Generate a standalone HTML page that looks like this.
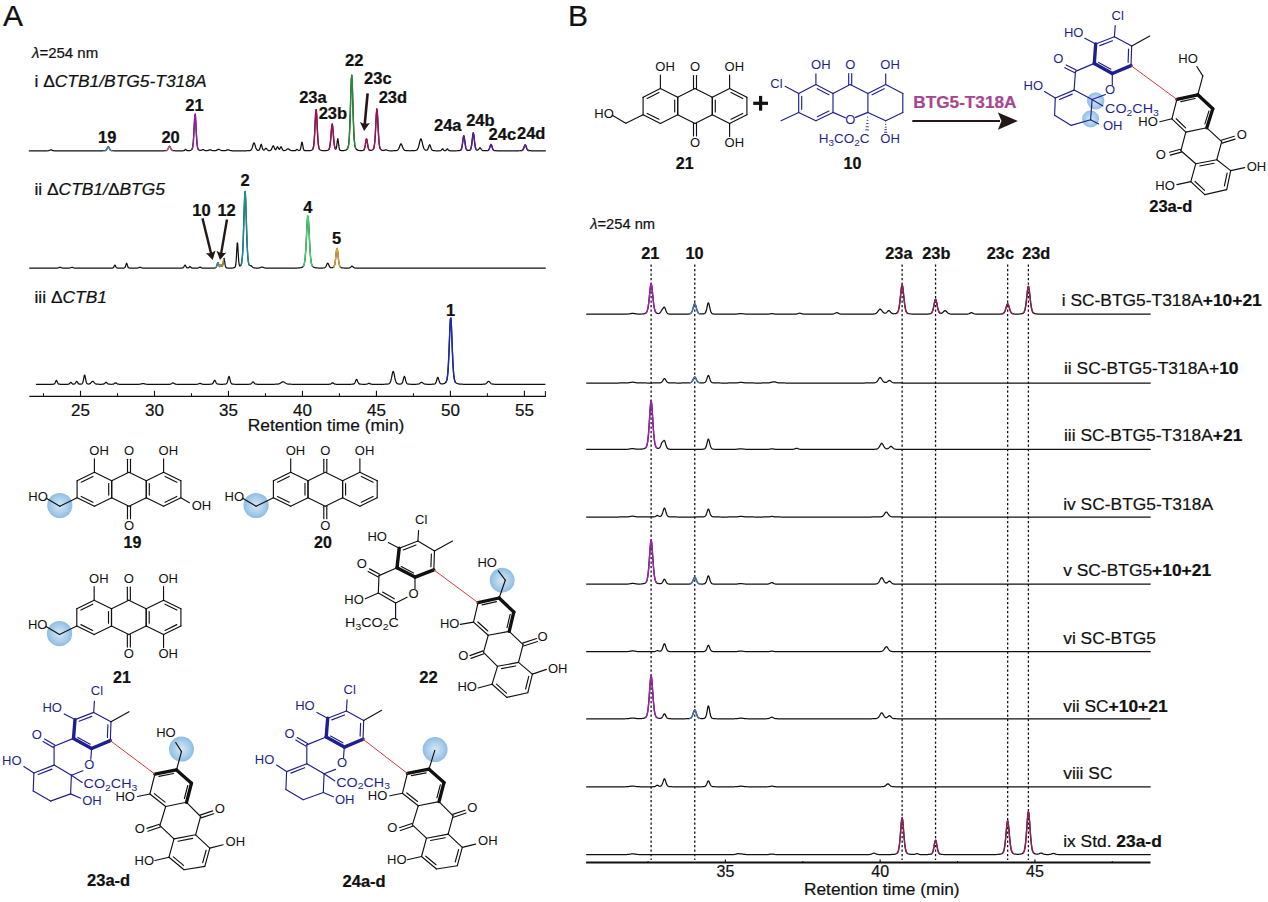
<!DOCTYPE html>
<html><head><meta charset="utf-8"><style>
html,body{margin:0;padding:0;background:#fff;}
svg{display:block;}
text{font-family:"Liberation Sans", sans-serif;stroke-width:0.22px;paint-order:stroke;}
</style></head><body>
<svg width="1268" height="902" viewBox="0 0 1268 902">
<rect width="1268" height="902" fill="#fff"/>
<defs>
<radialGradient id="bg" cx="0.5" cy="0.5" r="0.5">
<stop offset="0" stop-color="#d6e8f6"/><stop offset="0.65" stop-color="#a9cdea"/><stop offset="1" stop-color="#8dbde3"/>
</radialGradient>
</defs>
<text x="3" y="26" font-size="30" font-weight="normal" font-style="normal" text-anchor="start" fill="#111" stroke="#111">A</text>
<text x="32" y="58" font-size="15" font-weight="normal" font-style="normal" text-anchor="start" fill="#111" stroke="#111"><tspan font-style="italic">λ</tspan>=254 nm</text>
<text x="34.5" y="86.6" font-size="17.4" font-weight="normal" font-style="normal" text-anchor="start" fill="#111" stroke="#111">i Δ<tspan font-style="italic">CTB1/BTG5-T318A</tspan></text>
<text x="34.4" y="194.8" font-size="17.4" font-weight="normal" font-style="normal" text-anchor="start" fill="#111" stroke="#111">ii Δ<tspan font-style="italic">CTB1/</tspan>Δ<tspan font-style="italic">BTG5</tspan></text>
<text x="34.5" y="302.6" font-size="17.4" font-weight="normal" font-style="normal" text-anchor="start" fill="#111" stroke="#111">iii Δ<tspan font-style="italic">CTB1</tspan></text>
<path d="M28.8,150.8 L29.3,150.8 L29.8,150.8 L30.3,150.8 L30.8,150.8 L31.3,150.8 L31.8,150.8 L32.3,150.8 L32.8,150.8 L33.3,150.8 L33.8,150.8 L34.3,150.8 L34.8,150.8 L35.3,150.8 L35.8,150.8 L36.3,150.8 L36.8,150.8 L37.3,150.8 L37.8,150.8 L38.3,150.8 L38.8,150.8 L39.3,150.8 L39.8,150.8 L40.3,150.8 L40.8,150.8 L41.3,150.8 L41.8,150.8 L42.3,150.8 L42.8,150.8 L43.3,150.8 L43.8,150.8 L44.3,150.8 L44.8,150.79 L45.3,150.79 L45.8,150.79 L46.3,150.79 L46.8,150.78 L47.3,150.77 L47.8,150.75 L48.3,150.71 L48.8,150.62 L49.3,150.46 L49.8,150.22 L50.3,149.96 L50.8,149.81 L51.3,149.88 L51.8,150.11 L52.3,150.37 L52.8,150.56 L53.3,150.68 L53.8,150.74 L54.3,150.76 L54.8,150.78 L55.3,150.78 L55.8,150.79 L56.3,150.79 L56.8,150.79 L57.3,150.8 L57.8,150.8 L58.3,150.8 L58.8,150.8 L59.3,150.8 L59.8,150.8 L60.3,150.8 L60.8,150.8 L61.3,150.8 L61.8,150.8 L62.3,150.8 L62.8,150.8 L63.3,150.8 L63.8,150.8 L64.3,150.8 L64.8,150.8 L65.3,150.8 L65.8,150.8 L66.3,150.8 L66.8,150.8 L67.3,150.8 L67.8,150.8 L68.3,150.8 L68.8,150.8 L69.3,150.8 L69.8,150.8 L70.3,150.8 L70.8,150.8 L71.3,150.8 L71.8,150.8 L72.3,150.8 L72.8,150.8 L73.3,150.8 L73.8,150.8 L74.3,150.8 L74.8,150.8 L75.3,150.8 L75.8,150.8 L76.3,150.8 L76.8,150.8 L77.3,150.8 L77.8,150.8 L78.3,150.8 L78.8,150.8 L79.3,150.8 L79.8,150.8 L80.3,150.8 L80.8,150.8 L81.3,150.8 L81.8,150.8 L82.3,150.8 L82.8,150.8 L83.3,150.8 L83.8,150.8 L84.3,150.8 L84.8,150.8 L85.3,150.8 L85.8,150.8 L86.3,150.8 L86.8,150.8 L87.3,150.8 L87.8,150.8 L88.3,150.8 L88.8,150.8 L89.3,150.8 L89.8,150.8 L90.3,150.8 L90.8,150.8 L91.3,150.8 L91.8,150.8 L92.3,150.8 L92.8,150.8 L93.3,150.8 L93.8,150.8 L94.3,150.8 L94.8,150.8 L95.3,150.8 L95.8,150.8 L96.3,150.8 L96.8,150.8 L97.3,150.8 L97.8,150.8 L98.3,150.8 L98.8,150.8 L99.3,150.8 L99.8,150.79 L100.3,150.79 L100.8,150.79 L101.3,150.78 L101.8,150.78 L102.3,150.77 L102.8,150.76 L103.3,150.75 L103.8,150.73 L104.3,150.69 L104.8,150.64 L105.3,150.52 L105.8,150.28 L106.3,149.82 L106.8,149.09 L107.3,148.13 L107.8,147.21 L108.3,146.8 L108.8,147.21 L109.3,148.13 L109.8,149.09 L110.3,149.82 L110.8,150.28 L111.3,150.52 L111.8,150.64 L112.3,150.69 L112.8,150.73 L113.3,150.75 L113.8,150.76 L114.3,150.77 L114.8,150.78 L115.3,150.78 L115.8,150.79 L116.3,150.79 L116.8,150.79 L117.3,150.8 L117.8,150.8 L118.3,150.8 L118.8,150.8 L119.3,150.8 L119.8,150.8 L120.3,150.8 L120.8,150.8 L121.3,150.8 L121.8,150.8 L122.3,150.8 L122.8,150.8 L123.3,150.8 L123.8,150.8 L124.3,150.8 L124.8,150.8 L125.3,150.8 L125.8,150.8 L126.3,150.8 L126.8,150.8 L127.3,150.8 L127.8,150.8 L128.3,150.8 L128.8,150.8 L129.3,150.8 L129.8,150.8 L130.3,150.8 L130.8,150.8 L131.3,150.8 L131.8,150.8 L132.3,150.8 L132.8,150.8 L133.3,150.8 L133.8,150.8 L134.3,150.8 L134.8,150.8 L135.3,150.8 L135.8,150.8 L136.3,150.8 L136.8,150.8 L137.3,150.8 L137.8,150.8 L138.3,150.8 L138.8,150.8 L139.3,150.8 L139.8,150.8 L140.3,150.8 L140.8,150.8 L141.3,150.8 L141.8,150.8 L142.3,150.8 L142.8,150.8 L143.3,150.8 L143.8,150.8 L144.3,150.8 L144.8,150.8 L145.3,150.8 L145.8,150.8 L146.3,150.8 L146.8,150.8 L147.3,150.8 L147.8,150.8 L148.3,150.8 L148.8,150.8 L149.3,150.8 L149.8,150.8 L150.3,150.8 L150.8,150.8 L151.3,150.8 L151.8,150.8 L152.3,150.8 L152.8,150.8 L153.3,150.8 L153.8,150.8 L154.3,150.8 L154.8,150.8 L155.3,150.8 L155.8,150.8 L156.3,150.8 L156.8,150.8 L157.3,150.8 L157.8,150.8 L158.3,150.8 L158.8,150.8 L159.3,150.8 L159.8,150.8 L160.3,150.8 L160.8,150.79 L161.3,150.79 L161.8,150.79 L162.3,150.78 L162.8,150.78 L163.3,150.77 L163.8,150.76 L164.3,150.75 L164.8,150.73 L165.3,150.7 L165.8,150.65 L166.3,150.55 L166.8,150.35 L167.3,149.94 L167.8,149.24 L168.3,148.25 L168.8,147.14 L169.3,146.38 L169.8,146.47 L170.3,147.35 L170.8,148.46 L171.3,149.41 L171.8,150.04 L172.3,150.4 L172.8,150.58 L173.3,150.66 L173.8,150.71 L174.3,150.73 L174.8,150.75 L175.3,150.76 L175.8,150.77 L176.3,150.78 L176.8,150.78 L177.3,150.79 L177.8,150.79 L178.3,150.79 L178.8,150.8 L179.3,150.8 L179.8,150.8 L180.3,150.8 L180.8,150.79 L181.3,150.79 L181.8,150.79 L182.3,150.78 L182.8,150.77 L183.3,150.74 L183.8,150.66 L184.3,150.43 L184.8,149.96 L185.3,149.42 L185.8,149.35 L186.3,149.83 L186.8,150.33 L187.3,150.58 L187.8,150.67 L188.3,150.67 L188.8,150.65 L189.3,150.6 L189.8,150.53 L190.3,150.42 L190.8,150.27 L191.3,150.03 L191.8,149.61 L192.3,148.71 L192.8,146.65 L193.3,142.25 L193.8,134.53 L194.3,124.16 L194.8,115.18 L195.3,114.15 L195.8,122.05 L196.3,132.59 L196.8,140.98 L197.3,145.99 L197.8,148.42 L198.3,149.47 L198.8,149.94 L199.3,150.2 L199.8,150.35 L200.3,150.42 L200.8,150.41 L201.3,150.29 L201.8,150.06 L202.3,149.77 L202.8,149.57 L203.3,149.61 L203.8,149.87 L204.3,150.19 L204.8,150.44 L205.3,150.59 L205.8,150.66 L206.3,150.67 L206.8,150.65 L207.3,150.58 L207.8,150.46 L208.3,150.3 L208.8,150.1 L209.3,149.92 L209.8,149.8 L210.3,149.81 L210.8,149.95 L211.3,150.14 L211.8,150.33 L212.3,150.49 L212.8,150.59 L213.3,150.66 L213.8,150.69 L214.3,150.7 L214.8,150.68 L215.3,150.63 L215.8,150.54 L216.3,150.38 L216.8,150.16 L217.3,149.88 L217.8,149.59 L218.3,149.36 L218.8,149.3 L219.3,149.43 L219.8,149.7 L220.3,150 L220.8,150.26 L221.3,150.46 L221.8,150.58 L222.3,150.66 L222.8,150.7 L223.3,150.72 L223.8,150.72 L224.3,150.7 L224.8,150.66 L225.3,150.58 L225.8,150.46 L226.3,150.3 L226.8,150.1 L227.3,149.92 L227.8,149.81 L228.3,149.82 L228.8,149.96 L229.3,150.15 L229.8,150.34 L230.3,150.5 L230.8,150.62 L231.3,150.69 L231.8,150.73 L232.3,150.76 L232.8,150.77 L233.3,150.78 L233.8,150.78 L234.3,150.79 L234.8,150.79 L235.3,150.79 L235.8,150.79 L236.3,150.8 L236.8,150.8 L237.3,150.8 L237.8,150.8 L238.3,150.8 L238.8,150.8 L239.3,150.8 L239.8,150.8 L240.3,150.8 L240.8,150.8 L241.3,150.8 L241.8,150.8 L242.3,150.8 L242.8,150.79 L243.3,150.79 L243.8,150.79 L244.3,150.79 L244.8,150.78 L245.3,150.78 L245.8,150.77 L246.3,150.76 L246.8,150.75 L247.3,150.74 L247.8,150.72 L248.3,150.7 L248.8,150.66 L249.3,150.62 L249.8,150.54 L250.3,150.4 L250.8,150.12 L251.3,149.61 L251.8,148.74 L252.3,147.42 L252.8,145.73 L253.3,144.01 L253.8,142.91 L254.3,143.04 L254.8,144.32 L255.3,146.07 L255.8,147.69 L256.3,148.91 L256.8,149.69 L257.3,150.12 L257.8,150.31 L258.3,150.36 L258.8,150.26 L259.3,149.85 L259.8,148.83 L260.3,147.02 L260.8,144.97 L261.3,144.27 L261.8,145.74 L262.3,147.83 L262.8,149.32 L263.3,150 L263.8,150.12 L264.3,149.87 L264.8,149.37 L265.3,148.74 L265.8,148.29 L266.3,148.36 L266.8,148.91 L267.3,149.56 L267.8,150.08 L268.3,150.39 L268.8,150.54 L269.3,150.58 L269.8,150.55 L270.3,150.44 L270.8,150.16 L271.3,149.59 L271.8,148.62 L272.3,147.33 L272.8,146.14 L273.3,145.78 L273.8,146.53 L274.3,147.8 L274.8,148.92 L275.3,149.57 L275.8,149.61 L276.3,148.97 L276.8,147.8 L277.3,146.75 L277.8,146.88 L278.3,148.01 L278.8,149.02 L279.3,149.3 L279.8,148.76 L280.3,147.7 L280.8,146.8 L281.3,146.95 L281.8,148.03 L282.3,149.2 L282.8,149.99 L283.3,150.38 L283.8,150.53 L284.3,150.55 L284.8,150.49 L285.3,150.35 L285.8,150.12 L286.3,149.8 L286.8,149.41 L287.3,149.04 L287.8,148.82 L288.3,148.85 L288.8,149.12 L289.3,149.5 L289.8,149.89 L290.3,150.21 L290.8,150.44 L291.3,150.58 L291.8,150.66 L292.3,150.71 L292.8,150.73 L293.3,150.74 L293.8,150.74 L294.3,150.74 L294.8,150.71 L295.3,150.61 L295.8,150.34 L296.3,149.83 L296.8,149.33 L297.3,149.39 L297.8,149.9 L298.3,150.33 L298.8,150.51 L299.3,150.49 L299.8,150.27 L300.3,149.56 L300.8,147.83 L301.3,144.87 L301.8,142.12 L302.3,142.51 L302.8,145.53 L303.3,148.29 L303.8,149.79 L304.3,150.37 L304.8,150.57 L305.3,150.65 L305.8,150.7 L306.3,150.73 L306.8,150.74 L307.3,150.74 L307.8,150.73 L308.3,150.72 L308.8,150.69 L309.3,150.65 L309.8,150.6 L310.3,150.53 L310.8,150.42 L311.3,150.28 L311.8,150.07 L312.3,149.74 L312.8,149.13 L313.3,147.82 L313.8,144.99 L314.3,139.51 L314.8,130.7 L315.3,119.7 L315.8,110.64 L316.3,109.63 L316.8,117.54 L317.3,128.6 L317.8,138.01 L318.3,144.14 L318.8,147.41 L319.3,148.94 L319.8,149.64 L320.3,150.01 L320.8,150.24 L321.3,150.39 L321.8,150.5 L322.3,150.57 L322.8,150.62 L323.3,150.66 L323.8,150.67 L324.3,150.68 L324.8,150.68 L325.3,150.66 L325.8,150.63 L326.3,150.58 L326.8,150.51 L327.3,150.41 L327.8,150.26 L328.3,150.03 L328.8,149.59 L329.3,148.67 L329.8,146.8 L330.3,143.37 L330.8,138.04 L331.3,131.42 L331.8,125.6 L332.3,123.9 L332.8,127.61 L333.3,134.09 L333.8,140.31 L334.3,144.83 L334.8,147.5 L335.3,148.76 L335.8,149.03 L336.3,148.13 L336.8,145.39 L337.3,141.08 L337.8,138.54 L338.3,141.23 L338.8,145.71 L339.3,148.68 L339.8,149.93 L340.3,150.36 L340.8,150.52 L341.3,150.59 L341.8,150.63 L342.3,150.64 L342.8,150.63 L343.3,150.6 L343.8,150.55 L344.3,150.48 L344.8,150.38 L345.3,150.25 L345.8,150.07 L346.3,149.83 L346.8,149.5 L347.3,149 L347.8,148.17 L348.3,146.58 L348.8,143.4 L349.3,137.33 L349.8,126.99 L350.3,111.99 L350.8,94.29 L351.3,79.36 L351.8,75.1 L352.3,84.49 L352.8,101.43 L353.3,118.49 L353.8,131.7 L354.3,140.2 L354.8,144.93 L355.3,147.34 L355.8,148.56 L356.3,149.23 L356.8,149.65 L357.3,149.94 L357.8,150.15 L358.3,150.3 L358.8,150.42 L359.3,150.5 L359.8,150.56 L360.3,150.6 L360.8,150.62 L361.3,150.62 L361.8,150.61 L362.3,150.57 L362.8,150.5 L363.3,150.35 L363.8,150.02 L364.3,149.25 L364.8,147.65 L365.3,144.96 L365.8,141.59 L366.3,139.05 L366.8,139.38 L367.3,142.24 L367.8,145.55 L368.3,148 L368.8,149.39 L369.3,150.02 L369.8,150.26 L370.3,150.34 L370.8,150.34 L371.3,150.29 L371.8,150.19 L372.3,150.02 L372.8,149.73 L373.3,149.22 L373.8,148.17 L374.3,145.97 L374.8,141.71 L375.3,134.6 L375.8,124.87 L376.3,114.77 L376.8,108.98 L377.3,111.62 L377.8,120.67 L378.3,130.96 L378.8,139.24 L379.3,144.57 L379.8,147.48 L380.3,148.91 L380.8,149.59 L381.3,149.96 L381.8,150.18 L382.3,150.33 L382.8,150.43 L383.3,150.48 L383.8,150.46 L384.3,150.36 L384.8,150.17 L385.3,149.94 L385.8,149.77 L386.3,149.81 L386.8,150.03 L387.3,150.3 L387.8,150.51 L388.3,150.65 L388.8,150.72 L389.3,150.75 L389.8,150.76 L390.3,150.77 L390.8,150.77 L391.3,150.77 L391.8,150.77 L392.3,150.77 L392.8,150.76 L393.3,150.75 L393.8,150.74 L394.3,150.72 L394.8,150.7 L395.3,150.68 L395.8,150.64 L396.3,150.58 L396.8,150.47 L397.3,150.29 L397.8,149.95 L398.3,149.4 L398.8,148.54 L399.3,147.36 L399.8,145.99 L400.3,144.68 L400.8,143.88 L401.3,143.98 L401.8,144.92 L402.3,146.27 L402.8,147.62 L403.3,148.73 L403.8,149.53 L404.3,150.04 L404.8,150.33 L405.3,150.5 L405.8,150.59 L406.3,150.64 L406.8,150.68 L407.3,150.7 L407.8,150.72 L408.3,150.73 L408.8,150.74 L409.3,150.75 L409.8,150.75 L410.3,150.75 L410.8,150.74 L411.3,150.74 L411.8,150.73 L412.3,150.72 L412.8,150.7 L413.3,150.68 L413.8,150.65 L414.3,150.62 L414.8,150.57 L415.3,150.5 L415.8,150.4 L416.3,150.23 L416.8,149.94 L417.3,149.45 L417.8,148.66 L418.3,147.46 L418.8,145.81 L419.3,143.77 L419.8,141.6 L420.3,139.75 L420.8,138.82 L421.3,139.23 L421.8,140.78 L422.3,142.89 L422.8,145.01 L423.3,146.83 L423.8,148.2 L424.3,149.13 L424.8,149.71 L425.3,150.04 L425.8,150.2 L426.3,150.25 L426.8,150.17 L427.3,149.88 L427.8,149.22 L428.3,148.09 L428.8,146.57 L429.3,145.17 L429.8,144.76 L430.3,145.7 L430.8,147.27 L431.3,148.71 L431.8,149.68 L432.3,150.23 L432.8,150.49 L433.3,150.61 L433.8,150.67 L434.3,150.71 L434.8,150.73 L435.3,150.75 L435.8,150.76 L436.3,150.77 L436.8,150.78 L437.3,150.78 L437.8,150.78 L438.3,150.78 L438.8,150.78 L439.3,150.77 L439.8,150.75 L440.3,150.71 L440.8,150.57 L441.3,150.21 L441.8,149.54 L442.3,148.88 L442.8,148.97 L443.3,149.68 L443.8,150.29 L444.3,150.58 L444.8,150.67 L445.3,150.65 L445.8,150.5 L446.3,150.08 L446.8,149.38 L447.3,148.81 L447.8,149.09 L448.3,149.84 L448.8,150.39 L449.3,150.64 L449.8,150.73 L450.3,150.76 L450.8,150.78 L451.3,150.78 L451.8,150.79 L452.3,150.79 L452.8,150.79 L453.3,150.79 L453.8,150.79 L454.3,150.79 L454.8,150.79 L455.3,150.78 L455.8,150.78 L456.3,150.77 L456.8,150.75 L457.3,150.74 L457.8,150.71 L458.3,150.68 L458.8,150.64 L459.3,150.57 L459.8,150.48 L460.3,150.31 L460.8,149.97 L461.3,149.22 L461.8,147.69 L462.3,145.01 L462.8,141.29 L463.3,137.52 L463.8,135.79 L464.3,137.51 L464.8,141.27 L465.3,144.99 L465.8,147.65 L466.3,149.16 L466.8,149.89 L467.3,150.21 L467.8,150.33 L468.3,150.38 L468.8,150.36 L469.3,150.29 L469.8,150.12 L470.3,149.74 L470.8,148.86 L471.3,147.03 L471.8,143.83 L472.3,139.37 L472.8,134.85 L473.3,132.78 L473.8,134.85 L474.3,139.37 L474.8,143.83 L475.3,147.02 L475.8,148.85 L476.3,149.72 L476.8,150.08 L477.3,150.17 L477.8,150.05 L478.3,149.69 L478.8,149.07 L479.3,148.32 L479.8,147.78 L480.3,147.88 L480.8,148.54 L481.3,149.33 L481.8,149.97 L482.3,150.36 L482.8,150.57 L483.3,150.66 L483.8,150.7 L484.3,150.72 L484.8,150.73 L485.3,150.73 L485.8,150.72 L486.3,150.7 L486.8,150.67 L487.3,150.61 L487.8,150.51 L488.3,150.27 L488.8,149.77 L489.3,148.82 L489.8,147.36 L490.3,145.65 L490.8,144.43 L491.3,144.58 L491.8,145.99 L492.3,147.69 L492.8,149.05 L493.3,149.9 L493.8,150.34 L494.3,150.54 L494.8,150.64 L495.3,150.69 L495.8,150.72 L496.3,150.74 L496.8,150.76 L497.3,150.77 L497.8,150.78 L498.3,150.78 L498.8,150.79 L499.3,150.79 L499.8,150.79 L500.3,150.8 L500.8,150.8 L501.3,150.8 L501.8,150.8 L502.3,150.8 L502.8,150.8 L503.3,150.8 L503.8,150.8 L504.3,150.8 L504.8,150.8 L505.3,150.8 L505.8,150.8 L506.3,150.8 L506.8,150.8 L507.3,150.8 L507.8,150.8 L508.3,150.8 L508.8,150.8 L509.3,150.8 L509.8,150.8 L510.3,150.8 L510.8,150.8 L511.3,150.8 L511.8,150.8 L512.3,150.8 L512.8,150.8 L513.3,150.8 L513.8,150.8 L514.3,150.8 L514.8,150.8 L515.3,150.8 L515.8,150.79 L516.3,150.79 L516.8,150.79 L517.3,150.79 L517.8,150.78 L518.3,150.77 L518.8,150.77 L519.3,150.75 L519.8,150.74 L520.3,150.71 L520.8,150.68 L521.3,150.63 L521.8,150.53 L522.3,150.33 L522.8,149.91 L523.3,149.15 L523.8,147.97 L524.3,146.5 L524.8,145.2 L525.3,144.83 L525.8,145.65 L526.3,147.1 L526.8,148.49 L527.3,149.5 L527.8,150.11 L528.3,150.43 L528.8,150.58 L529.3,150.65 L529.8,150.7 L530.3,150.72 L530.8,150.74 L531.3,150.76 L531.8,150.77 L532.3,150.78 L532.8,150.78 L533.3,150.79 L533.8,150.79 L534.3,150.79 L534.8,150.8 L535.3,150.8 L535.8,150.8 L536.3,150.8 L536.8,150.8 L537.3,150.8 L537.8,150.8 L538.3,150.8 L538.8,150.8 L539.3,150.8 L539.8,150.8 L540.3,150.8 L540.8,150.8 L541.3,150.8 L541.8,150.8 L542.3,150.8 L542.8,150.8 L543.3,150.8 L543.8,150.8 L544.3,150.8 L544.8,150.8 L545.3,150.8 L545.8,150.8" fill="none" stroke="#111" stroke-width="1.25" stroke-linejoin="round"/>
<path d="M104.3,150.69 L104.8,150.64 L105.3,150.52 L105.8,150.28 L106.3,149.82 L106.8,149.09 L107.3,148.13 L107.8,147.21 L108.3,146.8 L108.8,147.21 L109.3,148.13 L109.8,149.09 L110.3,149.82 L110.8,150.28 L111.3,150.52 L111.8,150.64 L112.3,150.69" fill="none" stroke="#4a78c0" stroke-width="1.4" stroke-linejoin="round"/>
<path d="M165.8,150.65 L166.3,150.55 L166.8,150.35 L167.3,149.94 L167.8,149.24 L168.3,148.25 L168.8,147.14 L169.3,146.38 L169.8,146.47 L170.3,147.35 L170.8,148.46 L171.3,149.41 L171.8,150.04 L172.3,150.4 L172.8,150.58 L173.3,150.66" fill="none" stroke="#c0508a" stroke-width="1.4" stroke-linejoin="round"/>
<path d="M191.8,149.61 L192.3,148.71 L192.8,146.65 L193.3,142.25 L193.8,134.53 L194.3,124.16 L194.8,115.18 L195.3,114.15 L195.8,122.05 L196.3,132.59 L196.8,140.98 L197.3,145.99 L197.8,148.42 L198.3,149.47" fill="none" stroke="#9020a8" stroke-width="1.4" stroke-linejoin="round"/>
<path d="M312.3,149.74 L312.8,149.13 L313.3,147.82 L313.8,144.99 L314.3,139.51 L314.8,130.7 L315.3,119.7 L315.8,110.64 L316.3,109.63 L316.8,117.54 L317.3,128.6 L317.8,138.01 L318.3,144.14 L318.8,147.41 L319.3,148.94 L319.8,149.64" fill="none" stroke="#a0105a" stroke-width="1.4" stroke-linejoin="round"/>
<path d="M328.3,150.03 L328.8,149.59 L329.3,148.67 L329.8,146.8 L330.3,143.37 L330.8,138.04 L331.3,131.42 L331.8,125.6 L332.3,123.9 L332.8,127.61 L333.3,134.09 L333.8,140.31 L334.3,144.83 L334.8,147.5 L335.3,148.76 L335.8,149.03 L336.3,148.13" fill="none" stroke="#a0105a" stroke-width="1.4" stroke-linejoin="round"/>
<path d="M347.3,149 L347.8,148.17 L348.3,146.58 L348.8,143.4 L349.3,137.33 L349.8,126.99 L350.3,111.99 L350.8,94.29 L351.3,79.36 L351.8,75.1 L352.3,84.49 L352.8,101.43 L353.3,118.49 L353.8,131.7 L354.3,140.2 L354.8,144.93 L355.3,147.34 L355.8,148.56" fill="none" stroke="#2a8a3a" stroke-width="1.4" stroke-linejoin="round"/>
<path d="M363.3,150.35 L363.8,150.02 L364.3,149.25 L364.8,147.65 L365.3,144.96 L365.8,141.59 L366.3,139.05 L366.8,139.38 L367.3,142.24 L367.8,145.55 L368.3,148 L368.8,149.39 L369.3,150.02 L369.8,150.26" fill="none" stroke="#a0105a" stroke-width="1.4" stroke-linejoin="round"/>
<path d="M372.8,149.73 L373.3,149.22 L373.8,148.17 L374.3,145.97 L374.8,141.71 L375.3,134.6 L375.8,124.87 L376.3,114.77 L376.8,108.98 L377.3,111.62 L377.8,120.67 L378.3,130.96 L378.8,139.24 L379.3,144.57 L379.8,147.48 L380.3,148.91 L380.8,149.59" fill="none" stroke="#a0105a" stroke-width="1.4" stroke-linejoin="round"/>
<path d="M460.3,150.31 L460.8,149.97 L461.3,149.22 L461.8,147.69 L462.3,145.01 L462.8,141.29 L463.3,137.52 L463.8,135.79 L464.3,137.51 L464.8,141.27 L465.3,144.99 L465.8,147.65 L466.3,149.16 L466.8,149.89 L467.3,150.21" fill="none" stroke="#5a1a9a" stroke-width="1.4" stroke-linejoin="round"/>
<path d="M469.8,150.12 L470.3,149.74 L470.8,148.86 L471.3,147.03 L471.8,143.83 L472.3,139.37 L472.8,134.85 L473.3,132.78 L473.8,134.85 L474.3,139.37 L474.8,143.83 L475.3,147.02 L475.8,148.85 L476.3,149.72 L476.8,150.08" fill="none" stroke="#5a1a9a" stroke-width="1.4" stroke-linejoin="round"/>
<path d="M487.3,150.61 L487.8,150.51 L488.3,150.27 L488.8,149.77 L489.3,148.82 L489.8,147.36 L490.3,145.65 L490.8,144.43 L491.3,144.58 L491.8,145.99 L492.3,147.69 L492.8,149.05 L493.3,149.9 L493.8,150.34 L494.3,150.54 L494.8,150.64" fill="none" stroke="#5a1a9a" stroke-width="1.4" stroke-linejoin="round"/>
<path d="M521.3,150.63 L521.8,150.53 L522.3,150.33 L522.8,149.91 L523.3,149.15 L523.8,147.97 L524.3,146.5 L524.8,145.2 L525.3,144.83 L525.8,145.65 L526.3,147.1 L526.8,148.49 L527.3,149.5 L527.8,150.11 L528.3,150.43 L528.8,150.58 L529.3,150.65" fill="none" stroke="#5a1a9a" stroke-width="1.4" stroke-linejoin="round"/>
<path d="M29.2,268.1 L29.7,268.1 L30.2,268.1 L30.7,268.1 L31.2,268.1 L31.7,268.1 L32.2,268.1 L32.7,268.1 L33.2,268.1 L33.7,268.1 L34.2,268.1 L34.7,268.1 L35.2,268.1 L35.7,268.1 L36.2,268.1 L36.7,268.1 L37.2,268.1 L37.7,268.1 L38.2,268.1 L38.7,268.1 L39.2,268.1 L39.7,268.1 L40.2,268.1 L40.7,268.1 L41.2,268.1 L41.7,268.1 L42.2,268.1 L42.7,268.1 L43.2,268.1 L43.7,268.1 L44.2,268.1 L44.7,268.1 L45.2,268.1 L45.7,268.1 L46.2,268.1 L46.7,268.1 L47.2,268.1 L47.7,268.1 L48.2,268.1 L48.7,268.1 L49.2,268.1 L49.7,268.1 L50.2,268.1 L50.7,268.1 L51.2,268.1 L51.7,268.1 L52.2,268.1 L52.7,268.1 L53.2,268.1 L53.7,268.1 L54.2,268.09 L54.7,268.09 L55.2,268.09 L55.7,268.09 L56.2,268.08 L56.7,268.07 L57.2,268.04 L57.7,267.99 L58.2,267.88 L58.7,267.72 L59.2,267.51 L59.7,267.34 L60.2,267.32 L60.7,267.47 L61.2,267.68 L61.7,267.86 L62.2,267.97 L62.7,268.03 L63.2,268.06 L63.7,268.08 L64.2,268.08 L64.7,268.09 L65.2,268.09 L65.7,268.09 L66.2,268.09 L66.7,268.09 L67.2,268.09 L67.7,268.08 L68.2,268.08 L68.7,268.07 L69.2,268.04 L69.7,267.99 L70.2,267.88 L70.7,267.72 L71.2,267.51 L71.7,267.34 L72.2,267.32 L72.7,267.47 L73.2,267.68 L73.7,267.86 L74.2,267.97 L74.7,268.04 L75.2,268.06 L75.7,268.08 L76.2,268.09 L76.7,268.09 L77.2,268.09 L77.7,268.09 L78.2,268.1 L78.7,268.1 L79.2,268.1 L79.7,268.1 L80.2,268.1 L80.7,268.1 L81.2,268.1 L81.7,268.1 L82.2,268.1 L82.7,268.1 L83.2,268.1 L83.7,268.1 L84.2,268.1 L84.7,268.1 L85.2,268.1 L85.7,268.1 L86.2,268.1 L86.7,268.1 L87.2,268.1 L87.7,268.1 L88.2,268.1 L88.7,268.1 L89.2,268.1 L89.7,268.1 L90.2,268.1 L90.7,268.1 L91.2,268.1 L91.7,268.1 L92.2,268.1 L92.7,268.1 L93.2,268.1 L93.7,268.1 L94.2,268.1 L94.7,268.1 L95.2,268.1 L95.7,268.1 L96.2,268.1 L96.7,268.1 L97.2,268.1 L97.7,268.1 L98.2,268.1 L98.7,268.1 L99.2,268.1 L99.7,268.1 L100.2,268.1 L100.7,268.1 L101.2,268.1 L101.7,268.1 L102.2,268.1 L102.7,268.1 L103.2,268.1 L103.7,268.1 L104.2,268.1 L104.7,268.1 L105.2,268.1 L105.7,268.1 L106.2,268.1 L106.7,268.1 L107.2,268.1 L107.7,268.1 L108.2,268.1 L108.7,268.1 L109.2,268.1 L109.7,268.09 L110.2,268.09 L110.7,268.08 L111.2,268.07 L111.7,268.06 L112.2,268.03 L112.7,267.96 L113.2,267.76 L113.7,267.22 L114.2,266.21 L114.7,265.22 L115.2,265.36 L115.7,266.44 L116.2,267.36 L116.7,267.82 L117.2,267.98 L117.7,268.04 L118.2,268.06 L118.7,268.08 L119.2,268.08 L119.7,268.09 L120.2,268.09 L120.7,268.09 L121.2,268.09 L121.7,268.08 L122.2,268.08 L122.7,268.06 L123.2,268.04 L123.7,268.01 L124.2,267.93 L124.7,267.71 L125.2,267.08 L125.7,265.7 L126.2,263.84 L126.7,263.15 L127.2,264.57 L127.7,266.35 L128.2,267.41 L128.7,267.83 L129.2,267.97 L129.7,268.02 L130.2,268.05 L130.7,268.07 L131.2,268.08 L131.7,268.09 L132.2,268.09 L132.7,268.09 L133.2,268.09 L133.7,268.09 L134.2,268.09 L134.7,268.09 L135.2,268.09 L135.7,268.09 L136.2,268.08 L136.7,268.07 L137.2,268.04 L137.7,267.99 L138.2,267.88 L138.7,267.72 L139.2,267.51 L139.7,267.34 L140.2,267.32 L140.7,267.47 L141.2,267.68 L141.7,267.86 L142.2,267.97 L142.7,268.04 L143.2,268.06 L143.7,268.08 L144.2,268.09 L144.7,268.09 L145.2,268.09 L145.7,268.09 L146.2,268.1 L146.7,268.1 L147.2,268.1 L147.7,268.1 L148.2,268.1 L148.7,268.1 L149.2,268.1 L149.7,268.1 L150.2,268.1 L150.7,268.1 L151.2,268.1 L151.7,268.1 L152.2,268.1 L152.7,268.1 L153.2,268.1 L153.7,268.1 L154.2,268.1 L154.7,268.1 L155.2,268.1 L155.7,268.1 L156.2,268.1 L156.7,268.1 L157.2,268.1 L157.7,268.1 L158.2,268.1 L158.7,268.1 L159.2,268.1 L159.7,268.1 L160.2,268.1 L160.7,268.1 L161.2,268.1 L161.7,268.1 L162.2,268.1 L162.7,268.1 L163.2,268.1 L163.7,268.1 L164.2,268.1 L164.7,268.1 L165.2,268.1 L165.7,268.1 L166.2,268.1 L166.7,268.1 L167.2,268.1 L167.7,268.1 L168.2,268.1 L168.7,268.1 L169.2,268.1 L169.7,268.1 L170.2,268.1 L170.7,268.1 L171.2,268.1 L171.7,268.1 L172.2,268.1 L172.7,268.1 L173.2,268.1 L173.7,268.1 L174.2,268.1 L174.7,268.1 L175.2,268.1 L175.7,268.1 L176.2,268.1 L176.7,268.1 L177.2,268.1 L177.7,268.1 L178.2,268.1 L178.7,268.09 L179.2,268.09 L179.7,268.09 L180.2,268.08 L180.7,268.07 L181.2,268.06 L181.7,268.04 L182.2,268 L182.7,267.91 L183.2,267.65 L183.7,267.1 L184.2,266.2 L184.7,265.3 L185.2,265.19 L185.7,265.99 L186.2,266.93 L186.7,267.55 L187.2,267.84 L187.7,267.93 L188.2,267.9 L188.7,267.69 L189.2,267.24 L189.7,266.71 L190.2,266.65 L190.7,267.15 L191.2,267.65 L191.7,267.93 L192.2,268.03 L192.7,268.06 L193.2,268.08 L193.7,268.08 L194.2,268.09 L194.7,268.09 L195.2,268.09 L195.7,268.09 L196.2,268.09 L196.7,268.08 L197.2,268.07 L197.7,268.04 L198.2,267.95 L198.7,267.77 L199.2,267.47 L199.7,267.17 L200.2,267.13 L200.7,267.4 L201.2,267.71 L201.7,267.92 L202.2,268.02 L202.7,268.06 L203.2,268.08 L203.7,268.09 L204.2,268.09 L204.7,268.09 L205.2,268.1 L205.7,268.1 L206.2,268.1 L206.7,268.1 L207.2,268.1 L207.7,268.1 L208.2,268.1 L208.7,268.1 L209.2,268.1 L209.7,268.1 L210.2,268.1 L210.7,268.1 L211.2,268.09 L211.7,268.09 L212.2,268.08 L212.7,268.08 L213.2,268.07 L213.7,268.05 L214.2,268.02 L214.7,267.98 L215.2,267.89 L215.7,267.68 L216.2,267.12 L216.7,265.96 L217.2,264.22 L217.7,262.72 L218.2,262.89 L218.7,264.48 L219.2,265.96 L219.7,266.5 L220.2,266 L220.7,265.06 L221.2,264.9 L221.7,265.75 L222.2,266.24 L222.7,265.28 L223.2,262.41 L223.7,258.89 L224.2,258.45 L224.7,261.77 L225.2,265.14 L225.7,266.96 L226.2,267.63 L226.7,267.86 L227.2,267.96 L227.7,268.01 L228.2,268.04 L228.7,268.06 L229.2,268.08 L229.7,268.08 L230.2,268.08 L230.7,268.08 L231.2,268.07 L231.7,268.05 L232.2,268.03 L232.7,267.99 L233.2,267.92 L233.7,267.83 L234.2,267.68 L234.7,267.41 L235.2,266.81 L235.7,265.03 L236.2,260.28 L236.7,251.5 L237.2,242.85 L237.7,243.99 L238.2,253.19 L238.7,261.05 L239.2,264.79 L239.7,265.91 L240.2,265.99 L240.7,265.59 L241.2,264.66 L241.7,262.72 L242.2,258.93 L242.7,252.07 L243.2,241.1 L243.7,226.05 L244.2,209.07 L244.7,195.22 L245.2,191.36 L245.7,199.94 L246.2,215.83 L246.7,232.48 L247.2,246.02 L247.7,255.27 L248.2,260.74 L248.7,263.61 L249.2,264.96 L249.7,265.49 L250.2,265.6 L250.7,265.62 L251.2,265.83 L251.7,266.3 L252.2,266.84 L252.7,267.28 L253.2,267.59 L253.7,267.77 L254.2,267.87 L254.7,267.93 L255.2,267.97 L255.7,268 L256.2,268.02 L256.7,268.03 L257.2,268.03 L257.7,268.03 L258.2,268.01 L258.7,267.98 L259.2,267.91 L259.7,267.8 L260.2,267.64 L260.7,267.45 L261.2,267.26 L261.7,267.12 L262.2,267.11 L262.7,267.23 L263.2,267.41 L263.7,267.61 L264.2,267.78 L264.7,267.9 L265.2,267.98 L265.7,268.03 L266.2,268.05 L266.7,268.07 L267.2,268.08 L267.7,268.08 L268.2,268.09 L268.7,268.09 L269.2,268.09 L269.7,268.09 L270.2,268.09 L270.7,268.1 L271.2,268.1 L271.7,268.1 L272.2,268.1 L272.7,268.1 L273.2,268.1 L273.7,268.1 L274.2,268.1 L274.7,268.1 L275.2,268.1 L275.7,268.1 L276.2,268.1 L276.7,268.1 L277.2,268.1 L277.7,268.1 L278.2,268.1 L278.7,268.1 L279.2,268.1 L279.7,268.1 L280.2,268.1 L280.7,268.1 L281.2,268.1 L281.7,268.1 L282.2,268.1 L282.7,268.1 L283.2,268.1 L283.7,268.1 L284.2,268.1 L284.7,268.1 L285.2,268.1 L285.7,268.1 L286.2,268.1 L286.7,268.1 L287.2,268.1 L287.7,268.1 L288.2,268.1 L288.7,268.1 L289.2,268.1 L289.7,268.1 L290.2,268.1 L290.7,268.1 L291.2,268.1 L291.7,268.1 L292.2,268.09 L292.7,268.09 L293.2,268.09 L293.7,268.09 L294.2,268.08 L294.7,268.08 L295.2,268.07 L295.7,268.06 L296.2,268.05 L296.7,268.04 L297.2,268.02 L297.7,268 L298.2,267.97 L298.7,267.93 L299.2,267.88 L299.7,267.83 L300.2,267.75 L300.7,267.66 L301.2,267.54 L301.7,267.38 L302.2,267.17 L302.7,266.87 L303.2,266.41 L303.7,265.63 L304.2,264.24 L304.7,261.74 L305.2,257.52 L305.7,251.05 L306.2,242.23 L306.7,231.87 L307.2,222.02 L307.7,215.99 L308.2,216.72 L308.7,223.8 L309.2,233.99 L309.7,244.16 L310.2,252.54 L310.7,258.53 L311.2,262.35 L311.7,264.59 L312.2,265.83 L312.7,266.52 L313.2,266.94 L313.7,267.22 L314.2,267.41 L314.7,267.56 L315.2,267.68 L315.7,267.77 L316.2,267.84 L316.7,267.89 L317.2,267.94 L317.7,267.97 L318.2,268 L318.7,268.02 L319.2,268.03 L319.7,268.04 L320.2,268.05 L320.7,268.05 L321.2,268.05 L321.7,268.05 L322.2,268.04 L322.7,268.02 L323.2,268 L323.7,267.96 L324.2,267.89 L324.7,267.75 L325.2,267.44 L325.7,266.87 L326.2,265.95 L326.7,264.75 L327.2,263.6 L327.7,263.08 L328.2,263.58 L328.7,264.73 L329.2,265.91 L329.7,266.81 L330.2,267.36 L330.7,267.63 L331.2,267.73 L331.7,267.75 L332.2,267.71 L332.7,267.61 L333.2,267.43 L333.7,267.07 L334.2,266.29 L334.7,264.71 L335.2,261.9 L335.7,257.71 L336.2,252.76 L336.7,248.87 L337.2,248.45 L337.7,251.83 L338.2,256.75 L338.7,261.18 L339.2,264.28 L339.7,266.08 L340.2,266.99 L340.7,267.42 L341.2,267.65 L341.7,267.78 L342.2,267.86 L342.7,267.92 L343.2,267.97 L343.7,268 L344.2,268.03 L344.7,268.04 L345.2,268.05 L345.7,268.06 L346.2,268.07 L346.7,268.07 L347.2,268.06 L347.7,268.06 L348.2,268.04 L348.7,268.02 L349.2,267.96 L349.7,267.82 L350.2,267.56 L350.7,267.14 L351.2,266.62 L351.7,266.19 L352.2,266.14 L352.7,266.52 L353.2,267.04 L353.7,267.49 L354.2,267.78 L354.7,267.94 L355.2,268.01 L355.7,268.05 L356.2,268.06 L356.7,268.07 L357.2,268.08 L357.7,268.09 L358.2,268.09 L358.7,268.09 L359.2,268.09 L359.7,268.1 L360.2,268.1 L360.7,268.1 L361.2,268.1 L361.7,268.1 L362.2,268.1 L362.7,268.1 L363.2,268.1 L363.7,268.1 L364.2,268.1 L364.7,268.1 L365.2,268.1 L365.7,268.1 L366.2,268.1 L366.7,268.1 L367.2,268.1 L367.7,268.1 L368.2,268.1 L368.7,268.1 L369.2,268.1 L369.7,268.1 L370.2,268.1 L370.7,268.1 L371.2,268.1 L371.7,268.1 L372.2,268.1 L372.7,268.1 L373.2,268.1 L373.7,268.1 L374.2,268.1 L374.7,268.1 L375.2,268.1 L375.7,268.1 L376.2,268.1 L376.7,268.1 L377.2,268.1 L377.7,268.1 L378.2,268.1 L378.7,268.1 L379.2,268.1 L379.7,268.1 L380.2,268.1 L380.7,268.1 L381.2,268.1 L381.7,268.1 L382.2,268.1 L382.7,268.1 L383.2,268.1 L383.7,268.1 L384.2,268.1 L384.7,268.1 L385.2,268.1 L385.7,268.1 L386.2,268.1 L386.7,268.1 L387.2,268.1 L387.7,268.1 L388.2,268.1 L388.7,268.1 L389.2,268.1 L389.7,268.1 L390.2,268.1 L390.7,268.1 L391.2,268.1 L391.7,268.1 L392.2,268.1 L392.7,268.1 L393.2,268.1 L393.7,268.1 L394.2,268.1 L394.7,268.1 L395.2,268.1 L395.7,268.1 L396.2,268.1 L396.7,268.1 L397.2,268.1 L397.7,268.1 L398.2,268.1 L398.7,268.1 L399.2,268.1 L399.7,268.1 L400.2,268.1 L400.7,268.1 L401.2,268.1 L401.7,268.1 L402.2,268.1 L402.7,268.1 L403.2,268.1 L403.7,268.1 L404.2,268.1 L404.7,268.1 L405.2,268.1 L405.7,268.1 L406.2,268.1 L406.7,268.1 L407.2,268.1 L407.7,268.1 L408.2,268.1 L408.7,268.1 L409.2,268.1 L409.7,268.1 L410.2,268.1 L410.7,268.1 L411.2,268.1 L411.7,268.1 L412.2,268.1 L412.7,268.1 L413.2,268.1 L413.7,268.1 L414.2,268.1 L414.7,268.1 L415.2,268.1 L415.7,268.1 L416.2,268.1 L416.7,268.1 L417.2,268.1 L417.7,268.1 L418.2,268.1 L418.7,268.1 L419.2,268.1 L419.7,268.1 L420.2,268.1 L420.7,268.1 L421.2,268.1 L421.7,268.1 L422.2,268.1 L422.7,268.1 L423.2,268.1 L423.7,268.1 L424.2,268.1 L424.7,268.1 L425.2,268.1 L425.7,268.1 L426.2,268.1 L426.7,268.1 L427.2,268.1 L427.7,268.1 L428.2,268.1 L428.7,268.1 L429.2,268.1 L429.7,268.1 L430.2,268.1 L430.7,268.1 L431.2,268.1 L431.7,268.1 L432.2,268.1 L432.7,268.1 L433.2,268.1 L433.7,268.1 L434.2,268.1 L434.7,268.1 L435.2,268.1 L435.7,268.1 L436.2,268.1 L436.7,268.1 L437.2,268.1 L437.7,268.1 L438.2,268.1 L438.7,268.1 L439.2,268.1 L439.7,268.1 L440.2,268.1 L440.7,268.1 L441.2,268.1 L441.7,268.1 L442.2,268.1 L442.7,268.1 L443.2,268.1 L443.7,268.1 L444.2,268.1 L444.7,268.1 L445.2,268.1 L445.7,268.1 L446.2,268.1 L446.7,268.1 L447.2,268.1 L447.7,268.1 L448.2,268.1 L448.7,268.1 L449.2,268.1 L449.7,268.1 L450.2,268.1 L450.7,268.1 L451.2,268.1 L451.7,268.1 L452.2,268.1 L452.7,268.1 L453.2,268.1 L453.7,268.1 L454.2,268.1 L454.7,268.1 L455.2,268.1 L455.7,268.1 L456.2,268.1 L456.7,268.1 L457.2,268.1 L457.7,268.1 L458.2,268.1 L458.7,268.1 L459.2,268.1 L459.7,268.1 L460.2,268.1 L460.7,268.1 L461.2,268.1 L461.7,268.1 L462.2,268.1 L462.7,268.1 L463.2,268.1 L463.7,268.1 L464.2,268.1 L464.7,268.1 L465.2,268.1 L465.7,268.1 L466.2,268.1 L466.7,268.1 L467.2,268.1 L467.7,268.1 L468.2,268.1 L468.7,268.1 L469.2,268.1 L469.7,268.1 L470.2,268.1 L470.7,268.1 L471.2,268.1 L471.7,268.1 L472.2,268.1 L472.7,268.1 L473.2,268.1 L473.7,268.1 L474.2,268.1 L474.7,268.1 L475.2,268.1 L475.7,268.1 L476.2,268.1 L476.7,268.1 L477.2,268.1 L477.7,268.1 L478.2,268.1 L478.7,268.1 L479.2,268.1 L479.7,268.1 L480.2,268.1 L480.7,268.1 L481.2,268.1 L481.7,268.1 L482.2,268.1 L482.7,268.1 L483.2,268.1 L483.7,268.1 L484.2,268.1 L484.7,268.1 L485.2,268.1 L485.7,268.1 L486.2,268.1 L486.7,268.1 L487.2,268.1 L487.7,268.1 L488.2,268.1 L488.7,268.1 L489.2,268.1 L489.7,268.1 L490.2,268.1 L490.7,268.1 L491.2,268.1 L491.7,268.1 L492.2,268.1 L492.7,268.1 L493.2,268.1 L493.7,268.1 L494.2,268.1 L494.7,268.1 L495.2,268.1 L495.7,268.1 L496.2,268.1 L496.7,268.1 L497.2,268.1 L497.7,268.1 L498.2,268.1 L498.7,268.1 L499.2,268.1 L499.7,268.1 L500.2,268.1 L500.7,268.1 L501.2,268.1 L501.7,268.1 L502.2,268.1 L502.7,268.1 L503.2,268.1 L503.7,268.1 L504.2,268.1 L504.7,268.1 L505.2,268.1 L505.7,268.1 L506.2,268.1 L506.7,268.1 L507.2,268.1 L507.7,268.1 L508.2,268.1 L508.7,268.1 L509.2,268.1 L509.7,268.1 L510.2,268.1 L510.7,268.1 L511.2,268.1 L511.7,268.1 L512.2,268.1 L512.7,268.1 L513.2,268.1 L513.7,268.1 L514.2,268.1 L514.7,268.1 L515.2,268.1 L515.7,268.1 L516.2,268.1 L516.7,268.1 L517.2,268.1 L517.7,268.1 L518.2,268.1 L518.7,268.1 L519.2,268.1 L519.7,268.1 L520.2,268.1 L520.7,268.1 L521.2,268.1 L521.7,268.1 L522.2,268.1 L522.7,268.1 L523.2,268.1 L523.7,268.1 L524.2,268.1 L524.7,268.1 L525.2,268.1 L525.7,268.1 L526.2,268.1 L526.7,268.1 L527.2,268.1 L527.7,268.1 L528.2,268.1 L528.7,268.1 L529.2,268.1 L529.7,268.1 L530.2,268.1 L530.7,268.1 L531.2,268.1 L531.7,268.1 L532.2,268.1 L532.7,268.1 L533.2,268.1 L533.7,268.1 L534.2,268.1 L534.7,268.1 L535.2,268.1 L535.7,268.1 L536.2,268.1 L536.7,268.1 L537.2,268.1 L537.7,268.1 L538.2,268.1 L538.7,268.1 L539.2,268.1 L539.7,268.1 L540.2,268.1 L540.7,268.1 L541.2,268.1 L541.7,268.1 L542.2,268.1 L542.7,268.1 L543.2,268.1 L543.7,268.1 L544.2,268.1 L544.7,268.1 L545.2,268.1 L545.7,268.1" fill="none" stroke="#111" stroke-width="1.25" stroke-linejoin="round"/>
<path d="M215.2,267.89 L215.7,267.68 L216.2,267.12 L216.7,265.96 L217.2,264.22 L217.7,262.72 L218.2,262.89 L218.7,264.48 L219.2,265.96 L219.7,266.5 L220.2,266 L220.7,265.06" fill="none" stroke="#4a80b0" stroke-width="1.4" stroke-linejoin="round"/>
<path d="M218.7,264.48 L219.2,265.96 L219.7,266.5 L220.2,266 L220.7,265.06 L221.2,264.9 L221.7,265.75 L222.2,266.24 L222.7,265.28 L223.2,262.41 L223.7,258.89" fill="none" stroke="#a09030" stroke-width="1.4" stroke-linejoin="round"/>
<path d="M240.7,265.59 L241.2,264.66 L241.7,262.72 L242.2,258.93 L242.7,252.07 L243.2,241.1 L243.7,226.05 L244.2,209.07 L244.7,195.22 L245.2,191.36 L245.7,199.94 L246.2,215.83 L246.7,232.48 L247.2,246.02 L247.7,255.27 L248.2,260.74 L248.7,263.61 L249.2,264.96 L249.7,265.49" fill="none" stroke="#1a9090" stroke-width="1.4" stroke-linejoin="round"/>
<path d="M303.2,266.41 L303.7,265.63 L304.2,264.24 L304.7,261.74 L305.2,257.52 L305.7,251.05 L306.2,242.23 L306.7,231.87 L307.2,222.02 L307.7,215.99 L308.2,216.72 L308.7,223.8 L309.2,233.99 L309.7,244.16 L310.2,252.54 L310.7,258.53 L311.2,262.35 L311.7,264.59 L312.2,265.83 L312.7,266.52" fill="none" stroke="#40d070" stroke-width="1.4" stroke-linejoin="round"/>
<path d="M333.2,267.43 L333.7,267.07 L334.2,266.29 L334.7,264.71 L335.2,261.9 L335.7,257.71 L336.2,252.76 L336.7,248.87 L337.2,248.45 L337.7,251.83 L338.2,256.75 L338.7,261.18 L339.2,264.28 L339.7,266.08 L340.2,266.99 L340.7,267.42" fill="none" stroke="#e0a030" stroke-width="1.4" stroke-linejoin="round"/>
<path d="M35.9,384.3 L36.4,384.3 L36.9,384.3 L37.4,384.3 L37.9,384.3 L38.4,384.3 L38.9,384.3 L39.4,384.3 L39.9,384.3 L40.4,384.3 L40.9,384.3 L41.4,384.3 L41.9,384.3 L42.4,384.3 L42.9,384.3 L43.4,384.3 L43.9,384.3 L44.4,384.3 L44.9,384.3 L45.4,384.3 L45.9,384.3 L46.4,384.3 L46.9,384.3 L47.4,384.3 L47.9,384.3 L48.4,384.3 L48.9,384.3 L49.4,384.3 L49.9,384.29 L50.4,384.29 L50.9,384.29 L51.4,384.28 L51.9,384.27 L52.4,384.26 L52.9,384.23 L53.4,384.19 L53.9,384.11 L54.4,383.88 L54.9,383.32 L55.4,382.29 L55.9,380.99 L56.4,380.3 L56.9,380.99 L57.4,382.29 L57.9,383.32 L58.4,383.88 L58.9,384.11 L59.4,384.19 L59.9,384.23 L60.4,384.26 L60.9,384.27 L61.4,384.28 L61.9,384.29 L62.4,384.29 L62.9,384.29 L63.4,384.29 L63.9,384.3 L64.4,384.3 L64.9,384.29 L65.4,384.29 L65.9,384.29 L66.4,384.28 L66.9,384.28 L67.4,384.26 L67.9,384.24 L68.4,384.19 L68.9,384.05 L69.4,383.72 L69.9,383.16 L70.4,382.52 L70.9,382.3 L71.4,382.75 L71.9,383.39 L72.4,383.85 L72.9,384.07 L73.4,384.14 L73.9,384.12 L74.4,384.01 L74.9,383.72 L75.4,383.13 L75.9,382.26 L76.4,381.46 L76.9,381.37 L77.4,382.08 L77.9,382.97 L78.4,383.62 L78.9,383.96 L79.4,384.1 L79.9,384.14 L80.4,384.13 L80.9,384.09 L81.4,384.01 L81.9,383.82 L82.4,383.33 L82.9,382.21 L83.4,380.13 L83.9,377.29 L84.4,375.03 L84.9,375.33 L85.4,377.86 L85.9,380.61 L86.4,382.48 L86.9,383.43 L87.4,383.83 L87.9,383.97 L88.4,384.01 L88.9,383.99 L89.4,383.9 L89.9,383.7 L90.4,383.38 L90.9,382.91 L91.4,382.34 L91.9,381.77 L92.4,381.37 L92.9,381.33 L93.4,381.67 L93.9,382.24 L94.4,382.83 L94.9,383.33 L95.4,383.7 L95.9,383.94 L96.4,384.08 L96.9,384.16 L97.4,384.2 L97.9,384.23 L98.4,384.24 L98.9,384.25 L99.4,384.26 L99.9,384.26 L100.4,384.27 L100.9,384.26 L101.4,384.26 L101.9,384.25 L102.4,384.23 L102.9,384.2 L103.4,384.11 L103.9,383.93 L104.4,383.61 L104.9,383.14 L105.4,382.62 L105.9,382.31 L106.4,382.45 L106.9,382.92 L107.4,383.44 L107.9,383.82 L108.4,384.05 L108.9,384.17 L109.4,384.22 L109.9,384.24 L110.4,384.25 L110.9,384.26 L111.4,384.26 L111.9,384.25 L112.4,384.22 L112.9,384.17 L113.4,384.06 L113.9,383.84 L114.4,383.5 L114.9,383.11 L115.4,382.83 L115.9,382.86 L116.4,383.19 L116.9,383.58 L117.4,383.9 L117.9,384.09 L118.4,384.19 L118.9,384.24 L119.4,384.26 L119.9,384.27 L120.4,384.28 L120.9,384.29 L121.4,384.29 L121.9,384.29 L122.4,384.29 L122.9,384.3 L123.4,384.3 L123.9,384.3 L124.4,384.3 L124.9,384.3 L125.4,384.3 L125.9,384.3 L126.4,384.3 L126.9,384.3 L127.4,384.3 L127.9,384.3 L128.4,384.3 L128.9,384.3 L129.4,384.3 L129.9,384.3 L130.4,384.3 L130.9,384.3 L131.4,384.3 L131.9,384.3 L132.4,384.3 L132.9,384.3 L133.4,384.3 L133.9,384.3 L134.4,384.3 L134.9,384.3 L135.4,384.29 L135.9,384.29 L136.4,384.29 L136.9,384.29 L137.4,384.29 L137.9,384.28 L138.4,384.27 L138.9,384.26 L139.4,384.24 L139.9,384.19 L140.4,384.12 L140.9,384.02 L141.4,383.88 L141.9,383.72 L142.4,383.58 L142.9,383.5 L143.4,383.54 L143.9,383.66 L144.4,383.81 L144.9,383.96 L145.4,384.08 L145.9,384.17 L146.4,384.22 L146.9,384.25 L147.4,384.27 L147.9,384.28 L148.4,384.28 L148.9,384.29 L149.4,384.29 L149.9,384.29 L150.4,384.29 L150.9,384.3 L151.4,384.3 L151.9,384.3 L152.4,384.3 L152.9,384.3 L153.4,384.3 L153.9,384.3 L154.4,384.3 L154.9,384.3 L155.4,384.3 L155.9,384.3 L156.4,384.3 L156.9,384.3 L157.4,384.3 L157.9,384.3 L158.4,384.3 L158.9,384.3 L159.4,384.3 L159.9,384.3 L160.4,384.3 L160.9,384.3 L161.4,384.3 L161.9,384.3 L162.4,384.3 L162.9,384.3 L163.4,384.3 L163.9,384.3 L164.4,384.3 L164.9,384.3 L165.4,384.3 L165.9,384.3 L166.4,384.29 L166.9,384.29 L167.4,384.29 L167.9,384.28 L168.4,384.28 L168.9,384.27 L169.4,384.26 L169.9,384.23 L170.4,384.16 L170.9,384.03 L171.4,383.78 L171.9,383.43 L172.4,383.04 L172.9,382.81 L173.4,382.91 L173.9,383.27 L174.4,383.65 L174.9,383.95 L175.4,384.12 L175.9,384.21 L176.4,384.25 L176.9,384.27 L177.4,384.28 L177.9,384.28 L178.4,384.29 L178.9,384.29 L179.4,384.29 L179.9,384.3 L180.4,384.3 L180.9,384.3 L181.4,384.3 L181.9,384.3 L182.4,384.3 L182.9,384.3 L183.4,384.3 L183.9,384.3 L184.4,384.3 L184.9,384.3 L185.4,384.3 L185.9,384.3 L186.4,384.3 L186.9,384.3 L187.4,384.3 L187.9,384.3 L188.4,384.3 L188.9,384.3 L189.4,384.3 L189.9,384.3 L190.4,384.3 L190.9,384.3 L191.4,384.3 L191.9,384.3 L192.4,384.3 L192.9,384.3 L193.4,384.3 L193.9,384.29 L194.4,384.29 L194.9,384.29 L195.4,384.29 L195.9,384.28 L196.4,384.27 L196.9,384.25 L197.4,384.21 L197.9,384.12 L198.4,383.96 L198.9,383.72 L199.4,383.46 L199.9,383.31 L200.4,383.38 L200.9,383.61 L201.4,383.87 L201.9,384.06 L202.4,384.18 L202.9,384.24 L203.4,384.26 L203.9,384.28 L204.4,384.28 L204.9,384.29 L205.4,384.29 L205.9,384.29 L206.4,384.29 L206.9,384.29 L207.4,384.29 L207.9,384.28 L208.4,384.28 L208.9,384.27 L209.4,384.26 L209.9,384.25 L210.4,384.23 L210.9,384.2 L211.4,384.14 L211.9,384.02 L212.4,383.75 L212.9,383.22 L213.4,382.39 L213.9,381.34 L214.4,380.48 L214.9,380.38 L215.4,381.13 L215.9,382.19 L216.4,383.08 L216.9,383.67 L217.4,383.98 L217.9,384.12 L218.4,384.19 L218.9,384.22 L219.4,384.24 L219.9,384.26 L220.4,384.27 L220.9,384.27 L221.4,384.27 L221.9,384.27 L222.4,384.27 L222.9,384.26 L223.4,384.25 L223.9,384.23 L224.4,384.21 L224.9,384.17 L225.4,384.11 L225.9,383.99 L226.4,383.72 L226.9,383.11 L227.4,381.91 L227.9,379.98 L228.4,377.74 L228.9,376.35 L229.4,376.99 L229.9,379.08 L230.4,381.22 L230.9,382.72 L231.4,383.53 L231.9,383.91 L232.4,384.07 L232.9,384.15 L233.4,384.2 L233.9,384.23 L234.4,384.25 L234.9,384.26 L235.4,384.27 L235.9,384.28 L236.4,384.29 L236.9,384.29 L237.4,384.29 L237.9,384.3 L238.4,384.3 L238.9,384.3 L239.4,384.3 L239.9,384.3 L240.4,384.3 L240.9,384.3 L241.4,384.3 L241.9,384.3 L242.4,384.3 L242.9,384.3 L243.4,384.3 L243.9,384.3 L244.4,384.3 L244.9,384.3 L245.4,384.29 L245.9,384.29 L246.4,384.29 L246.9,384.29 L247.4,384.28 L247.9,384.27 L248.4,384.26 L248.9,384.25 L249.4,384.23 L249.9,384.18 L250.4,384.07 L250.9,383.85 L251.4,383.44 L251.9,382.85 L252.4,382.2 L252.9,381.81 L253.4,381.99 L253.9,382.58 L254.4,383.22 L254.9,383.71 L255.4,384 L255.9,384.14 L256.4,384.21 L256.9,384.24 L257.4,384.26 L257.9,384.27 L258.4,384.28 L258.9,384.28 L259.4,384.29 L259.9,384.29 L260.4,384.29 L260.9,384.3 L261.4,384.3 L261.9,384.3 L262.4,384.3 L262.9,384.3 L263.4,384.3 L263.9,384.3 L264.4,384.3 L264.9,384.3 L265.4,384.3 L265.9,384.3 L266.4,384.3 L266.9,384.3 L267.4,384.3 L267.9,384.29 L268.4,384.29 L268.9,384.29 L269.4,384.29 L269.9,384.29 L270.4,384.29 L270.9,384.29 L271.4,384.28 L271.9,384.28 L272.4,384.28 L272.9,384.27 L273.4,384.27 L273.9,384.26 L274.4,384.26 L274.9,384.25 L275.4,384.24 L275.9,384.22 L276.4,384.2 L276.9,384.17 L277.4,384.12 L277.9,384.05 L278.4,383.95 L278.9,383.81 L279.4,383.63 L279.9,383.39 L280.4,383.1 L280.9,382.78 L281.4,382.45 L281.9,382.14 L282.4,381.91 L282.9,381.8 L283.4,381.85 L283.9,382.04 L284.4,382.32 L284.9,382.65 L285.4,382.98 L285.9,383.28 L286.4,383.54 L286.9,383.75 L287.4,383.9 L287.9,384.02 L288.4,384.1 L288.9,384.15 L289.4,384.19 L289.9,384.21 L290.4,384.23 L290.9,384.24 L291.4,384.25 L291.9,384.26 L292.4,384.27 L292.9,384.27 L293.4,384.28 L293.9,384.28 L294.4,384.28 L294.9,384.29 L295.4,384.29 L295.9,384.29 L296.4,384.29 L296.9,384.29 L297.4,384.29 L297.9,384.29 L298.4,384.3 L298.9,384.3 L299.4,384.3 L299.9,384.3 L300.4,384.3 L300.9,384.3 L301.4,384.3 L301.9,384.3 L302.4,384.3 L302.9,384.3 L303.4,384.3 L303.9,384.3 L304.4,384.3 L304.9,384.3 L305.4,384.3 L305.9,384.3 L306.4,384.3 L306.9,384.3 L307.4,384.3 L307.9,384.3 L308.4,384.3 L308.9,384.3 L309.4,384.3 L309.9,384.3 L310.4,384.3 L310.9,384.3 L311.4,384.3 L311.9,384.3 L312.4,384.3 L312.9,384.3 L313.4,384.3 L313.9,384.3 L314.4,384.3 L314.9,384.3 L315.4,384.3 L315.9,384.3 L316.4,384.3 L316.9,384.3 L317.4,384.3 L317.9,384.3 L318.4,384.3 L318.9,384.3 L319.4,384.3 L319.9,384.3 L320.4,384.3 L320.9,384.3 L321.4,384.3 L321.9,384.3 L322.4,384.3 L322.9,384.3 L323.4,384.3 L323.9,384.3 L324.4,384.3 L324.9,384.3 L325.4,384.3 L325.9,384.29 L326.4,384.29 L326.9,384.29 L327.4,384.29 L327.9,384.28 L328.4,384.27 L328.9,384.26 L329.4,384.23 L329.9,384.18 L330.4,384.06 L330.9,383.84 L331.4,383.51 L331.9,383.11 L332.4,382.83 L332.9,382.87 L333.4,383.19 L333.9,383.58 L334.4,383.9 L334.9,384.09 L335.4,384.19 L335.9,384.24 L336.4,384.26 L336.9,384.27 L337.4,384.28 L337.9,384.29 L338.4,384.29 L338.9,384.29 L339.4,384.29 L339.9,384.3 L340.4,384.3 L340.9,384.3 L341.4,384.3 L341.9,384.3 L342.4,384.3 L342.9,384.3 L343.4,384.3 L343.9,384.3 L344.4,384.3 L344.9,384.3 L345.4,384.3 L345.9,384.3 L346.4,384.3 L346.9,384.3 L347.4,384.3 L347.9,384.3 L348.4,384.29 L348.9,384.29 L349.4,384.29 L349.9,384.28 L350.4,384.27 L350.9,384.27 L351.4,384.25 L351.9,384.23 L352.4,384.21 L352.9,384.16 L353.4,384.08 L353.9,383.9 L354.4,383.51 L354.9,382.78 L355.4,381.66 L355.9,380.34 L356.4,379.4 L356.9,379.52 L357.4,380.6 L357.9,381.91 L358.4,382.96 L358.9,383.61 L359.4,383.94 L359.9,384.1 L360.4,384.17 L360.9,384.21 L361.4,384.24 L361.9,384.25 L362.4,384.26 L362.9,384.27 L363.4,384.28 L363.9,384.28 L364.4,384.28 L364.9,384.27 L365.4,384.27 L365.9,384.25 L366.4,384.21 L366.9,384.12 L367.4,383.96 L367.9,383.72 L368.4,383.46 L368.9,383.3 L369.4,383.38 L369.9,383.61 L370.4,383.87 L370.9,384.06 L371.4,384.18 L371.9,384.24 L372.4,384.26 L372.9,384.28 L373.4,384.28 L373.9,384.29 L374.4,384.29 L374.9,384.29 L375.4,384.3 L375.9,384.3 L376.4,384.3 L376.9,384.3 L377.4,384.3 L377.9,384.3 L378.4,384.3 L378.9,384.3 L379.4,384.3 L379.9,384.29 L380.4,384.29 L380.9,384.29 L381.4,384.29 L381.9,384.29 L382.4,384.28 L382.9,384.28 L383.4,384.27 L383.9,384.26 L384.4,384.25 L384.9,384.24 L385.4,384.22 L385.9,384.2 L386.4,384.17 L386.9,384.13 L387.4,384.08 L387.9,384.01 L388.4,383.91 L388.9,383.74 L389.4,383.43 L389.9,382.88 L390.4,381.94 L390.9,380.46 L391.4,378.4 L391.9,375.89 L392.4,373.37 L392.9,371.62 L393.4,371.44 L393.9,372.93 L394.4,375.36 L394.9,377.92 L395.4,380.09 L395.9,381.68 L396.4,382.72 L396.9,383.33 L397.4,383.67 L397.9,383.85 L398.4,383.95 L398.9,384.01 L399.4,384.03 L399.9,384.04 L400.4,384.02 L400.9,383.95 L401.4,383.79 L401.9,383.4 L402.4,382.6 L402.9,381.18 L403.4,379.2 L403.9,377.2 L404.4,376.28 L404.9,377.21 L405.4,379.22 L405.9,381.21 L406.4,382.63 L406.9,383.45 L407.4,383.85 L407.9,384.03 L408.4,384.12 L408.9,384.18 L409.4,384.21 L409.9,384.23 L410.4,384.25 L410.9,384.26 L411.4,384.27 L411.9,384.28 L412.4,384.28 L412.9,384.28 L413.4,384.28 L413.9,384.28 L414.4,384.28 L414.9,384.28 L415.4,384.27 L415.9,384.26 L416.4,384.25 L416.9,384.23 L417.4,384.2 L417.9,384.14 L418.4,384.03 L418.9,383.86 L419.4,383.59 L419.9,383.24 L420.4,382.85 L420.9,382.49 L421.4,382.31 L421.9,382.39 L422.4,382.69 L422.9,383.09 L423.4,383.46 L423.9,383.76 L424.4,383.97 L424.9,384.1 L425.4,384.18 L425.9,384.22 L426.4,384.24 L426.9,384.26 L427.4,384.27 L427.9,384.27 L428.4,384.28 L428.9,384.28 L429.4,384.28 L429.9,384.28 L430.4,384.28 L430.9,384.27 L431.4,384.26 L431.9,384.25 L432.4,384.24 L432.9,384.22 L433.4,384.18 L433.9,384.13 L434.4,384.04 L434.9,383.85 L435.4,383.45 L435.9,382.63 L436.4,381.27 L436.9,379.47 L437.4,377.81 L437.9,377.3 L438.4,378.37 L438.9,380.18 L439.4,381.82 L439.9,382.93 L440.4,383.53 L440.9,383.79 L441.4,383.89 L441.9,383.9 L442.4,383.87 L442.9,383.81 L443.4,383.71 L443.9,383.58 L444.4,383.4 L444.9,383.16 L445.4,382.81 L445.9,382.28 L446.4,381.4 L446.9,379.83 L447.4,376.99 L447.9,372.13 L448.4,364.52 L448.9,353.87 L449.4,340.93 L449.9,327.98 L450.4,318.98 L450.9,318.05 L451.4,325.72 L451.9,338.24 L452.4,351.42 L452.9,362.62 L453.4,370.85 L453.9,376.21 L454.4,379.39 L454.9,381.16 L455.4,382.15 L455.9,382.74 L456.4,383.12 L456.9,383.38 L457.4,383.58 L457.9,383.74 L458.4,383.86 L458.9,383.95 L459.4,384.03 L459.9,384.09 L460.4,384.13 L460.9,384.17 L461.4,384.2 L461.9,384.22 L462.4,384.24 L462.9,384.25 L463.4,384.26 L463.9,384.27 L464.4,384.28 L464.9,384.28 L465.4,384.29 L465.9,384.29 L466.4,384.29 L466.9,384.3 L467.4,384.3 L467.9,384.3 L468.4,384.3 L468.9,384.3 L469.4,384.3 L469.9,384.3 L470.4,384.3 L470.9,384.3 L471.4,384.3 L471.9,384.3 L472.4,384.3 L472.9,384.3 L473.4,384.3 L473.9,384.3 L474.4,384.3 L474.9,384.3 L475.4,384.3 L475.9,384.3 L476.4,384.3 L476.9,384.3 L477.4,384.3 L477.9,384.3 L478.4,384.29 L478.9,384.29 L479.4,384.29 L479.9,384.29 L480.4,384.28 L480.9,384.28 L481.4,384.27 L481.9,384.27 L482.4,384.26 L482.9,384.25 L483.4,384.23 L483.9,384.2 L484.4,384.16 L484.9,384.08 L485.4,383.94 L485.9,383.7 L486.4,383.33 L486.9,382.83 L487.4,382.24 L487.9,381.68 L488.4,381.33 L488.9,381.38 L489.4,381.78 L489.9,382.36 L490.4,382.94 L490.9,383.41 L491.4,383.76 L491.9,383.97 L492.4,384.1 L492.9,384.17 L493.4,384.21 L493.9,384.23 L494.4,384.25 L494.9,384.26 L495.4,384.27 L495.9,384.28 L496.4,384.28 L496.9,384.29 L497.4,384.29 L497.9,384.29 L498.4,384.29 L498.9,384.29 L499.4,384.3 L499.9,384.3 L500.4,384.3 L500.9,384.3 L501.4,384.3 L501.9,384.3 L502.4,384.3 L502.9,384.3 L503.4,384.3 L503.9,384.3 L504.4,384.3 L504.9,384.3 L505.4,384.3 L505.9,384.3 L506.4,384.3 L506.9,384.3 L507.4,384.3 L507.9,384.3 L508.4,384.3 L508.9,384.3 L509.4,384.3 L509.9,384.3 L510.4,384.3 L510.9,384.3 L511.4,384.3 L511.9,384.3 L512.4,384.3 L512.9,384.3 L513.4,384.3 L513.9,384.3 L514.4,384.3 L514.9,384.3 L515.4,384.3 L515.9,384.3 L516.4,384.3 L516.9,384.3 L517.4,384.3 L517.9,384.3 L518.4,384.3 L518.9,384.3 L519.4,384.3 L519.9,384.3 L520.4,384.3 L520.9,384.3 L521.4,384.3 L521.9,384.3 L522.4,384.3 L522.9,384.3 L523.4,384.3 L523.9,384.3 L524.4,384.3 L524.9,384.3 L525.4,384.3 L525.9,384.3 L526.4,384.3 L526.9,384.3 L527.4,384.3 L527.9,384.3 L528.4,384.3 L528.9,384.3 L529.4,384.3 L529.9,384.3 L530.4,384.3 L530.9,384.3 L531.4,384.3 L531.9,384.3 L532.4,384.3 L532.9,384.3 L533.4,384.3 L533.9,384.3 L534.4,384.3 L534.9,384.3 L535.4,384.3 L535.9,384.3 L536.4,384.3 L536.9,384.3 L537.4,384.3 L537.9,384.3 L538.4,384.3 L538.9,384.3 L539.4,384.3 L539.9,384.3 L540.4,384.3 L540.9,384.3 L541.4,384.3 L541.9,384.3 L542.4,384.3 L542.9,384.3 L543.4,384.3 L543.9,384.3 L544.4,384.3 L544.9,384.3 L545.4,384.3" fill="none" stroke="#111" stroke-width="1.25" stroke-linejoin="round"/>
<path d="M445.9,382.28 L446.4,381.4 L446.9,379.83 L447.4,376.99 L447.9,372.13 L448.4,364.52 L448.9,353.87 L449.4,340.93 L449.9,327.98 L450.4,318.98 L450.9,318.05 L451.4,325.72 L451.9,338.24 L452.4,351.42 L452.9,362.62 L453.4,370.85 L453.9,376.21 L454.4,379.39 L454.9,381.16 L455.4,382.15" fill="none" stroke="#1a2ab8" stroke-width="1.4" stroke-linejoin="round"/>
<text x="107.2" y="142.9" font-size="16.5" font-weight="bold" font-style="normal" text-anchor="middle" fill="#111" stroke="#111">19</text>
<text x="170.6" y="142.9" font-size="16.5" font-weight="bold" font-style="normal" text-anchor="middle" fill="#111" stroke="#111">20</text>
<text x="194.4" y="110.5" font-size="16.5" font-weight="bold" font-style="normal" text-anchor="middle" fill="#111" stroke="#111">21</text>
<text x="299.2" y="102.6" font-size="16.5" font-weight="bold" font-style="normal" text-anchor="start" fill="#111" stroke="#111">23a</text>
<text x="318.7" y="119.3" font-size="16.5" font-weight="bold" font-style="normal" text-anchor="start" fill="#111" stroke="#111">23b</text>
<text x="354.2" y="66.4" font-size="16.5" font-weight="bold" font-style="normal" text-anchor="middle" fill="#111" stroke="#111">22</text>
<text x="364.1" y="84.1" font-size="16.5" font-weight="bold" font-style="normal" text-anchor="start" fill="#111" stroke="#111">23c</text>
<text x="378.7" y="102.6" font-size="16.5" font-weight="bold" font-style="normal" text-anchor="start" fill="#111" stroke="#111">23d</text>
<text x="434" y="130.5" font-size="16.5" font-weight="bold" font-style="normal" text-anchor="start" fill="#111" stroke="#111">24a</text>
<text x="466.2" y="125.5" font-size="16.5" font-weight="bold" font-style="normal" text-anchor="start" fill="#111" stroke="#111">24b</text>
<text x="488.6" y="140.4" font-size="16.5" font-weight="bold" font-style="normal" text-anchor="start" fill="#111" stroke="#111">24c</text>
<text x="517" y="139" font-size="16.5" font-weight="bold" font-style="normal" text-anchor="start" fill="#111" stroke="#111">24d</text>
<text x="201.5" y="215.8" font-size="16.5" font-weight="bold" font-style="normal" text-anchor="middle" fill="#111" stroke="#111">10</text>
<text x="226.6" y="215.8" font-size="16.5" font-weight="bold" font-style="normal" text-anchor="middle" fill="#111" stroke="#111">12</text>
<text x="245" y="185.6" font-size="16.5" font-weight="bold" font-style="normal" text-anchor="middle" fill="#111" stroke="#111">2</text>
<text x="307.9" y="212.7" font-size="16.5" font-weight="bold" font-style="normal" text-anchor="middle" fill="#111" stroke="#111">4</text>
<text x="336.6" y="243.6" font-size="16.5" font-weight="bold" font-style="normal" text-anchor="middle" fill="#111" stroke="#111">5</text>
<text x="450.5" y="315.6" font-size="16.5" font-weight="bold" font-style="normal" text-anchor="middle" fill="#111" stroke="#111">1</text>
<line x1="367.6" y1="93.4" x2="364.7" y2="124.53" stroke="#231815" stroke-width="2.6"/>
<path d="M364.1,131 L359.91,122.07 Q364.66,125.03 369.87,123 Z" fill="#231815"/>
<line x1="202.5" y1="218.4" x2="211.15" y2="253.69" stroke="#231815" stroke-width="2.4"/>
<path d="M212.7,260 L205.82,252.94 Q211.27,254.17 215.53,250.55 Z" fill="#231815"/>
<line x1="227" y1="219.5" x2="221.11" y2="253.59" stroke="#231815" stroke-width="2.4"/>
<path d="M220,260 L216.52,250.77 Q221.02,254.09 226.37,252.48 Z" fill="#231815"/>
<line x1="29.3" y1="396.4" x2="545.9" y2="396.4" stroke="#111" stroke-width="1.4"/>
<line x1="80.5" y1="396.4" x2="80.5" y2="390.8" stroke="#111" stroke-width="1.1"/>
<text x="80.5" y="416.4" font-size="17" font-weight="normal" font-style="normal" text-anchor="middle" fill="#111" stroke="#111">25</text>
<line x1="154.49" y1="396.4" x2="154.49" y2="390.8" stroke="#111" stroke-width="1.1"/>
<text x="154.49" y="416.4" font-size="17" font-weight="normal" font-style="normal" text-anchor="middle" fill="#111" stroke="#111">30</text>
<line x1="228.47" y1="396.4" x2="228.47" y2="390.8" stroke="#111" stroke-width="1.1"/>
<text x="228.47" y="416.4" font-size="17" font-weight="normal" font-style="normal" text-anchor="middle" fill="#111" stroke="#111">35</text>
<line x1="302.46" y1="396.4" x2="302.46" y2="390.8" stroke="#111" stroke-width="1.1"/>
<text x="302.46" y="416.4" font-size="17" font-weight="normal" font-style="normal" text-anchor="middle" fill="#111" stroke="#111">40</text>
<line x1="376.44" y1="396.4" x2="376.44" y2="390.8" stroke="#111" stroke-width="1.1"/>
<text x="376.44" y="416.4" font-size="17" font-weight="normal" font-style="normal" text-anchor="middle" fill="#111" stroke="#111">45</text>
<line x1="450.43" y1="396.4" x2="450.43" y2="390.8" stroke="#111" stroke-width="1.1"/>
<text x="450.43" y="416.4" font-size="17" font-weight="normal" font-style="normal" text-anchor="middle" fill="#111" stroke="#111">50</text>
<line x1="524.41" y1="396.4" x2="524.41" y2="390.8" stroke="#111" stroke-width="1.1"/>
<text x="524.41" y="416.4" font-size="17" font-weight="normal" font-style="normal" text-anchor="middle" fill="#111" stroke="#111">55</text>
<line x1="43.51" y1="396.4" x2="43.51" y2="393.2" stroke="#111" stroke-width="1.0"/>
<line x1="117.49" y1="396.4" x2="117.49" y2="393.2" stroke="#111" stroke-width="1.0"/>
<line x1="191.48" y1="396.4" x2="191.48" y2="393.2" stroke="#111" stroke-width="1.0"/>
<line x1="265.46" y1="396.4" x2="265.46" y2="393.2" stroke="#111" stroke-width="1.0"/>
<line x1="339.45" y1="396.4" x2="339.45" y2="393.2" stroke="#111" stroke-width="1.0"/>
<line x1="413.43" y1="396.4" x2="413.43" y2="393.2" stroke="#111" stroke-width="1.0"/>
<line x1="487.42" y1="396.4" x2="487.42" y2="393.2" stroke="#111" stroke-width="1.0"/>
<line x1="545.4" y1="396.4" x2="545.4" y2="391" stroke="#111" stroke-width="1.0"/>
<text x="247.8" y="430.5" font-size="17.4" font-weight="normal" font-style="normal" text-anchor="start" fill="#111" stroke="#111">Retention time (min)</text>
<text x="568" y="26" font-size="30" font-weight="normal" font-style="normal" text-anchor="start" fill="#111" stroke="#111">B</text>
<text x="590.3" y="228.8" font-size="14.7" font-weight="normal" font-style="normal" text-anchor="start" fill="#111" stroke="#111"><tspan font-style="italic">λ</tspan>=254 nm</text>
<line x1="651.12" y1="264.5" x2="651.12" y2="860" stroke="#111" stroke-width="1.3" stroke-dasharray="2.2,2.3"/>
<line x1="694.76" y1="264.5" x2="694.76" y2="860" stroke="#111" stroke-width="1.3" stroke-dasharray="2.2,2.3"/>
<line x1="902.12" y1="264.5" x2="902.12" y2="860" stroke="#111" stroke-width="1.3" stroke-dasharray="2.2,2.3"/>
<line x1="935.55" y1="264.5" x2="935.55" y2="860" stroke="#111" stroke-width="1.3" stroke-dasharray="2.2,2.3"/>
<line x1="1007.66" y1="264.5" x2="1007.66" y2="860" stroke="#111" stroke-width="1.3" stroke-dasharray="2.2,2.3"/>
<line x1="1028.4" y1="264.5" x2="1028.4" y2="860" stroke="#111" stroke-width="1.3" stroke-dasharray="2.2,2.3"/>
<text x="650.3" y="259.2" font-size="16.3" font-weight="bold" font-style="normal" text-anchor="middle" fill="#111" stroke="#111">21</text>
<text x="694.6" y="259.2" font-size="16.3" font-weight="bold" font-style="normal" text-anchor="middle" fill="#111" stroke="#111">10</text>
<text x="898.9" y="259.2" font-size="16.3" font-weight="bold" font-style="normal" text-anchor="middle" fill="#111" stroke="#111">23a</text>
<text x="936.3" y="259.2" font-size="16.3" font-weight="bold" font-style="normal" text-anchor="middle" fill="#111" stroke="#111">23b</text>
<text x="1000.4" y="259.2" font-size="16.3" font-weight="bold" font-style="normal" text-anchor="middle" fill="#111" stroke="#111">23c</text>
<text x="1036.2" y="259.2" font-size="16.3" font-weight="bold" font-style="normal" text-anchor="middle" fill="#111" stroke="#111">23d</text>
<path d="M586.2,314.2 L586.7,314.2 L587.2,314.2 L587.7,314.2 L588.2,314.2 L588.7,314.2 L589.2,314.2 L589.7,314.2 L590.2,314.2 L590.7,314.2 L591.2,314.2 L591.7,314.2 L592.2,314.2 L592.7,314.2 L593.2,314.2 L593.7,314.2 L594.2,314.2 L594.7,314.2 L595.2,314.2 L595.7,314.2 L596.2,314.2 L596.7,314.2 L597.2,314.2 L597.7,314.2 L598.2,314.2 L598.7,314.2 L599.2,314.2 L599.7,314.2 L600.2,314.2 L600.7,314.2 L601.2,314.2 L601.7,314.2 L602.2,314.2 L602.7,314.2 L603.2,314.2 L603.7,314.2 L604.2,314.2 L604.7,314.2 L605.2,314.2 L605.7,314.2 L606.2,314.2 L606.7,314.2 L607.2,314.2 L607.7,314.2 L608.2,314.2 L608.7,314.2 L609.2,314.2 L609.7,314.2 L610.2,314.2 L610.7,314.2 L611.2,314.2 L611.7,314.2 L612.2,314.2 L612.7,314.2 L613.2,314.2 L613.7,314.2 L614.2,314.2 L614.7,314.2 L615.2,314.2 L615.7,314.2 L616.2,314.2 L616.7,314.2 L617.2,314.2 L617.7,314.2 L618.2,314.2 L618.7,314.2 L619.2,314.19 L619.7,314.19 L620.2,314.19 L620.7,314.19 L621.2,314.19 L621.7,314.19 L622.2,314.19 L622.7,314.18 L623.2,314.18 L623.7,314.18 L624.2,314.17 L624.7,314.17 L625.2,314.16 L625.7,314.15 L626.2,314.13 L626.7,314.11 L627.2,314.08 L627.7,314.05 L628.2,314 L628.7,313.94 L629.2,313.86 L629.7,313.78 L630.2,313.69 L630.7,313.6 L631.2,313.52 L631.7,313.45 L632.2,313.41 L632.7,313.4 L633.2,313.43 L633.7,313.48 L634.2,313.56 L634.7,313.65 L635.2,313.73 L635.7,313.82 L636.2,313.89 L636.7,313.95 L637.2,314 L637.7,314.04 L638.2,314.06 L638.7,314.08 L639.2,314.08 L639.7,314.08 L640.2,314.07 L640.7,314.06 L641.2,314.03 L641.7,314 L642.2,313.97 L642.7,313.92 L643.2,313.86 L643.7,313.79 L644.2,313.7 L644.7,313.57 L645.2,313.4 L645.7,313.14 L646.2,312.73 L646.7,312.05 L647.2,310.94 L647.7,309.18 L648.2,306.55 L648.7,302.93 L649.2,298.38 L649.7,293.26 L650.2,288.34 L650.7,284.76 L651.2,283.73 L651.7,285.68 L652.2,289.83 L652.7,294.92 L653.2,299.91 L653.7,304.19 L654.2,307.48 L654.7,309.8 L655.2,311.32 L655.7,312.26 L656.2,312.83 L656.7,313.16 L657.2,313.36 L657.7,313.48 L658.2,313.53 L658.7,313.5 L659.2,313.37 L659.7,313.08 L660.2,312.58 L660.7,311.85 L661.2,310.97 L661.7,310.08 L662.2,309.36 L662.7,308.77 L663.2,308.13 L663.7,307.44 L664.2,307.06 L664.7,307.42 L665.2,308.52 L665.7,309.96 L666.2,311.32 L666.7,312.38 L667.2,313.11 L667.7,313.56 L668.2,313.8 L668.7,313.94 L669.2,314.01 L669.7,314.06 L670.2,314.1 L670.7,314.12 L671.2,314.14 L671.7,314.15 L672.2,314.16 L672.7,314.17 L673.2,314.18 L673.7,314.18 L674.2,314.19 L674.7,314.19 L675.2,314.19 L675.7,314.19 L676.2,314.2 L676.7,314.2 L677.2,314.2 L677.7,314.2 L678.2,314.2 L678.7,314.2 L679.2,314.2 L679.7,314.2 L680.2,314.19 L680.7,314.19 L681.2,314.19 L681.7,314.19 L682.2,314.19 L682.7,314.18 L683.2,314.18 L683.7,314.18 L684.2,314.17 L684.7,314.16 L685.2,314.15 L685.7,314.14 L686.2,314.13 L686.7,314.11 L687.2,314.09 L687.7,314.06 L688.2,314.03 L688.7,313.98 L689.2,313.92 L689.7,313.82 L690.2,313.65 L690.7,313.37 L691.2,312.9 L691.7,312.15 L692.2,311.05 L692.7,309.57 L693.2,307.78 L693.7,305.93 L694.2,304.4 L694.7,303.71 L695.2,304.14 L695.7,305.51 L696.2,307.33 L696.7,309.16 L697.2,310.72 L697.7,311.91 L698.2,312.73 L698.7,313.25 L699.2,313.57 L699.7,313.75 L700.2,313.85 L700.7,313.91 L701.2,313.94 L701.7,313.95 L702.2,313.95 L702.7,313.93 L703.2,313.9 L703.7,313.83 L704.2,313.7 L704.7,313.46 L705.2,312.99 L705.7,312.16 L706.2,310.8 L706.7,308.86 L707.2,306.5 L707.7,304.2 L708.2,302.81 L708.7,303.06 L709.2,304.82 L709.7,307.21 L710.2,309.49 L710.7,311.28 L711.2,312.47 L711.7,313.19 L712.2,313.59 L712.7,313.8 L713.2,313.92 L713.7,313.99 L714.2,314.04 L714.7,314.08 L715.2,314.1 L715.7,314.13 L716.2,314.14 L716.7,314.16 L717.2,314.17 L717.7,314.17 L718.2,314.18 L718.7,314.18 L719.2,314.19 L719.7,314.19 L720.2,314.19 L720.7,314.19 L721.2,314.2 L721.7,314.2 L722.2,314.2 L722.7,314.2 L723.2,314.2 L723.7,314.2 L724.2,314.2 L724.7,314.2 L725.2,314.2 L725.7,314.2 L726.2,314.2 L726.7,314.2 L727.2,314.2 L727.7,314.2 L728.2,314.19 L728.7,314.19 L729.2,314.19 L729.7,314.19 L730.2,314.19 L730.7,314.19 L731.2,314.19 L731.7,314.19 L732.2,314.18 L732.7,314.18 L733.2,314.17 L733.7,314.17 L734.2,314.16 L734.7,314.15 L735.2,314.13 L735.7,314.1 L736.2,314.07 L736.7,314.03 L737.2,313.98 L737.7,313.93 L738.2,313.86 L738.7,313.79 L739.2,313.73 L739.7,313.67 L740.2,313.62 L740.7,313.6 L741.2,313.61 L741.7,313.64 L742.2,313.68 L742.7,313.75 L743.2,313.81 L743.7,313.88 L744.2,313.94 L744.7,314 L745.2,314.05 L745.7,314.08 L746.2,314.11 L746.7,314.13 L747.2,314.15 L747.7,314.16 L748.2,314.17 L748.7,314.18 L749.2,314.18 L749.7,314.18 L750.2,314.19 L750.7,314.19 L751.2,314.19 L751.7,314.19 L752.2,314.19 L752.7,314.19 L753.2,314.19 L753.7,314.19 L754.2,314.2 L754.7,314.2 L755.2,314.2 L755.7,314.2 L756.2,314.2 L756.7,314.2 L757.2,314.2 L757.7,314.2 L758.2,314.2 L758.7,314.2 L759.2,314.2 L759.7,314.2 L760.2,314.2 L760.7,314.2 L761.2,314.2 L761.7,314.2 L762.2,314.2 L762.7,314.2 L763.2,314.19 L763.7,314.19 L764.2,314.19 L764.7,314.19 L765.2,314.19 L765.7,314.19 L766.2,314.18 L766.7,314.17 L767.2,314.16 L767.7,314.15 L768.2,314.12 L768.7,314.07 L769.2,314.01 L769.7,313.93 L770.2,313.83 L770.7,313.73 L771.2,313.64 L771.7,313.6 L772.2,313.62 L772.7,313.68 L773.2,313.78 L773.7,313.88 L774.2,313.97 L774.7,314.04 L775.2,314.1 L775.7,314.13 L776.2,314.16 L776.7,314.17 L777.2,314.18 L777.7,314.18 L778.2,314.19 L778.7,314.19 L779.2,314.19 L779.7,314.19 L780.2,314.19 L780.7,314.2 L781.2,314.2 L781.7,314.2 L782.2,314.2 L782.7,314.2 L783.2,314.2 L783.7,314.2 L784.2,314.2 L784.7,314.2 L785.2,314.2 L785.7,314.2 L786.2,314.2 L786.7,314.2 L787.2,314.2 L787.7,314.2 L788.2,314.2 L788.7,314.2 L789.2,314.2 L789.7,314.2 L790.2,314.19 L790.7,314.19 L791.2,314.19 L791.7,314.19 L792.2,314.19 L792.7,314.18 L793.2,314.18 L793.7,314.17 L794.2,314.17 L794.7,314.15 L795.2,314.13 L795.7,314.1 L796.2,314.04 L796.7,313.96 L797.2,313.85 L797.7,313.7 L798.2,313.53 L798.7,313.37 L799.2,313.25 L799.7,313.2 L800.2,313.25 L800.7,313.38 L801.2,313.55 L801.7,313.71 L802.2,313.86 L802.7,313.97 L803.2,314.05 L803.7,314.1 L804.2,314.14 L804.7,314.16 L805.2,314.17 L805.7,314.18 L806.2,314.18 L806.7,314.18 L807.2,314.19 L807.7,314.19 L808.2,314.19 L808.7,314.19 L809.2,314.19 L809.7,314.2 L810.2,314.2 L810.7,314.2 L811.2,314.2 L811.7,314.2 L812.2,314.2 L812.7,314.2 L813.2,314.2 L813.7,314.2 L814.2,314.2 L814.7,314.2 L815.2,314.2 L815.7,314.2 L816.2,314.2 L816.7,314.2 L817.2,314.2 L817.7,314.2 L818.2,314.2 L818.7,314.2 L819.2,314.2 L819.7,314.2 L820.2,314.2 L820.7,314.2 L821.2,314.2 L821.7,314.2 L822.2,314.2 L822.7,314.2 L823.2,314.2 L823.7,314.2 L824.2,314.2 L824.7,314.2 L825.2,314.2 L825.7,314.2 L826.2,314.19 L826.7,314.19 L827.2,314.19 L827.7,314.19 L828.2,314.19 L828.7,314.19 L829.2,314.18 L829.7,314.18 L830.2,314.17 L830.7,314.16 L831.2,314.15 L831.7,314.14 L832.2,314.11 L832.7,314.06 L833.2,313.99 L833.7,313.88 L834.2,313.72 L834.7,313.52 L835.2,313.27 L835.7,313.02 L836.2,312.81 L836.7,312.7 L837.2,312.74 L837.7,312.91 L838.2,313.15 L838.7,313.4 L839.2,313.63 L839.7,313.81 L840.2,313.94 L840.7,314.03 L841.2,314.09 L841.7,314.13 L842.2,314.15 L842.7,314.16 L843.2,314.17 L843.7,314.18 L844.2,314.18 L844.7,314.18 L845.2,314.19 L845.7,314.19 L846.2,314.19 L846.7,314.19 L847.2,314.19 L847.7,314.2 L848.2,314.2 L848.7,314.2 L849.2,314.2 L849.7,314.2 L850.2,314.2 L850.7,314.2 L851.2,314.2 L851.7,314.2 L852.2,314.2 L852.7,314.2 L853.2,314.2 L853.7,314.2 L854.2,314.2 L854.7,314.2 L855.2,314.2 L855.7,314.2 L856.2,314.2 L856.7,314.2 L857.2,314.2 L857.7,314.2 L858.2,314.2 L858.7,314.2 L859.2,314.2 L859.7,314.2 L860.2,314.2 L860.7,314.2 L861.2,314.2 L861.7,314.2 L862.2,314.2 L862.7,314.2 L863.2,314.19 L863.7,314.19 L864.2,314.19 L864.7,314.19 L865.2,314.19 L865.7,314.19 L866.2,314.19 L866.7,314.18 L867.2,314.18 L867.7,314.18 L868.2,314.17 L868.7,314.17 L869.2,314.16 L869.7,314.16 L870.2,314.15 L870.7,314.14 L871.2,314.13 L871.7,314.11 L872.2,314.09 L872.7,314.07 L873.2,314.04 L873.7,313.99 L874.2,313.93 L874.7,313.83 L875.2,313.68 L875.7,313.47 L876.2,313.17 L876.7,312.77 L877.2,312.26 L877.7,311.66 L878.2,310.99 L878.7,310.32 L879.2,309.72 L879.7,309.31 L880.2,309.17 L880.7,309.36 L881.2,309.8 L881.7,310.41 L882.2,311.08 L882.7,311.71 L883.2,312.27 L883.7,312.71 L884.2,313.03 L884.7,313.2 L885.2,313.23 L885.7,313.1 L886.2,312.82 L886.7,312.39 L887.2,311.86 L887.7,311.3 L888.2,310.83 L888.7,310.59 L889.2,310.69 L889.7,311.09 L890.2,311.64 L890.7,312.23 L891.2,312.74 L891.7,313.15 L892.2,313.44 L892.7,313.62 L893.2,313.72 L893.7,313.76 L894.2,313.75 L894.7,313.71 L895.2,313.64 L895.7,313.53 L896.2,313.38 L896.7,313.14 L897.2,312.75 L897.7,312.1 L898.2,311.04 L898.7,309.34 L899.2,306.82 L899.7,303.33 L900.2,298.93 L900.7,293.99 L901.2,289.22 L901.7,285.75 L902.2,284.73 L902.7,286.59 L903.2,290.59 L903.7,295.51 L904.2,300.35 L904.7,304.5 L905.2,307.69 L905.7,309.96 L906.2,311.44 L906.7,312.37 L907.2,312.93 L907.7,313.27 L908.2,313.49 L908.7,313.64 L909.2,313.75 L909.7,313.84 L910.2,313.9 L910.7,313.96 L911.2,314 L911.7,314.04 L912.2,314.07 L912.7,314.09 L913.2,314.11 L913.7,314.13 L914.2,314.14 L914.7,314.15 L915.2,314.16 L915.7,314.17 L916.2,314.18 L916.7,314.18 L917.2,314.18 L917.7,314.19 L918.2,314.19 L918.7,314.19 L919.2,314.19 L919.7,314.19 L920.2,314.19 L920.7,314.19 L921.2,314.19 L921.7,314.19 L922.2,314.19 L922.7,314.18 L923.2,314.18 L923.7,314.18 L924.2,314.17 L924.7,314.16 L925.2,314.15 L925.7,314.14 L926.2,314.13 L926.7,314.11 L927.2,314.09 L927.7,314.06 L928.2,314.03 L928.7,313.98 L929.2,313.93 L929.7,313.85 L930.2,313.74 L930.7,313.56 L931.2,313.27 L931.7,312.76 L932.2,311.94 L932.7,310.67 L933.2,308.87 L933.7,306.54 L934.2,303.9 L934.7,301.36 L935.2,299.58 L935.7,299.25 L936.2,300.5 L936.7,302.81 L937.2,305.46 L937.7,307.94 L938.2,309.95 L938.7,311.41 L939.2,312.36 L939.7,312.94 L940.2,313.23 L940.7,313.34 L941.2,313.32 L941.7,313.17 L942.2,312.9 L942.7,312.52 L943.2,312.06 L943.7,311.55 L944.2,311.07 L944.7,310.73 L945.2,310.64 L945.7,310.82 L946.2,311.23 L946.7,311.76 L947.2,312.3 L947.7,312.79 L948.2,313.2 L948.7,313.51 L949.2,313.73 L949.7,313.88 L950.2,313.98 L950.7,314.04 L951.2,314.08 L951.7,314.11 L952.2,314.13 L952.7,314.14 L953.2,314.15 L953.7,314.16 L954.2,314.17 L954.7,314.17 L955.2,314.18 L955.7,314.18 L956.2,314.18 L956.7,314.19 L957.2,314.19 L957.7,314.19 L958.2,314.19 L958.7,314.19 L959.2,314.19 L959.7,314.19 L960.2,314.19 L960.7,314.19 L961.2,314.19 L961.7,314.19 L962.2,314.19 L962.7,314.19 L963.2,314.19 L963.7,314.18 L964.2,314.18 L964.7,314.17 L965.2,314.17 L965.7,314.16 L966.2,314.14 L966.7,314.12 L967.2,314.08 L967.7,314.01 L968.2,313.92 L968.7,313.77 L969.2,313.58 L969.7,313.34 L970.2,313.09 L970.7,312.86 L971.2,312.72 L971.7,312.72 L972.2,312.86 L972.7,313.08 L973.2,313.34 L973.7,313.57 L974.2,313.77 L974.7,313.91 L975.2,314.01 L975.7,314.08 L976.2,314.12 L976.7,314.14 L977.2,314.16 L977.7,314.17 L978.2,314.17 L978.7,314.18 L979.2,314.18 L979.7,314.19 L980.2,314.19 L980.7,314.19 L981.2,314.19 L981.7,314.19 L982.2,314.19 L982.7,314.2 L983.2,314.2 L983.7,314.2 L984.2,314.2 L984.7,314.2 L985.2,314.2 L985.7,314.2 L986.2,314.2 L986.7,314.2 L987.2,314.2 L987.7,314.2 L988.2,314.2 L988.7,314.2 L989.2,314.2 L989.7,314.2 L990.2,314.2 L990.7,314.2 L991.2,314.2 L991.7,314.2 L992.2,314.2 L992.7,314.19 L993.2,314.19 L993.7,314.19 L994.2,314.19 L994.7,314.19 L995.2,314.18 L995.7,314.18 L996.2,314.17 L996.7,314.17 L997.2,314.16 L997.7,314.15 L998.2,314.14 L998.7,314.13 L999.2,314.11 L999.7,314.09 L1000.2,314.06 L1000.7,314.03 L1001.2,313.99 L1001.7,313.93 L1002.2,313.85 L1002.7,313.71 L1003.2,313.49 L1003.7,313.12 L1004.2,312.54 L1004.7,311.66 L1005.2,310.45 L1005.7,308.9 L1006.2,307.15 L1006.7,305.44 L1007.2,304.15 L1007.7,303.7 L1008.2,304.29 L1008.7,305.67 L1009.2,307.41 L1009.7,309.14 L1010.2,310.64 L1010.7,311.8 L1011.2,312.63 L1011.7,313.18 L1012.2,313.52 L1012.7,313.72 L1013.2,313.85 L1013.7,313.92 L1014.2,313.98 L1014.7,314.01 L1015.2,314.04 L1015.7,314.05 L1016.2,314.06 L1016.7,314.07 L1017.2,314.06 L1017.7,314.06 L1018.2,314.04 L1018.7,314.02 L1019.2,314 L1019.7,313.96 L1020.2,313.92 L1020.7,313.86 L1021.2,313.79 L1021.7,313.69 L1022.2,313.56 L1022.7,313.37 L1023.2,313.08 L1023.7,312.61 L1024.2,311.84 L1024.7,310.58 L1025.2,308.64 L1025.7,305.84 L1026.2,302.12 L1026.7,297.65 L1027.2,292.92 L1027.7,288.8 L1028.2,286.43 L1028.7,286.7 L1029.2,289.51 L1029.7,293.84 L1030.2,298.58 L1030.7,302.92 L1031.2,306.47 L1031.7,309.09 L1032.2,310.88 L1032.7,312.03 L1033.2,312.73 L1033.7,313.16 L1034.2,313.42 L1034.7,313.6 L1035.2,313.72 L1035.7,313.81 L1036.2,313.89 L1036.7,313.94 L1037.2,313.99 L1037.7,314.03 L1038.2,314.06 L1038.7,314.09 L1039.2,314.11 L1039.7,314.13 L1040.2,314.14 L1040.7,314.15 L1041.2,314.16 L1041.7,314.17 L1042.2,314.17 L1042.7,314.18 L1043.2,314.18 L1043.7,314.19 L1044.2,314.19 L1044.7,314.19 L1045.2,314.19 L1045.7,314.19 L1046.2,314.2 L1046.7,314.2 L1047.2,314.2 L1047.7,314.2 L1048.2,314.2 L1048.7,314.2 L1049.2,314.2 L1049.7,314.2 L1050.2,314.2 L1050.7,314.2 L1051.2,314.2 L1051.7,314.2 L1052.2,314.2 L1052.7,314.2 L1053.2,314.2 L1053.7,314.2 L1054.2,314.2 L1054.7,314.2 L1055.2,314.2 L1055.7,314.2 L1056.2,314.2 L1056.7,314.2 L1057.2,314.2 L1057.7,314.2 L1058.2,314.2 L1058.7,314.2 L1059.2,314.2 L1059.7,314.2 L1060.2,314.2 L1060.7,314.2 L1061.2,314.2 L1061.7,314.2 L1062.2,314.2 L1062.7,314.2 L1063.2,314.2 L1063.7,314.2 L1064.2,314.2 L1064.7,314.2 L1065.2,314.2 L1065.7,314.2 L1066.2,314.2 L1066.7,314.2 L1067.2,314.2 L1067.7,314.2 L1068.2,314.2 L1068.7,314.2 L1069.2,314.2 L1069.7,314.2 L1070.2,314.2 L1070.7,314.2 L1071.2,314.2 L1071.7,314.2 L1072.2,314.2 L1072.7,314.2 L1073.2,314.2 L1073.7,314.2 L1074.2,314.2 L1074.7,314.2 L1075.2,314.2 L1075.7,314.2 L1076.2,314.2 L1076.7,314.2 L1077.2,314.2 L1077.7,314.2 L1078.2,314.2 L1078.7,314.2 L1079.2,314.2 L1079.7,314.2 L1080.2,314.2 L1080.7,314.2 L1081.2,314.2 L1081.7,314.2 L1082.2,314.2 L1082.7,314.2 L1083.2,314.2 L1083.7,314.2 L1084.2,314.2 L1084.7,314.2 L1085.2,314.2 L1085.7,314.2 L1086.2,314.2 L1086.7,314.2 L1087.2,314.2 L1087.7,314.2 L1088.2,314.2 L1088.7,314.2 L1089.2,314.2 L1089.7,314.2 L1090.2,314.2 L1090.7,314.2 L1091.2,314.2 L1091.7,314.2 L1092.2,314.2 L1092.7,314.2 L1093.2,314.2 L1093.7,314.2 L1094.2,314.2 L1094.7,314.2 L1095.2,314.2 L1095.7,314.2 L1096.2,314.2 L1096.7,314.2 L1097.2,314.2 L1097.7,314.2 L1098.2,314.2 L1098.7,314.2 L1099.2,314.2 L1099.7,314.2 L1100.2,314.2 L1100.7,314.2 L1101.2,314.2 L1101.7,314.2 L1102.2,314.2 L1102.7,314.2 L1103.2,314.2 L1103.7,314.2 L1104.2,314.2 L1104.7,314.2 L1105.2,314.2 L1105.7,314.2 L1106.2,314.2 L1106.7,314.2 L1107.2,314.2 L1107.7,314.2 L1108.2,314.2 L1108.7,314.2 L1109.2,314.2 L1109.7,314.2 L1110.2,314.2 L1110.7,314.2 L1111.2,314.2 L1111.7,314.2 L1112.2,314.2 L1112.7,314.2 L1113.2,314.2 L1113.7,314.2 L1114.2,314.2 L1114.7,314.2 L1115.2,314.2 L1115.7,314.2 L1116.2,314.2 L1116.7,314.2 L1117.2,314.2 L1117.7,314.2 L1118.2,314.2 L1118.7,314.2 L1119.2,314.2 L1119.7,314.2 L1120.2,314.2 L1120.7,314.2 L1121.2,314.2 L1121.7,314.2 L1122.2,314.2 L1122.7,314.2 L1123.2,314.2 L1123.7,314.2 L1124.2,314.2 L1124.7,314.2 L1125.2,314.2 L1125.7,314.2 L1126.2,314.2 L1126.7,314.2 L1127.2,314.2 L1127.7,314.2 L1128.2,314.2 L1128.7,314.2 L1129.2,314.2 L1129.7,314.2 L1130.2,314.2 L1130.7,314.2 L1131.2,314.2 L1131.7,314.2 L1132.2,314.2 L1132.7,314.2 L1133.2,314.2 L1133.7,314.2 L1134.2,314.2 L1134.7,314.2 L1135.2,314.2 L1135.7,314.2 L1136.2,314.2 L1136.7,314.2 L1137.2,314.2 L1137.7,314.2 L1138.2,314.2 L1138.7,314.2 L1139.2,314.2 L1139.7,314.2 L1140.2,314.2 L1140.7,314.2 L1141.2,314.2 L1141.7,314.2 L1142.2,314.2 L1142.7,314.2 L1143.2,314.2 L1143.7,314.2 L1144.2,314.2 L1144.7,314.2 L1145.2,314.2 L1145.7,314.2 L1146.2,314.2 L1146.7,314.2 L1147.2,314.2 L1147.7,314.2 L1148.2,314.2 L1148.7,314.2 L1149.2,314.2 L1149.7,314.2 L1150.2,314.2 L1150.7,314.2" fill="none" stroke="#111" stroke-width="1.25" stroke-linejoin="round"/>
<path d="M645.2,313.4 L645.7,313.14 L646.2,312.73 L646.7,312.05 L647.2,310.94 L647.7,309.18 L648.2,306.55 L648.7,302.93 L649.2,298.38 L649.7,293.26 L650.2,288.34 L650.7,284.76 L651.2,283.73 L651.7,285.68 L652.2,289.83 L652.7,294.92 L653.2,299.91 L653.7,304.19 L654.2,307.48 L654.7,309.8 L655.2,311.32 L655.7,312.26 L656.2,312.83 L656.7,313.16 L657.2,313.36" fill="none" stroke="#a020b0" stroke-width="1.4" stroke-linejoin="round"/>
<path d="M689.2,313.92 L689.7,313.82 L690.2,313.65 L690.7,313.37 L691.2,312.9 L691.7,312.15 L692.2,311.05 L692.7,309.57 L693.2,307.78 L693.7,305.93 L694.2,304.4 L694.7,303.71 L695.2,304.14 L695.7,305.51 L696.2,307.33 L696.7,309.16 L697.2,310.72 L697.7,311.91 L698.2,312.73 L698.7,313.25 L699.2,313.57 L699.7,313.75 L700.2,313.85" fill="none" stroke="#4a74a8" stroke-width="1.4" stroke-linejoin="round"/>
<path d="M896.2,313.38 L896.7,313.14 L897.2,312.75 L897.7,312.1 L898.2,311.04 L898.7,309.34 L899.2,306.82 L899.7,303.33 L900.2,298.93 L900.7,293.99 L901.2,289.22 L901.7,285.75 L902.2,284.73 L902.7,286.59 L903.2,290.59 L903.7,295.51 L904.2,300.35 L904.7,304.5 L905.2,307.69 L905.7,309.96 L906.2,311.44 L906.7,312.37 L907.2,312.93 L907.7,313.27 L908.2,313.49" fill="none" stroke="#90205a" stroke-width="1.4" stroke-linejoin="round"/>
<path d="M930.2,313.74 L930.7,313.56 L931.2,313.27 L931.7,312.76 L932.2,311.94 L932.7,310.67 L933.2,308.87 L933.7,306.54 L934.2,303.9 L934.7,301.36 L935.2,299.58 L935.7,299.25 L936.2,300.5 L936.7,302.81 L937.2,305.46 L937.7,307.94 L938.2,309.95 L938.7,311.41 L939.2,312.36 L939.7,312.94 L940.2,313.23 L940.7,313.34 L941.2,313.32" fill="none" stroke="#90205a" stroke-width="1.4" stroke-linejoin="round"/>
<path d="M1001.7,313.93 L1002.2,313.85 L1002.7,313.71 L1003.2,313.49 L1003.7,313.12 L1004.2,312.54 L1004.7,311.66 L1005.2,310.45 L1005.7,308.9 L1006.2,307.15 L1006.7,305.44 L1007.2,304.15 L1007.7,303.7 L1008.2,304.29 L1008.7,305.67 L1009.2,307.41 L1009.7,309.14 L1010.2,310.64 L1010.7,311.8 L1011.2,312.63 L1011.7,313.18 L1012.2,313.52 L1012.7,313.72 L1013.2,313.85 L1013.7,313.92" fill="none" stroke="#90205a" stroke-width="1.4" stroke-linejoin="round"/>
<path d="M1022.7,313.37 L1023.2,313.08 L1023.7,312.61 L1024.2,311.84 L1024.7,310.58 L1025.2,308.64 L1025.7,305.84 L1026.2,302.12 L1026.7,297.65 L1027.2,292.92 L1027.7,288.8 L1028.2,286.43 L1028.7,286.7 L1029.2,289.51 L1029.7,293.84 L1030.2,298.58 L1030.7,302.92 L1031.2,306.47 L1031.7,309.09 L1032.2,310.88 L1032.7,312.03 L1033.2,312.73 L1033.7,313.16 L1034.2,313.42" fill="none" stroke="#90205a" stroke-width="1.4" stroke-linejoin="round"/>
<path d="M586.2,383 L586.7,383 L587.2,383 L587.7,383 L588.2,383 L588.7,383 L589.2,383 L589.7,383 L590.2,383 L590.7,383 L591.2,383 L591.7,383 L592.2,383 L592.7,383 L593.2,383 L593.7,383 L594.2,383 L594.7,383 L595.2,383 L595.7,383 L596.2,383 L596.7,383 L597.2,383 L597.7,383 L598.2,383 L598.7,383 L599.2,383 L599.7,383 L600.2,383 L600.7,383 L601.2,383 L601.7,383 L602.2,383 L602.7,383 L603.2,383 L603.7,383 L604.2,383 L604.7,383 L605.2,383 L605.7,383 L606.2,383 L606.7,383 L607.2,383 L607.7,383 L608.2,383 L608.7,383 L609.2,383 L609.7,383 L610.2,383 L610.7,383 L611.2,383 L611.7,383 L612.2,383 L612.7,383 L613.2,383 L613.7,383 L614.2,383 L614.7,383 L615.2,383 L615.7,383 L616.2,383 L616.7,383 L617.2,383 L617.7,383 L618.2,383 L618.7,383 L619.2,382.99 L619.7,382.99 L620.2,382.99 L620.7,382.99 L621.2,382.99 L621.7,382.99 L622.2,382.99 L622.7,382.98 L623.2,382.98 L623.7,382.98 L624.2,382.97 L624.7,382.97 L625.2,382.96 L625.7,382.95 L626.2,382.93 L626.7,382.91 L627.2,382.88 L627.7,382.85 L628.2,382.8 L628.7,382.74 L629.2,382.66 L629.7,382.58 L630.2,382.49 L630.7,382.4 L631.2,382.32 L631.7,382.25 L632.2,382.21 L632.7,382.2 L633.2,382.23 L633.7,382.29 L634.2,382.37 L634.7,382.45 L635.2,382.54 L635.7,382.63 L636.2,382.71 L636.7,382.77 L637.2,382.83 L637.7,382.87 L638.2,382.9 L638.7,382.93 L639.2,382.94 L639.7,382.96 L640.2,382.97 L640.7,382.97 L641.2,382.98 L641.7,382.98 L642.2,382.98 L642.7,382.99 L643.2,382.99 L643.7,382.99 L644.2,382.99 L644.7,382.99 L645.2,382.99 L645.7,382.99 L646.2,382.99 L646.7,383 L647.2,383 L647.7,383 L648.2,383 L648.7,383 L649.2,383 L649.7,383 L650.2,383 L650.7,383 L651.2,383 L651.7,383 L652.2,383 L652.7,382.99 L653.2,382.99 L653.7,382.99 L654.2,382.99 L654.7,382.99 L655.2,382.99 L655.7,382.98 L656.2,382.98 L656.7,382.97 L657.2,382.96 L657.7,382.95 L658.2,382.94 L658.7,382.92 L659.2,382.9 L659.7,382.86 L660.2,382.79 L660.7,382.67 L661.2,382.47 L661.7,382.11 L662.2,381.57 L662.7,380.83 L663.2,379.95 L663.7,379.1 L664.2,378.57 L664.7,378.59 L665.2,379.17 L665.7,380.03 L666.2,380.9 L666.7,381.63 L667.2,382.15 L667.7,382.49 L668.2,382.69 L668.7,382.8 L669.2,382.86 L669.7,382.9 L670.2,382.92 L670.7,382.94 L671.2,382.95 L671.7,382.96 L672.2,382.97 L672.7,382.98 L673.2,382.98 L673.7,382.99 L674.2,382.99 L674.7,382.99 L675.2,382.99 L675.7,382.99 L676.2,383 L676.7,383 L677.2,383 L677.7,383 L678.2,383 L678.7,383 L679.2,383 L679.7,383 L680.2,383 L680.7,383 L681.2,383 L681.7,382.99 L682.2,382.99 L682.7,382.99 L683.2,382.99 L683.7,382.99 L684.2,382.98 L684.7,382.98 L685.2,382.97 L685.7,382.97 L686.2,382.96 L686.7,382.95 L687.2,382.94 L687.7,382.92 L688.2,382.9 L688.7,382.88 L689.2,382.84 L689.7,382.78 L690.2,382.69 L690.7,382.52 L691.2,382.26 L691.7,381.83 L692.2,381.2 L692.7,380.35 L693.2,379.33 L693.7,378.27 L694.2,377.4 L694.7,377 L695.2,377.25 L695.7,378.04 L696.2,379.08 L696.7,380.12 L697.2,381.01 L697.7,381.69 L698.2,382.16 L698.7,382.46 L699.2,382.64 L699.7,382.74 L700.2,382.79 L700.7,382.83 L701.2,382.84 L701.7,382.85 L702.2,382.85 L702.7,382.83 L703.2,382.81 L703.7,382.76 L704.2,382.67 L704.7,382.51 L705.2,382.21 L705.7,381.65 L706.2,380.76 L706.7,379.47 L707.2,377.91 L707.7,376.39 L708.2,375.47 L708.7,375.64 L709.2,376.8 L709.7,378.38 L710.2,379.89 L710.7,381.07 L711.2,381.86 L711.7,382.33 L712.2,382.59 L712.7,382.73 L713.2,382.81 L713.7,382.86 L714.2,382.89 L714.7,382.92 L715.2,382.94 L715.7,382.95 L716.2,382.96 L716.7,382.97 L717.2,382.98 L717.7,382.98 L718.2,382.99 L718.7,382.99 L719.2,382.99 L719.7,382.99 L720.2,382.99 L720.7,383 L721.2,383 L721.7,383 L722.2,383 L722.7,383 L723.2,383 L723.7,383 L724.2,383 L724.7,383 L725.2,383 L725.7,383 L726.2,383 L726.7,383 L727.2,383 L727.7,383 L728.2,382.99 L728.7,382.99 L729.2,382.99 L729.7,382.99 L730.2,382.99 L730.7,382.99 L731.2,382.99 L731.7,382.99 L732.2,382.98 L732.7,382.98 L733.2,382.97 L733.7,382.97 L734.2,382.96 L734.7,382.95 L735.2,382.93 L735.7,382.9 L736.2,382.87 L736.7,382.83 L737.2,382.78 L737.7,382.73 L738.2,382.66 L738.7,382.59 L739.2,382.53 L739.7,382.47 L740.2,382.42 L740.7,382.4 L741.2,382.41 L741.7,382.44 L742.2,382.48 L742.7,382.55 L743.2,382.61 L743.7,382.68 L744.2,382.74 L744.7,382.8 L745.2,382.85 L745.7,382.88 L746.2,382.91 L746.7,382.93 L747.2,382.95 L747.7,382.96 L748.2,382.97 L748.7,382.98 L749.2,382.98 L749.7,382.98 L750.2,382.99 L750.7,382.99 L751.2,382.99 L751.7,382.99 L752.2,382.99 L752.7,382.99 L753.2,382.99 L753.7,382.99 L754.2,383 L754.7,383 L755.2,383 L755.7,383 L756.2,383 L756.7,383 L757.2,383 L757.7,383 L758.2,383 L758.7,383 L759.2,383 L759.7,383 L760.2,383 L760.7,383 L761.2,383 L761.7,383 L762.2,382.99 L762.7,382.99 L763.2,382.99 L763.7,382.99 L764.2,382.99 L764.7,382.99 L765.2,382.98 L765.7,382.98 L766.2,382.97 L766.7,382.97 L767.2,382.95 L767.7,382.93 L768.2,382.9 L768.7,382.85 L769.2,382.78 L769.7,382.69 L770.2,382.57 L770.7,382.45 L771.2,382.32 L771.7,382.21 L772.2,382.12 L772.7,382.06 L773.2,381.99 L773.7,381.93 L774.2,381.87 L774.7,381.85 L775.2,381.91 L775.7,382.05 L776.2,382.22 L776.7,382.41 L777.2,382.57 L777.7,382.7 L778.2,382.8 L778.7,382.87 L779.2,382.91 L779.7,382.94 L780.2,382.96 L780.7,382.97 L781.2,382.97 L781.7,382.98 L782.2,382.98 L782.7,382.99 L783.2,382.99 L783.7,382.99 L784.2,382.99 L784.7,382.99 L785.2,383 L785.7,383 L786.2,383 L786.7,383 L787.2,383 L787.7,383 L788.2,383 L788.7,383 L789.2,383 L789.7,383 L790.2,383 L790.7,383 L791.2,383 L791.7,383 L792.2,383 L792.7,383 L793.2,383 L793.7,383 L794.2,383 L794.7,383 L795.2,383 L795.7,383 L796.2,383 L796.7,383 L797.2,383 L797.7,383 L798.2,383 L798.7,383 L799.2,383 L799.7,383 L800.2,383 L800.7,383 L801.2,383 L801.7,383 L802.2,383 L802.7,383 L803.2,383 L803.7,383 L804.2,383 L804.7,383 L805.2,383 L805.7,383 L806.2,383 L806.7,383 L807.2,383 L807.7,383 L808.2,383 L808.7,383 L809.2,383 L809.7,383 L810.2,383 L810.7,383 L811.2,383 L811.7,383 L812.2,383 L812.7,383 L813.2,383 L813.7,383 L814.2,383 L814.7,383 L815.2,383 L815.7,383 L816.2,383 L816.7,383 L817.2,383 L817.7,383 L818.2,383 L818.7,383 L819.2,383 L819.7,383 L820.2,383 L820.7,383 L821.2,383 L821.7,383 L822.2,383 L822.7,383 L823.2,383 L823.7,383 L824.2,383 L824.7,383 L825.2,383 L825.7,383 L826.2,383 L826.7,383 L827.2,383 L827.7,383 L828.2,383 L828.7,383 L829.2,383 L829.7,383 L830.2,383 L830.7,383 L831.2,383 L831.7,383 L832.2,383 L832.7,383 L833.2,383 L833.7,383 L834.2,383 L834.7,383 L835.2,383 L835.7,383 L836.2,383 L836.7,383 L837.2,383 L837.7,383 L838.2,383 L838.7,383 L839.2,383 L839.7,383 L840.2,383 L840.7,383 L841.2,383 L841.7,383 L842.2,383 L842.7,383 L843.2,383 L843.7,383 L844.2,383 L844.7,383 L845.2,383 L845.7,383 L846.2,383 L846.7,383 L847.2,383 L847.7,383 L848.2,383 L848.7,383 L849.2,383 L849.7,383 L850.2,383 L850.7,383 L851.2,383 L851.7,383 L852.2,383 L852.7,383 L853.2,383 L853.7,383 L854.2,383 L854.7,383 L855.2,383 L855.7,383 L856.2,383 L856.7,383 L857.2,383 L857.7,383 L858.2,383 L858.7,383 L859.2,383 L859.7,383 L860.2,383 L860.7,383 L861.2,383 L861.7,383 L862.2,383 L862.7,383 L863.2,383 L863.7,383 L864.2,383 L864.7,383 L865.2,382.99 L865.7,382.99 L866.2,382.99 L866.7,382.99 L867.2,382.99 L867.7,382.99 L868.2,382.98 L868.7,382.98 L869.2,382.97 L869.7,382.97 L870.2,382.96 L870.7,382.96 L871.2,382.95 L871.7,382.93 L872.2,382.92 L872.7,382.9 L873.2,382.88 L873.7,382.85 L874.2,382.81 L874.7,382.74 L875.2,382.64 L875.7,382.47 L876.2,382.22 L876.7,381.84 L877.2,381.33 L877.7,380.66 L878.2,379.88 L878.7,379.03 L879.2,378.24 L879.7,377.67 L880.2,377.49 L880.7,377.75 L881.2,378.37 L881.7,379.18 L882.2,380.01 L882.7,380.77 L883.2,381.39 L883.7,381.86 L884.2,382.18 L884.7,382.37 L885.2,382.46 L885.7,382.44 L886.2,382.34 L886.7,382.13 L887.2,381.83 L887.7,381.46 L888.2,381.05 L888.7,380.69 L889.2,380.48 L889.7,380.49 L890.2,380.74 L890.7,381.12 L891.2,381.55 L891.7,381.95 L892.2,382.27 L892.7,382.52 L893.2,382.68 L893.7,382.79 L894.2,382.86 L894.7,382.9 L895.2,382.92 L895.7,382.94 L896.2,382.95 L896.7,382.96 L897.2,382.97 L897.7,382.97 L898.2,382.98 L898.7,382.98 L899.2,382.99 L899.7,382.99 L900.2,382.99 L900.7,382.99 L901.2,382.99 L901.7,383 L902.2,383 L902.7,383 L903.2,383 L903.7,383 L904.2,383 L904.7,383 L905.2,383 L905.7,383 L906.2,383 L906.7,383 L907.2,383 L907.7,383 L908.2,383 L908.7,383 L909.2,383 L909.7,383 L910.2,383 L910.7,383 L911.2,383 L911.7,383 L912.2,383 L912.7,383 L913.2,383 L913.7,383 L914.2,383 L914.7,383 L915.2,383 L915.7,383 L916.2,383 L916.7,383 L917.2,383 L917.7,383 L918.2,383 L918.7,383 L919.2,383 L919.7,383 L920.2,383 L920.7,383 L921.2,383 L921.7,383 L922.2,383 L922.7,383 L923.2,383 L923.7,383 L924.2,383 L924.7,383 L925.2,383 L925.7,383 L926.2,383 L926.7,383 L927.2,383 L927.7,383 L928.2,383 L928.7,383 L929.2,383 L929.7,383 L930.2,383 L930.7,383 L931.2,383 L931.7,383 L932.2,383 L932.7,383 L933.2,383 L933.7,383 L934.2,383 L934.7,383 L935.2,383 L935.7,383 L936.2,383 L936.7,383 L937.2,383 L937.7,383 L938.2,383 L938.7,383 L939.2,383 L939.7,383 L940.2,383 L940.7,383 L941.2,383 L941.7,383 L942.2,383 L942.7,383 L943.2,383 L943.7,383 L944.2,383 L944.7,383 L945.2,383 L945.7,383 L946.2,383 L946.7,383 L947.2,383 L947.7,383 L948.2,383 L948.7,383 L949.2,383 L949.7,383 L950.2,383 L950.7,383 L951.2,383 L951.7,383 L952.2,383 L952.7,383 L953.2,383 L953.7,383 L954.2,383 L954.7,383 L955.2,383 L955.7,383 L956.2,383 L956.7,383 L957.2,383 L957.7,383 L958.2,383 L958.7,383 L959.2,383 L959.7,383 L960.2,383 L960.7,383 L961.2,383 L961.7,383 L962.2,383 L962.7,383 L963.2,383 L963.7,383 L964.2,383 L964.7,383 L965.2,383 L965.7,383 L966.2,383 L966.7,383 L967.2,383 L967.7,383 L968.2,383 L968.7,383 L969.2,383 L969.7,383 L970.2,383 L970.7,383 L971.2,383 L971.7,383 L972.2,383 L972.7,383 L973.2,383 L973.7,383 L974.2,383 L974.7,383 L975.2,383 L975.7,383 L976.2,383 L976.7,383 L977.2,383 L977.7,383 L978.2,383 L978.7,383 L979.2,383 L979.7,383 L980.2,383 L980.7,383 L981.2,383 L981.7,383 L982.2,383 L982.7,383 L983.2,383 L983.7,383 L984.2,383 L984.7,383 L985.2,383 L985.7,383 L986.2,383 L986.7,383 L987.2,383 L987.7,383 L988.2,383 L988.7,383 L989.2,383 L989.7,383 L990.2,383 L990.7,383 L991.2,383 L991.7,383 L992.2,383 L992.7,383 L993.2,383 L993.7,383 L994.2,383 L994.7,383 L995.2,383 L995.7,383 L996.2,383 L996.7,383 L997.2,383 L997.7,383 L998.2,383 L998.7,383 L999.2,383 L999.7,383 L1000.2,383 L1000.7,383 L1001.2,383 L1001.7,383 L1002.2,383 L1002.7,383 L1003.2,383 L1003.7,383 L1004.2,383 L1004.7,383 L1005.2,383 L1005.7,383 L1006.2,383 L1006.7,383 L1007.2,383 L1007.7,383 L1008.2,383 L1008.7,383 L1009.2,383 L1009.7,383 L1010.2,383 L1010.7,383 L1011.2,383 L1011.7,383 L1012.2,383 L1012.7,383 L1013.2,383 L1013.7,383 L1014.2,383 L1014.7,383 L1015.2,383 L1015.7,383 L1016.2,383 L1016.7,383 L1017.2,383 L1017.7,383 L1018.2,383 L1018.7,383 L1019.2,383 L1019.7,383 L1020.2,383 L1020.7,383 L1021.2,383 L1021.7,383 L1022.2,383 L1022.7,383 L1023.2,383 L1023.7,383 L1024.2,383 L1024.7,383 L1025.2,383 L1025.7,383 L1026.2,383 L1026.7,383 L1027.2,383 L1027.7,383 L1028.2,383 L1028.7,383 L1029.2,383 L1029.7,383 L1030.2,383 L1030.7,383 L1031.2,383 L1031.7,383 L1032.2,383 L1032.7,383 L1033.2,383 L1033.7,383 L1034.2,383 L1034.7,383 L1035.2,383 L1035.7,383 L1036.2,383 L1036.7,383 L1037.2,383 L1037.7,383 L1038.2,383 L1038.7,383 L1039.2,383 L1039.7,383 L1040.2,383 L1040.7,383 L1041.2,383 L1041.7,383 L1042.2,383 L1042.7,383 L1043.2,383 L1043.7,383 L1044.2,383 L1044.7,383 L1045.2,383 L1045.7,383 L1046.2,383 L1046.7,383 L1047.2,383 L1047.7,383 L1048.2,383 L1048.7,383 L1049.2,383 L1049.7,383 L1050.2,383 L1050.7,383 L1051.2,383 L1051.7,383 L1052.2,383 L1052.7,383 L1053.2,383 L1053.7,383 L1054.2,383 L1054.7,383 L1055.2,383 L1055.7,383 L1056.2,383 L1056.7,383 L1057.2,383 L1057.7,383 L1058.2,383 L1058.7,383 L1059.2,383 L1059.7,383 L1060.2,383 L1060.7,383 L1061.2,383 L1061.7,383 L1062.2,383 L1062.7,383 L1063.2,383 L1063.7,383 L1064.2,383 L1064.7,383 L1065.2,383 L1065.7,383 L1066.2,383 L1066.7,383 L1067.2,383 L1067.7,383 L1068.2,383 L1068.7,383 L1069.2,383 L1069.7,383 L1070.2,383 L1070.7,383 L1071.2,383 L1071.7,383 L1072.2,383 L1072.7,383 L1073.2,383 L1073.7,383 L1074.2,383 L1074.7,383 L1075.2,383 L1075.7,383 L1076.2,383 L1076.7,383 L1077.2,383 L1077.7,383 L1078.2,383 L1078.7,383 L1079.2,383 L1079.7,383 L1080.2,383 L1080.7,383 L1081.2,383 L1081.7,383 L1082.2,383 L1082.7,383 L1083.2,383 L1083.7,383 L1084.2,383 L1084.7,383 L1085.2,383 L1085.7,383 L1086.2,383 L1086.7,383 L1087.2,383 L1087.7,383 L1088.2,383 L1088.7,383 L1089.2,383 L1089.7,383 L1090.2,383 L1090.7,383 L1091.2,383 L1091.7,383 L1092.2,383 L1092.7,383 L1093.2,383 L1093.7,383 L1094.2,383 L1094.7,383 L1095.2,383 L1095.7,383 L1096.2,383 L1096.7,383 L1097.2,383 L1097.7,383 L1098.2,383 L1098.7,383 L1099.2,383 L1099.7,383 L1100.2,383 L1100.7,383 L1101.2,383 L1101.7,383 L1102.2,383 L1102.7,383 L1103.2,383 L1103.7,383 L1104.2,383 L1104.7,383 L1105.2,383 L1105.7,383 L1106.2,383 L1106.7,383 L1107.2,383 L1107.7,383 L1108.2,383 L1108.7,383 L1109.2,383 L1109.7,383 L1110.2,383 L1110.7,383 L1111.2,383 L1111.7,383 L1112.2,383 L1112.7,383 L1113.2,383 L1113.7,383 L1114.2,383 L1114.7,383 L1115.2,383 L1115.7,383 L1116.2,383 L1116.7,383 L1117.2,383 L1117.7,383 L1118.2,383 L1118.7,383 L1119.2,383 L1119.7,383 L1120.2,383 L1120.7,383 L1121.2,383 L1121.7,383 L1122.2,383 L1122.7,383 L1123.2,383 L1123.7,383 L1124.2,383 L1124.7,383 L1125.2,383 L1125.7,383 L1126.2,383 L1126.7,383 L1127.2,383 L1127.7,383 L1128.2,383 L1128.7,383 L1129.2,383 L1129.7,383 L1130.2,383 L1130.7,383 L1131.2,383 L1131.7,383 L1132.2,383 L1132.7,383 L1133.2,383 L1133.7,383 L1134.2,383 L1134.7,383 L1135.2,383 L1135.7,383 L1136.2,383 L1136.7,383 L1137.2,383 L1137.7,383 L1138.2,383 L1138.7,383 L1139.2,383 L1139.7,383 L1140.2,383 L1140.7,383 L1141.2,383 L1141.7,383 L1142.2,383 L1142.7,383 L1143.2,383 L1143.7,383 L1144.2,383 L1144.7,383 L1145.2,383 L1145.7,383 L1146.2,383 L1146.7,383 L1147.2,383 L1147.7,383 L1148.2,383 L1148.7,383 L1149.2,383 L1149.7,383 L1150.2,383 L1150.7,383" fill="none" stroke="#111" stroke-width="1.25" stroke-linejoin="round"/>
<path d="M689.2,382.84 L689.7,382.78 L690.2,382.69 L690.7,382.52 L691.2,382.26 L691.7,381.83 L692.2,381.2 L692.7,380.35 L693.2,379.33 L693.7,378.27 L694.2,377.4 L694.7,377 L695.2,377.25 L695.7,378.04 L696.2,379.08 L696.7,380.12 L697.2,381.01 L697.7,381.69 L698.2,382.16 L698.7,382.46 L699.2,382.64 L699.7,382.74 L700.2,382.79" fill="none" stroke="#4a74a8" stroke-width="1.4" stroke-linejoin="round"/>
<path d="M586.2,449.4 L586.7,449.4 L587.2,449.4 L587.7,449.4 L588.2,449.4 L588.7,449.4 L589.2,449.4 L589.7,449.4 L590.2,449.4 L590.7,449.4 L591.2,449.4 L591.7,449.4 L592.2,449.4 L592.7,449.4 L593.2,449.4 L593.7,449.4 L594.2,449.4 L594.7,449.4 L595.2,449.4 L595.7,449.4 L596.2,449.4 L596.7,449.4 L597.2,449.4 L597.7,449.4 L598.2,449.4 L598.7,449.4 L599.2,449.4 L599.7,449.4 L600.2,449.4 L600.7,449.4 L601.2,449.4 L601.7,449.4 L602.2,449.4 L602.7,449.4 L603.2,449.4 L603.7,449.4 L604.2,449.4 L604.7,449.4 L605.2,449.4 L605.7,449.4 L606.2,449.4 L606.7,449.4 L607.2,449.4 L607.7,449.4 L608.2,449.4 L608.7,449.4 L609.2,449.4 L609.7,449.4 L610.2,449.4 L610.7,449.4 L611.2,449.4 L611.7,449.4 L612.2,449.4 L612.7,449.4 L613.2,449.4 L613.7,449.4 L614.2,449.4 L614.7,449.4 L615.2,449.4 L615.7,449.4 L616.2,449.4 L616.7,449.4 L617.2,449.4 L617.7,449.4 L618.2,449.4 L618.7,449.4 L619.2,449.39 L619.7,449.39 L620.2,449.39 L620.7,449.39 L621.2,449.39 L621.7,449.39 L622.2,449.39 L622.7,449.38 L623.2,449.38 L623.7,449.38 L624.2,449.37 L624.7,449.37 L625.2,449.36 L625.7,449.35 L626.2,449.33 L626.7,449.31 L627.2,449.28 L627.7,449.25 L628.2,449.2 L628.7,449.14 L629.2,449.06 L629.7,448.98 L630.2,448.89 L630.7,448.8 L631.2,448.71 L631.7,448.65 L632.2,448.6 L632.7,448.6 L633.2,448.62 L633.7,448.68 L634.2,448.76 L634.7,448.84 L635.2,448.93 L635.7,449.01 L636.2,449.08 L636.7,449.14 L637.2,449.18 L637.7,449.22 L638.2,449.24 L638.7,449.25 L639.2,449.24 L639.7,449.23 L640.2,449.21 L640.7,449.19 L641.2,449.15 L641.7,449.1 L642.2,449.04 L642.7,448.96 L643.2,448.87 L643.7,448.75 L644.2,448.6 L644.7,448.4 L645.2,448.12 L645.7,447.71 L646.2,447.05 L646.7,445.97 L647.2,444.2 L647.7,441.38 L648.2,437.19 L648.7,431.41 L649.2,424.14 L649.7,415.97 L650.2,408.11 L650.7,402.4 L651.2,400.76 L651.7,403.86 L652.2,410.48 L652.7,418.61 L653.2,426.59 L653.7,433.41 L654.2,438.67 L654.7,442.38 L655.2,444.81 L655.7,446.31 L656.2,447.21 L656.7,447.75 L657.2,448.07 L657.7,448.26 L658.2,448.34 L658.7,448.31 L659.2,448.1 L659.7,447.62 L660.2,446.81 L660.7,445.66 L661.2,444.3 L661.7,443.01 L662.2,442.13 L662.7,441.61 L663.2,441.11 L663.7,440.55 L664.2,440.29 L664.7,440.87 L665.2,442.31 L665.7,444.11 L666.2,445.81 L666.7,447.13 L667.2,448.04 L667.7,448.59 L668.2,448.9 L668.7,449.07 L669.2,449.16 L669.7,449.22 L670.2,449.27 L670.7,449.3 L671.2,449.32 L671.7,449.34 L672.2,449.35 L672.7,449.36 L673.2,449.37 L673.7,449.38 L674.2,449.38 L674.7,449.39 L675.2,449.39 L675.7,449.39 L676.2,449.39 L676.7,449.4 L677.2,449.4 L677.7,449.4 L678.2,449.4 L678.7,449.4 L679.2,449.4 L679.7,449.4 L680.2,449.4 L680.7,449.4 L681.2,449.4 L681.7,449.4 L682.2,449.4 L682.7,449.4 L683.2,449.4 L683.7,449.4 L684.2,449.4 L684.7,449.4 L685.2,449.4 L685.7,449.4 L686.2,449.4 L686.7,449.4 L687.2,449.4 L687.7,449.4 L688.2,449.4 L688.7,449.4 L689.2,449.4 L689.7,449.4 L690.2,449.4 L690.7,449.4 L691.2,449.4 L691.7,449.4 L692.2,449.4 L692.7,449.4 L693.2,449.4 L693.7,449.4 L694.2,449.4 L694.7,449.4 L695.2,449.4 L695.7,449.4 L696.2,449.39 L696.7,449.39 L697.2,449.39 L697.7,449.39 L698.2,449.38 L698.7,449.38 L699.2,449.37 L699.7,449.37 L700.2,449.36 L700.7,449.34 L701.2,449.33 L701.7,449.31 L702.2,449.28 L702.7,449.24 L703.2,449.19 L703.7,449.12 L704.2,448.99 L704.7,448.76 L705.2,448.34 L705.7,447.58 L706.2,446.35 L706.7,444.59 L707.2,442.45 L707.7,440.37 L708.2,439.1 L708.7,439.34 L709.2,440.92 L709.7,443.09 L710.2,445.15 L710.7,446.76 L711.2,447.84 L711.7,448.49 L712.2,448.85 L712.7,449.04 L713.2,449.14 L713.7,449.21 L714.2,449.25 L714.7,449.29 L715.2,449.31 L715.7,449.33 L716.2,449.35 L716.7,449.36 L717.2,449.37 L717.7,449.38 L718.2,449.38 L718.7,449.39 L719.2,449.39 L719.7,449.39 L720.2,449.39 L720.7,449.39 L721.2,449.4 L721.7,449.4 L722.2,449.4 L722.7,449.4 L723.2,449.4 L723.7,449.4 L724.2,449.4 L724.7,449.4 L725.2,449.4 L725.7,449.4 L726.2,449.4 L726.7,449.4 L727.2,449.4 L727.7,449.4 L728.2,449.39 L728.7,449.39 L729.2,449.39 L729.7,449.39 L730.2,449.39 L730.7,449.39 L731.2,449.39 L731.7,449.39 L732.2,449.38 L732.7,449.38 L733.2,449.37 L733.7,449.37 L734.2,449.36 L734.7,449.35 L735.2,449.33 L735.7,449.3 L736.2,449.27 L736.7,449.23 L737.2,449.18 L737.7,449.13 L738.2,449.06 L738.7,448.99 L739.2,448.93 L739.7,448.87 L740.2,448.82 L740.7,448.8 L741.2,448.81 L741.7,448.84 L742.2,448.88 L742.7,448.95 L743.2,449.01 L743.7,449.08 L744.2,449.14 L744.7,449.2 L745.2,449.25 L745.7,449.28 L746.2,449.31 L746.7,449.33 L747.2,449.35 L747.7,449.36 L748.2,449.37 L748.7,449.38 L749.2,449.38 L749.7,449.38 L750.2,449.39 L750.7,449.39 L751.2,449.39 L751.7,449.39 L752.2,449.39 L752.7,449.39 L753.2,449.39 L753.7,449.39 L754.2,449.4 L754.7,449.4 L755.2,449.4 L755.7,449.4 L756.2,449.4 L756.7,449.4 L757.2,449.4 L757.7,449.4 L758.2,449.4 L758.7,449.4 L759.2,449.4 L759.7,449.4 L760.2,449.4 L760.7,449.4 L761.2,449.4 L761.7,449.4 L762.2,449.4 L762.7,449.4 L763.2,449.39 L763.7,449.39 L764.2,449.39 L764.7,449.39 L765.2,449.39 L765.7,449.39 L766.2,449.38 L766.7,449.37 L767.2,449.36 L767.7,449.35 L768.2,449.32 L768.7,449.27 L769.2,449.21 L769.7,449.13 L770.2,449.03 L770.7,448.93 L771.2,448.84 L771.7,448.8 L772.2,448.82 L772.7,448.88 L773.2,448.98 L773.7,449.08 L774.2,449.17 L774.7,449.24 L775.2,449.3 L775.7,449.33 L776.2,449.36 L776.7,449.37 L777.2,449.38 L777.7,449.38 L778.2,449.39 L778.7,449.39 L779.2,449.39 L779.7,449.39 L780.2,449.39 L780.7,449.4 L781.2,449.4 L781.7,449.4 L782.2,449.4 L782.7,449.4 L783.2,449.4 L783.7,449.4 L784.2,449.4 L784.7,449.4 L785.2,449.4 L785.7,449.4 L786.2,449.4 L786.7,449.39 L787.2,449.39 L787.7,449.39 L788.2,449.39 L788.7,449.39 L789.2,449.39 L789.7,449.38 L790.2,449.38 L790.7,449.37 L791.2,449.36 L791.7,449.35 L792.2,449.33 L792.7,449.29 L793.2,449.23 L793.7,449.14 L794.2,449.02 L794.7,448.87 L795.2,448.7 L795.7,448.54 L796.2,448.43 L796.7,448.4 L797.2,448.47 L797.7,448.61 L798.2,448.78 L798.7,448.94 L799.2,449.08 L799.7,449.19 L800.2,449.26 L800.7,449.31 L801.2,449.34 L801.7,449.36 L802.2,449.37 L802.7,449.38 L803.2,449.38 L803.7,449.39 L804.2,449.39 L804.7,449.39 L805.2,449.39 L805.7,449.39 L806.2,449.39 L806.7,449.4 L807.2,449.4 L807.7,449.4 L808.2,449.4 L808.7,449.4 L809.2,449.4 L809.7,449.4 L810.2,449.4 L810.7,449.4 L811.2,449.4 L811.7,449.4 L812.2,449.4 L812.7,449.4 L813.2,449.4 L813.7,449.4 L814.2,449.4 L814.7,449.4 L815.2,449.4 L815.7,449.4 L816.2,449.4 L816.7,449.4 L817.2,449.4 L817.7,449.4 L818.2,449.4 L818.7,449.4 L819.2,449.4 L819.7,449.4 L820.2,449.4 L820.7,449.4 L821.2,449.4 L821.7,449.4 L822.2,449.4 L822.7,449.4 L823.2,449.4 L823.7,449.4 L824.2,449.4 L824.7,449.4 L825.2,449.4 L825.7,449.4 L826.2,449.4 L826.7,449.4 L827.2,449.4 L827.7,449.4 L828.2,449.4 L828.7,449.4 L829.2,449.4 L829.7,449.4 L830.2,449.4 L830.7,449.4 L831.2,449.4 L831.7,449.4 L832.2,449.4 L832.7,449.4 L833.2,449.4 L833.7,449.4 L834.2,449.4 L834.7,449.4 L835.2,449.4 L835.7,449.4 L836.2,449.4 L836.7,449.4 L837.2,449.4 L837.7,449.4 L838.2,449.4 L838.7,449.4 L839.2,449.4 L839.7,449.4 L840.2,449.4 L840.7,449.4 L841.2,449.4 L841.7,449.4 L842.2,449.4 L842.7,449.4 L843.2,449.4 L843.7,449.4 L844.2,449.4 L844.7,449.4 L845.2,449.4 L845.7,449.4 L846.2,449.4 L846.7,449.4 L847.2,449.4 L847.7,449.4 L848.2,449.4 L848.7,449.4 L849.2,449.4 L849.7,449.4 L850.2,449.4 L850.7,449.4 L851.2,449.4 L851.7,449.4 L852.2,449.4 L852.7,449.4 L853.2,449.4 L853.7,449.4 L854.2,449.4 L854.7,449.4 L855.2,449.4 L855.7,449.4 L856.2,449.4 L856.7,449.4 L857.2,449.4 L857.7,449.4 L858.2,449.4 L858.7,449.4 L859.2,449.4 L859.7,449.4 L860.2,449.4 L860.7,449.4 L861.2,449.4 L861.7,449.4 L862.2,449.4 L862.7,449.4 L863.2,449.4 L863.7,449.4 L864.2,449.4 L864.7,449.4 L865.2,449.4 L865.7,449.4 L866.2,449.4 L866.7,449.39 L867.2,449.39 L867.7,449.39 L868.2,449.39 L868.7,449.39 L869.2,449.38 L869.7,449.38 L870.2,449.38 L870.7,449.37 L871.2,449.37 L871.7,449.36 L872.2,449.35 L872.7,449.34 L873.2,449.33 L873.7,449.32 L874.2,449.3 L874.7,449.27 L875.2,449.24 L875.7,449.2 L876.2,449.13 L876.7,449.02 L877.2,448.84 L877.7,448.58 L878.2,448.18 L878.7,447.64 L879.2,446.93 L879.7,446.08 L880.2,445.15 L880.7,444.28 L881.2,443.63 L881.7,443.38 L882.2,443.62 L882.7,444.27 L883.2,445.14 L883.7,446.05 L884.2,446.89 L884.7,447.58 L885.2,448.11 L885.7,448.47 L886.2,448.69 L886.7,448.78 L887.2,448.77 L887.7,448.64 L888.2,448.4 L888.7,448.05 L889.2,447.61 L889.7,447.12 L890.2,446.67 L890.7,446.39 L891.2,446.38 L891.7,446.65 L892.2,447.1 L892.7,447.62 L893.2,448.1 L893.7,448.5 L894.2,448.8 L894.7,449.01 L895.2,449.14 L895.7,449.22 L896.2,449.27 L896.7,449.31 L897.2,449.33 L897.7,449.34 L898.2,449.35 L898.7,449.36 L899.2,449.37 L899.7,449.38 L900.2,449.38 L900.7,449.38 L901.2,449.39 L901.7,449.39 L902.2,449.39 L902.7,449.39 L903.2,449.39 L903.7,449.4 L904.2,449.4 L904.7,449.4 L905.2,449.4 L905.7,449.4 L906.2,449.4 L906.7,449.4 L907.2,449.4 L907.7,449.4 L908.2,449.4 L908.7,449.4 L909.2,449.4 L909.7,449.4 L910.2,449.4 L910.7,449.4 L911.2,449.4 L911.7,449.4 L912.2,449.4 L912.7,449.4 L913.2,449.4 L913.7,449.4 L914.2,449.4 L914.7,449.4 L915.2,449.4 L915.7,449.4 L916.2,449.4 L916.7,449.4 L917.2,449.4 L917.7,449.4 L918.2,449.4 L918.7,449.4 L919.2,449.4 L919.7,449.4 L920.2,449.4 L920.7,449.4 L921.2,449.4 L921.7,449.4 L922.2,449.4 L922.7,449.4 L923.2,449.4 L923.7,449.4 L924.2,449.4 L924.7,449.4 L925.2,449.4 L925.7,449.4 L926.2,449.4 L926.7,449.4 L927.2,449.4 L927.7,449.4 L928.2,449.4 L928.7,449.4 L929.2,449.4 L929.7,449.4 L930.2,449.4 L930.7,449.4 L931.2,449.4 L931.7,449.4 L932.2,449.4 L932.7,449.4 L933.2,449.4 L933.7,449.4 L934.2,449.4 L934.7,449.4 L935.2,449.4 L935.7,449.4 L936.2,449.4 L936.7,449.4 L937.2,449.4 L937.7,449.4 L938.2,449.4 L938.7,449.4 L939.2,449.4 L939.7,449.4 L940.2,449.4 L940.7,449.4 L941.2,449.4 L941.7,449.4 L942.2,449.4 L942.7,449.4 L943.2,449.4 L943.7,449.4 L944.2,449.4 L944.7,449.4 L945.2,449.4 L945.7,449.4 L946.2,449.4 L946.7,449.4 L947.2,449.4 L947.7,449.4 L948.2,449.4 L948.7,449.4 L949.2,449.4 L949.7,449.4 L950.2,449.4 L950.7,449.4 L951.2,449.4 L951.7,449.4 L952.2,449.4 L952.7,449.4 L953.2,449.4 L953.7,449.4 L954.2,449.4 L954.7,449.4 L955.2,449.4 L955.7,449.4 L956.2,449.4 L956.7,449.4 L957.2,449.4 L957.7,449.4 L958.2,449.4 L958.7,449.4 L959.2,449.4 L959.7,449.4 L960.2,449.4 L960.7,449.4 L961.2,449.4 L961.7,449.4 L962.2,449.4 L962.7,449.4 L963.2,449.4 L963.7,449.4 L964.2,449.4 L964.7,449.4 L965.2,449.4 L965.7,449.4 L966.2,449.4 L966.7,449.4 L967.2,449.4 L967.7,449.4 L968.2,449.4 L968.7,449.4 L969.2,449.4 L969.7,449.4 L970.2,449.4 L970.7,449.4 L971.2,449.4 L971.7,449.4 L972.2,449.4 L972.7,449.4 L973.2,449.4 L973.7,449.4 L974.2,449.4 L974.7,449.4 L975.2,449.4 L975.7,449.4 L976.2,449.4 L976.7,449.4 L977.2,449.4 L977.7,449.4 L978.2,449.4 L978.7,449.4 L979.2,449.4 L979.7,449.4 L980.2,449.4 L980.7,449.4 L981.2,449.4 L981.7,449.4 L982.2,449.4 L982.7,449.4 L983.2,449.4 L983.7,449.4 L984.2,449.4 L984.7,449.4 L985.2,449.4 L985.7,449.4 L986.2,449.4 L986.7,449.4 L987.2,449.4 L987.7,449.4 L988.2,449.4 L988.7,449.4 L989.2,449.4 L989.7,449.4 L990.2,449.4 L990.7,449.4 L991.2,449.4 L991.7,449.4 L992.2,449.4 L992.7,449.4 L993.2,449.4 L993.7,449.4 L994.2,449.4 L994.7,449.4 L995.2,449.4 L995.7,449.4 L996.2,449.4 L996.7,449.4 L997.2,449.4 L997.7,449.4 L998.2,449.4 L998.7,449.4 L999.2,449.4 L999.7,449.4 L1000.2,449.4 L1000.7,449.4 L1001.2,449.4 L1001.7,449.4 L1002.2,449.4 L1002.7,449.4 L1003.2,449.4 L1003.7,449.4 L1004.2,449.4 L1004.7,449.4 L1005.2,449.4 L1005.7,449.4 L1006.2,449.4 L1006.7,449.4 L1007.2,449.4 L1007.7,449.4 L1008.2,449.4 L1008.7,449.4 L1009.2,449.4 L1009.7,449.4 L1010.2,449.4 L1010.7,449.4 L1011.2,449.4 L1011.7,449.4 L1012.2,449.4 L1012.7,449.4 L1013.2,449.4 L1013.7,449.4 L1014.2,449.4 L1014.7,449.4 L1015.2,449.4 L1015.7,449.4 L1016.2,449.4 L1016.7,449.4 L1017.2,449.4 L1017.7,449.4 L1018.2,449.4 L1018.7,449.4 L1019.2,449.4 L1019.7,449.4 L1020.2,449.4 L1020.7,449.4 L1021.2,449.4 L1021.7,449.4 L1022.2,449.4 L1022.7,449.4 L1023.2,449.4 L1023.7,449.4 L1024.2,449.4 L1024.7,449.4 L1025.2,449.4 L1025.7,449.4 L1026.2,449.4 L1026.7,449.4 L1027.2,449.4 L1027.7,449.4 L1028.2,449.4 L1028.7,449.4 L1029.2,449.4 L1029.7,449.4 L1030.2,449.4 L1030.7,449.4 L1031.2,449.4 L1031.7,449.4 L1032.2,449.4 L1032.7,449.4 L1033.2,449.4 L1033.7,449.4 L1034.2,449.4 L1034.7,449.4 L1035.2,449.4 L1035.7,449.4 L1036.2,449.4 L1036.7,449.4 L1037.2,449.4 L1037.7,449.4 L1038.2,449.4 L1038.7,449.4 L1039.2,449.4 L1039.7,449.4 L1040.2,449.4 L1040.7,449.4 L1041.2,449.4 L1041.7,449.4 L1042.2,449.4 L1042.7,449.4 L1043.2,449.4 L1043.7,449.4 L1044.2,449.4 L1044.7,449.4 L1045.2,449.4 L1045.7,449.4 L1046.2,449.4 L1046.7,449.4 L1047.2,449.4 L1047.7,449.4 L1048.2,449.4 L1048.7,449.4 L1049.2,449.4 L1049.7,449.4 L1050.2,449.4 L1050.7,449.4 L1051.2,449.4 L1051.7,449.4 L1052.2,449.4 L1052.7,449.4 L1053.2,449.4 L1053.7,449.4 L1054.2,449.4 L1054.7,449.4 L1055.2,449.4 L1055.7,449.4 L1056.2,449.4 L1056.7,449.4 L1057.2,449.4 L1057.7,449.4 L1058.2,449.4 L1058.7,449.4 L1059.2,449.4 L1059.7,449.4 L1060.2,449.4 L1060.7,449.4 L1061.2,449.4 L1061.7,449.4 L1062.2,449.4 L1062.7,449.4 L1063.2,449.4 L1063.7,449.4 L1064.2,449.4 L1064.7,449.4 L1065.2,449.4 L1065.7,449.4 L1066.2,449.4 L1066.7,449.4 L1067.2,449.4 L1067.7,449.4 L1068.2,449.4 L1068.7,449.4 L1069.2,449.4 L1069.7,449.4 L1070.2,449.4 L1070.7,449.4 L1071.2,449.4 L1071.7,449.4 L1072.2,449.4 L1072.7,449.4 L1073.2,449.4 L1073.7,449.4 L1074.2,449.4 L1074.7,449.4 L1075.2,449.4 L1075.7,449.4 L1076.2,449.4 L1076.7,449.4 L1077.2,449.4 L1077.7,449.4 L1078.2,449.4 L1078.7,449.4 L1079.2,449.4 L1079.7,449.4 L1080.2,449.4 L1080.7,449.4 L1081.2,449.4 L1081.7,449.4 L1082.2,449.4 L1082.7,449.4 L1083.2,449.4 L1083.7,449.4 L1084.2,449.4 L1084.7,449.4 L1085.2,449.4 L1085.7,449.4 L1086.2,449.4 L1086.7,449.4 L1087.2,449.4 L1087.7,449.4 L1088.2,449.4 L1088.7,449.4 L1089.2,449.4 L1089.7,449.4 L1090.2,449.4 L1090.7,449.4 L1091.2,449.4 L1091.7,449.4 L1092.2,449.4 L1092.7,449.4 L1093.2,449.4 L1093.7,449.4 L1094.2,449.4 L1094.7,449.4 L1095.2,449.4 L1095.7,449.4 L1096.2,449.4 L1096.7,449.4 L1097.2,449.4 L1097.7,449.4 L1098.2,449.4 L1098.7,449.4 L1099.2,449.4 L1099.7,449.4 L1100.2,449.4 L1100.7,449.4 L1101.2,449.4 L1101.7,449.4 L1102.2,449.4 L1102.7,449.4 L1103.2,449.4 L1103.7,449.4 L1104.2,449.4 L1104.7,449.4 L1105.2,449.4 L1105.7,449.4 L1106.2,449.4 L1106.7,449.4 L1107.2,449.4 L1107.7,449.4 L1108.2,449.4 L1108.7,449.4 L1109.2,449.4 L1109.7,449.4 L1110.2,449.4 L1110.7,449.4 L1111.2,449.4 L1111.7,449.4 L1112.2,449.4 L1112.7,449.4 L1113.2,449.4 L1113.7,449.4 L1114.2,449.4 L1114.7,449.4 L1115.2,449.4 L1115.7,449.4 L1116.2,449.4 L1116.7,449.4 L1117.2,449.4 L1117.7,449.4 L1118.2,449.4 L1118.7,449.4 L1119.2,449.4 L1119.7,449.4 L1120.2,449.4 L1120.7,449.4 L1121.2,449.4 L1121.7,449.4 L1122.2,449.4 L1122.7,449.4 L1123.2,449.4 L1123.7,449.4 L1124.2,449.4 L1124.7,449.4 L1125.2,449.4 L1125.7,449.4 L1126.2,449.4 L1126.7,449.4 L1127.2,449.4 L1127.7,449.4 L1128.2,449.4 L1128.7,449.4 L1129.2,449.4 L1129.7,449.4 L1130.2,449.4 L1130.7,449.4 L1131.2,449.4 L1131.7,449.4 L1132.2,449.4 L1132.7,449.4 L1133.2,449.4 L1133.7,449.4 L1134.2,449.4 L1134.7,449.4 L1135.2,449.4 L1135.7,449.4 L1136.2,449.4 L1136.7,449.4 L1137.2,449.4 L1137.7,449.4 L1138.2,449.4 L1138.7,449.4 L1139.2,449.4 L1139.7,449.4 L1140.2,449.4 L1140.7,449.4 L1141.2,449.4 L1141.7,449.4 L1142.2,449.4 L1142.7,449.4 L1143.2,449.4 L1143.7,449.4 L1144.2,449.4 L1144.7,449.4 L1145.2,449.4 L1145.7,449.4 L1146.2,449.4 L1146.7,449.4 L1147.2,449.4 L1147.7,449.4 L1148.2,449.4 L1148.7,449.4 L1149.2,449.4 L1149.7,449.4 L1150.2,449.4 L1150.7,449.4" fill="none" stroke="#111" stroke-width="1.25" stroke-linejoin="round"/>
<path d="M645.2,448.12 L645.7,447.71 L646.2,447.05 L646.7,445.97 L647.2,444.2 L647.7,441.38 L648.2,437.19 L648.7,431.41 L649.2,424.14 L649.7,415.97 L650.2,408.11 L650.7,402.4 L651.2,400.76 L651.7,403.86 L652.2,410.48 L652.7,418.61 L653.2,426.59 L653.7,433.41 L654.2,438.67 L654.7,442.38 L655.2,444.81 L655.7,446.31 L656.2,447.21 L656.7,447.75 L657.2,448.07" fill="none" stroke="#a020b0" stroke-width="1.4" stroke-linejoin="round"/>
<path d="M586.2,517 L586.7,517 L587.2,517 L587.7,517 L588.2,517 L588.7,517 L589.2,517 L589.7,517 L590.2,517 L590.7,517 L591.2,517 L591.7,517 L592.2,517 L592.7,517 L593.2,517 L593.7,517 L594.2,517 L594.7,517 L595.2,517 L595.7,517 L596.2,517 L596.7,517 L597.2,517 L597.7,517 L598.2,517 L598.7,517 L599.2,517 L599.7,517 L600.2,517 L600.7,517 L601.2,517 L601.7,517 L602.2,517 L602.7,517 L603.2,517 L603.7,517 L604.2,517 L604.7,517 L605.2,517 L605.7,517 L606.2,517 L606.7,517 L607.2,517 L607.7,517 L608.2,517 L608.7,517 L609.2,517 L609.7,517 L610.2,517 L610.7,517 L611.2,517 L611.7,517 L612.2,517 L612.7,517 L613.2,517 L613.7,517 L614.2,517 L614.7,517 L615.2,517 L615.7,517 L616.2,517 L616.7,517 L617.2,517 L617.7,517 L618.2,517 L618.7,517 L619.2,516.99 L619.7,516.99 L620.2,516.99 L620.7,516.99 L621.2,516.99 L621.7,516.99 L622.2,516.99 L622.7,516.98 L623.2,516.98 L623.7,516.98 L624.2,516.97 L624.7,516.97 L625.2,516.96 L625.7,516.95 L626.2,516.93 L626.7,516.91 L627.2,516.88 L627.7,516.85 L628.2,516.8 L628.7,516.74 L629.2,516.66 L629.7,516.58 L630.2,516.49 L630.7,516.4 L631.2,516.32 L631.7,516.25 L632.2,516.21 L632.7,516.2 L633.2,516.23 L633.7,516.29 L634.2,516.37 L634.7,516.45 L635.2,516.54 L635.7,516.63 L636.2,516.71 L636.7,516.77 L637.2,516.83 L637.7,516.87 L638.2,516.9 L638.7,516.93 L639.2,516.94 L639.7,516.96 L640.2,516.97 L640.7,516.97 L641.2,516.98 L641.7,516.98 L642.2,516.98 L642.7,516.99 L643.2,516.99 L643.7,516.99 L644.2,516.99 L644.7,516.99 L645.2,516.99 L645.7,516.99 L646.2,516.99 L646.7,516.99 L647.2,516.99 L647.7,516.99 L648.2,516.99 L648.7,516.99 L649.2,516.99 L649.7,516.99 L650.2,516.99 L650.7,516.98 L651.2,516.98 L651.7,516.97 L652.2,516.97 L652.7,516.96 L653.2,516.94 L653.7,516.91 L654.2,516.85 L654.7,516.74 L655.2,516.56 L655.7,516.29 L656.2,515.95 L656.7,515.62 L657.2,515.43 L657.7,515.48 L658.2,515.73 L658.7,516.03 L659.2,516.28 L659.7,516.41 L660.2,516.41 L660.7,516.25 L661.2,515.87 L661.7,515.19 L662.2,514.11 L662.7,512.64 L663.2,510.88 L663.7,509.2 L664.2,508.12 L664.7,508.18 L665.2,509.33 L665.7,511.05 L666.2,512.8 L666.7,514.25 L667.2,515.3 L667.7,515.98 L668.2,516.37 L668.7,516.6 L669.2,516.72 L669.7,516.8 L670.2,516.84 L670.7,516.88 L671.2,516.91 L671.7,516.93 L672.2,516.94 L672.7,516.95 L673.2,516.96 L673.7,516.97 L674.2,516.98 L674.7,516.98 L675.2,516.99 L675.7,516.99 L676.2,516.99 L676.7,516.99 L677.2,517 L677.7,517 L678.2,517 L678.7,517 L679.2,517 L679.7,517 L680.2,517 L680.7,517 L681.2,517 L681.7,517 L682.2,517 L682.7,517 L683.2,517 L683.7,517 L684.2,517 L684.7,517 L685.2,517 L685.7,517 L686.2,517 L686.7,517 L687.2,517 L687.7,517 L688.2,517 L688.7,517 L689.2,517 L689.7,517 L690.2,517 L690.7,517 L691.2,517 L691.7,517 L692.2,517 L692.7,517 L693.2,517 L693.7,517 L694.2,517 L694.7,517 L695.2,517 L695.7,517 L696.2,517 L696.7,516.99 L697.2,516.99 L697.7,516.99 L698.2,516.99 L698.7,516.98 L699.2,516.98 L699.7,516.97 L700.2,516.97 L700.7,516.96 L701.2,516.94 L701.7,516.93 L702.2,516.91 L702.7,516.88 L703.2,516.84 L703.7,516.78 L704.2,516.69 L704.7,516.51 L705.2,516.18 L705.7,515.6 L706.2,514.65 L706.7,513.3 L707.2,511.65 L707.7,510.05 L708.2,509.08 L708.7,509.26 L709.2,510.48 L709.7,512.14 L710.2,513.73 L710.7,514.97 L711.2,515.8 L711.7,516.3 L712.2,516.57 L712.7,516.72 L713.2,516.8 L713.7,516.85 L714.2,516.89 L714.7,516.91 L715.2,516.93 L715.7,516.95 L716.2,516.96 L716.7,516.97 L717.2,516.98 L717.7,516.98 L718.2,516.99 L718.7,516.99 L719.2,516.99 L719.7,516.99 L720.2,516.99 L720.7,517 L721.2,517 L721.7,517 L722.2,517 L722.7,517 L723.2,517 L723.7,517 L724.2,517 L724.7,517 L725.2,517 L725.7,517 L726.2,517 L726.7,517 L727.2,517 L727.7,517 L728.2,516.99 L728.7,516.99 L729.2,516.99 L729.7,516.99 L730.2,516.99 L730.7,516.99 L731.2,516.99 L731.7,516.99 L732.2,516.98 L732.7,516.98 L733.2,516.97 L733.7,516.97 L734.2,516.96 L734.7,516.95 L735.2,516.93 L735.7,516.9 L736.2,516.87 L736.7,516.83 L737.2,516.78 L737.7,516.73 L738.2,516.66 L738.7,516.59 L739.2,516.53 L739.7,516.47 L740.2,516.42 L740.7,516.4 L741.2,516.41 L741.7,516.44 L742.2,516.48 L742.7,516.55 L743.2,516.61 L743.7,516.68 L744.2,516.74 L744.7,516.8 L745.2,516.85 L745.7,516.88 L746.2,516.91 L746.7,516.93 L747.2,516.95 L747.7,516.96 L748.2,516.97 L748.7,516.98 L749.2,516.98 L749.7,516.98 L750.2,516.99 L750.7,516.99 L751.2,516.99 L751.7,516.99 L752.2,516.99 L752.7,516.99 L753.2,516.99 L753.7,516.99 L754.2,517 L754.7,517 L755.2,517 L755.7,517 L756.2,517 L756.7,517 L757.2,517 L757.7,517 L758.2,517 L758.7,517 L759.2,517 L759.7,517 L760.2,517 L760.7,517 L761.2,517 L761.7,517 L762.2,517 L762.7,517 L763.2,516.99 L763.7,516.99 L764.2,516.99 L764.7,516.99 L765.2,516.99 L765.7,516.99 L766.2,516.98 L766.7,516.97 L767.2,516.96 L767.7,516.95 L768.2,516.92 L768.7,516.87 L769.2,516.81 L769.7,516.73 L770.2,516.63 L770.7,516.53 L771.2,516.44 L771.7,516.4 L772.2,516.42 L772.7,516.48 L773.2,516.58 L773.7,516.68 L774.2,516.77 L774.7,516.84 L775.2,516.9 L775.7,516.93 L776.2,516.96 L776.7,516.97 L777.2,516.98 L777.7,516.98 L778.2,516.99 L778.7,516.99 L779.2,516.99 L779.7,516.99 L780.2,516.99 L780.7,517 L781.2,517 L781.7,517 L782.2,517 L782.7,517 L783.2,517 L783.7,517 L784.2,517 L784.7,517 L785.2,517 L785.7,517 L786.2,517 L786.7,517 L787.2,517 L787.7,517 L788.2,517 L788.7,517 L789.2,517 L789.7,517 L790.2,517 L790.7,517 L791.2,517 L791.7,517 L792.2,517 L792.7,517 L793.2,517 L793.7,517 L794.2,517 L794.7,517 L795.2,517 L795.7,517 L796.2,517 L796.7,517 L797.2,517 L797.7,517 L798.2,517 L798.7,517 L799.2,517 L799.7,517 L800.2,517 L800.7,517 L801.2,517 L801.7,517 L802.2,517 L802.7,517 L803.2,517 L803.7,517 L804.2,517 L804.7,517 L805.2,517 L805.7,517 L806.2,517 L806.7,517 L807.2,517 L807.7,517 L808.2,517 L808.7,517 L809.2,517 L809.7,517 L810.2,517 L810.7,517 L811.2,517 L811.7,517 L812.2,517 L812.7,517 L813.2,517 L813.7,517 L814.2,517 L814.7,517 L815.2,517 L815.7,517 L816.2,517 L816.7,517 L817.2,517 L817.7,517 L818.2,517 L818.7,517 L819.2,517 L819.7,517 L820.2,517 L820.7,517 L821.2,517 L821.7,517 L822.2,517 L822.7,517 L823.2,517 L823.7,517 L824.2,517 L824.7,517 L825.2,517 L825.7,517 L826.2,517 L826.7,517 L827.2,517 L827.7,517 L828.2,517 L828.7,517 L829.2,517 L829.7,517 L830.2,517 L830.7,517 L831.2,517 L831.7,517 L832.2,517 L832.7,517 L833.2,517 L833.7,517 L834.2,517 L834.7,517 L835.2,517 L835.7,517 L836.2,517 L836.7,517 L837.2,517 L837.7,517 L838.2,517 L838.7,517 L839.2,517 L839.7,517 L840.2,517 L840.7,517 L841.2,517 L841.7,517 L842.2,517 L842.7,517 L843.2,517 L843.7,517 L844.2,517 L844.7,517 L845.2,517 L845.7,517 L846.2,517 L846.7,517 L847.2,517 L847.7,517 L848.2,517 L848.7,517 L849.2,517 L849.7,517 L850.2,517 L850.7,517 L851.2,517 L851.7,517 L852.2,517 L852.7,517 L853.2,517 L853.7,517 L854.2,517 L854.7,517 L855.2,517 L855.7,517 L856.2,517 L856.7,517 L857.2,517 L857.7,517 L858.2,517 L858.7,517 L859.2,517 L859.7,517 L860.2,517 L860.7,517 L861.2,517 L861.7,517 L862.2,517 L862.7,517 L863.2,517 L863.7,517 L864.2,517 L864.7,517 L865.2,517 L865.7,517 L866.2,517 L866.7,517 L867.2,517 L867.7,517 L868.2,517 L868.7,517 L869.2,517 L869.7,517 L870.2,517 L870.7,517 L871.2,517 L871.7,516.99 L872.2,516.99 L872.7,516.99 L873.2,516.99 L873.7,516.99 L874.2,516.99 L874.7,516.98 L875.2,516.98 L875.7,516.97 L876.2,516.97 L876.7,516.96 L877.2,516.95 L877.7,516.95 L878.2,516.93 L878.7,516.92 L879.2,516.9 L879.7,516.88 L880.2,516.84 L880.7,516.79 L881.2,516.71 L881.7,516.59 L882.2,516.39 L882.7,516.1 L883.2,515.68 L883.7,515.13 L884.2,514.45 L884.7,513.69 L885.2,512.94 L885.7,512.33 L886.2,512.02 L886.7,512.11 L887.2,512.57 L887.7,513.26 L888.2,514.03 L888.7,514.76 L889.2,515.39 L889.7,515.88 L890.2,516.24 L890.7,516.49 L891.2,516.65 L891.7,516.75 L892.2,516.82 L892.7,516.86 L893.2,516.89 L893.7,516.91 L894.2,516.93 L894.7,516.94 L895.2,516.95 L895.7,516.96 L896.2,516.97 L896.7,516.97 L897.2,516.98 L897.7,516.98 L898.2,516.98 L898.7,516.99 L899.2,516.99 L899.7,516.99 L900.2,516.99 L900.7,516.99 L901.2,516.99 L901.7,517 L902.2,517 L902.7,517 L903.2,517 L903.7,517 L904.2,517 L904.7,517 L905.2,517 L905.7,517 L906.2,517 L906.7,517 L907.2,517 L907.7,517 L908.2,517 L908.7,517 L909.2,517 L909.7,517 L910.2,517 L910.7,517 L911.2,517 L911.7,517 L912.2,517 L912.7,517 L913.2,517 L913.7,517 L914.2,517 L914.7,517 L915.2,517 L915.7,517 L916.2,517 L916.7,517 L917.2,517 L917.7,517 L918.2,517 L918.7,517 L919.2,517 L919.7,517 L920.2,517 L920.7,517 L921.2,517 L921.7,517 L922.2,517 L922.7,517 L923.2,517 L923.7,517 L924.2,517 L924.7,517 L925.2,517 L925.7,517 L926.2,517 L926.7,517 L927.2,517 L927.7,517 L928.2,517 L928.7,517 L929.2,517 L929.7,517 L930.2,517 L930.7,517 L931.2,517 L931.7,517 L932.2,517 L932.7,517 L933.2,517 L933.7,517 L934.2,517 L934.7,517 L935.2,517 L935.7,517 L936.2,517 L936.7,517 L937.2,517 L937.7,517 L938.2,517 L938.7,517 L939.2,517 L939.7,517 L940.2,517 L940.7,517 L941.2,517 L941.7,517 L942.2,517 L942.7,517 L943.2,517 L943.7,517 L944.2,517 L944.7,517 L945.2,517 L945.7,517 L946.2,517 L946.7,517 L947.2,517 L947.7,517 L948.2,517 L948.7,517 L949.2,517 L949.7,517 L950.2,517 L950.7,517 L951.2,517 L951.7,517 L952.2,517 L952.7,517 L953.2,517 L953.7,517 L954.2,517 L954.7,517 L955.2,517 L955.7,517 L956.2,517 L956.7,517 L957.2,517 L957.7,517 L958.2,517 L958.7,517 L959.2,517 L959.7,517 L960.2,517 L960.7,517 L961.2,517 L961.7,517 L962.2,517 L962.7,517 L963.2,517 L963.7,517 L964.2,517 L964.7,517 L965.2,517 L965.7,517 L966.2,517 L966.7,517 L967.2,517 L967.7,517 L968.2,517 L968.7,517 L969.2,517 L969.7,517 L970.2,517 L970.7,517 L971.2,517 L971.7,517 L972.2,517 L972.7,517 L973.2,517 L973.7,517 L974.2,517 L974.7,517 L975.2,517 L975.7,517 L976.2,517 L976.7,517 L977.2,517 L977.7,517 L978.2,517 L978.7,517 L979.2,517 L979.7,517 L980.2,517 L980.7,517 L981.2,517 L981.7,517 L982.2,517 L982.7,517 L983.2,517 L983.7,517 L984.2,517 L984.7,517 L985.2,517 L985.7,517 L986.2,517 L986.7,517 L987.2,517 L987.7,517 L988.2,517 L988.7,517 L989.2,517 L989.7,517 L990.2,517 L990.7,517 L991.2,517 L991.7,517 L992.2,517 L992.7,517 L993.2,517 L993.7,517 L994.2,517 L994.7,517 L995.2,517 L995.7,517 L996.2,517 L996.7,517 L997.2,517 L997.7,517 L998.2,517 L998.7,517 L999.2,517 L999.7,517 L1000.2,517 L1000.7,517 L1001.2,517 L1001.7,517 L1002.2,517 L1002.7,517 L1003.2,517 L1003.7,517 L1004.2,517 L1004.7,517 L1005.2,517 L1005.7,517 L1006.2,517 L1006.7,517 L1007.2,517 L1007.7,517 L1008.2,517 L1008.7,517 L1009.2,517 L1009.7,517 L1010.2,517 L1010.7,517 L1011.2,517 L1011.7,517 L1012.2,517 L1012.7,517 L1013.2,517 L1013.7,517 L1014.2,517 L1014.7,517 L1015.2,517 L1015.7,517 L1016.2,517 L1016.7,517 L1017.2,517 L1017.7,517 L1018.2,517 L1018.7,517 L1019.2,517 L1019.7,517 L1020.2,517 L1020.7,517 L1021.2,517 L1021.7,517 L1022.2,517 L1022.7,517 L1023.2,517 L1023.7,517 L1024.2,517 L1024.7,517 L1025.2,517 L1025.7,517 L1026.2,517 L1026.7,517 L1027.2,517 L1027.7,517 L1028.2,517 L1028.7,517 L1029.2,517 L1029.7,517 L1030.2,517 L1030.7,517 L1031.2,517 L1031.7,517 L1032.2,517 L1032.7,517 L1033.2,517 L1033.7,517 L1034.2,517 L1034.7,517 L1035.2,517 L1035.7,517 L1036.2,517 L1036.7,517 L1037.2,517 L1037.7,517 L1038.2,517 L1038.7,517 L1039.2,517 L1039.7,517 L1040.2,517 L1040.7,517 L1041.2,517 L1041.7,517 L1042.2,517 L1042.7,517 L1043.2,517 L1043.7,517 L1044.2,517 L1044.7,517 L1045.2,517 L1045.7,517 L1046.2,517 L1046.7,517 L1047.2,517 L1047.7,517 L1048.2,517 L1048.7,517 L1049.2,517 L1049.7,517 L1050.2,517 L1050.7,517 L1051.2,517 L1051.7,517 L1052.2,517 L1052.7,517 L1053.2,517 L1053.7,517 L1054.2,517 L1054.7,517 L1055.2,517 L1055.7,517 L1056.2,517 L1056.7,517 L1057.2,517 L1057.7,517 L1058.2,517 L1058.7,517 L1059.2,517 L1059.7,517 L1060.2,517 L1060.7,517 L1061.2,517 L1061.7,517 L1062.2,517 L1062.7,517 L1063.2,517 L1063.7,517 L1064.2,517 L1064.7,517 L1065.2,517 L1065.7,517 L1066.2,517 L1066.7,517 L1067.2,517 L1067.7,517 L1068.2,517 L1068.7,517 L1069.2,517 L1069.7,517 L1070.2,517 L1070.7,517 L1071.2,517 L1071.7,517 L1072.2,517 L1072.7,517 L1073.2,517 L1073.7,517 L1074.2,517 L1074.7,517 L1075.2,517 L1075.7,517 L1076.2,517 L1076.7,517 L1077.2,517 L1077.7,517 L1078.2,517 L1078.7,517 L1079.2,517 L1079.7,517 L1080.2,517 L1080.7,517 L1081.2,517 L1081.7,517 L1082.2,517 L1082.7,517 L1083.2,517 L1083.7,517 L1084.2,517 L1084.7,517 L1085.2,517 L1085.7,517 L1086.2,517 L1086.7,517 L1087.2,517 L1087.7,517 L1088.2,517 L1088.7,517 L1089.2,517 L1089.7,517 L1090.2,517 L1090.7,517 L1091.2,517 L1091.7,517 L1092.2,517 L1092.7,517 L1093.2,517 L1093.7,517 L1094.2,517 L1094.7,517 L1095.2,517 L1095.7,517 L1096.2,517 L1096.7,517 L1097.2,517 L1097.7,517 L1098.2,517 L1098.7,517 L1099.2,517 L1099.7,517 L1100.2,517 L1100.7,517 L1101.2,517 L1101.7,517 L1102.2,517 L1102.7,517 L1103.2,517 L1103.7,517 L1104.2,517 L1104.7,517 L1105.2,517 L1105.7,517 L1106.2,517 L1106.7,517 L1107.2,517 L1107.7,517 L1108.2,517 L1108.7,517 L1109.2,517 L1109.7,517 L1110.2,517 L1110.7,517 L1111.2,517 L1111.7,517 L1112.2,517 L1112.7,517 L1113.2,517 L1113.7,517 L1114.2,517 L1114.7,517 L1115.2,517 L1115.7,517 L1116.2,517 L1116.7,517 L1117.2,517 L1117.7,517 L1118.2,517 L1118.7,517 L1119.2,517 L1119.7,517 L1120.2,517 L1120.7,517 L1121.2,517 L1121.7,517 L1122.2,517 L1122.7,517 L1123.2,517 L1123.7,517 L1124.2,517 L1124.7,517 L1125.2,517 L1125.7,517 L1126.2,517 L1126.7,517 L1127.2,517 L1127.7,517 L1128.2,517 L1128.7,517 L1129.2,517 L1129.7,517 L1130.2,517 L1130.7,517 L1131.2,517 L1131.7,517 L1132.2,517 L1132.7,517 L1133.2,517 L1133.7,517 L1134.2,517 L1134.7,517 L1135.2,517 L1135.7,517 L1136.2,517 L1136.7,517 L1137.2,517 L1137.7,517 L1138.2,517 L1138.7,517 L1139.2,517 L1139.7,517 L1140.2,517 L1140.7,517 L1141.2,517 L1141.7,517 L1142.2,517 L1142.7,517 L1143.2,517 L1143.7,517 L1144.2,517 L1144.7,517 L1145.2,517 L1145.7,517 L1146.2,517 L1146.7,517 L1147.2,517 L1147.7,517 L1148.2,517 L1148.7,517 L1149.2,517 L1149.7,517 L1150.2,517 L1150.7,517" fill="none" stroke="#111" stroke-width="1.25" stroke-linejoin="round"/>
<path d="M586.2,584.2 L586.7,584.2 L587.2,584.2 L587.7,584.2 L588.2,584.2 L588.7,584.2 L589.2,584.2 L589.7,584.2 L590.2,584.2 L590.7,584.2 L591.2,584.2 L591.7,584.2 L592.2,584.2 L592.7,584.2 L593.2,584.2 L593.7,584.2 L594.2,584.2 L594.7,584.2 L595.2,584.2 L595.7,584.2 L596.2,584.2 L596.7,584.2 L597.2,584.2 L597.7,584.2 L598.2,584.2 L598.7,584.2 L599.2,584.2 L599.7,584.2 L600.2,584.2 L600.7,584.2 L601.2,584.2 L601.7,584.2 L602.2,584.2 L602.7,584.2 L603.2,584.2 L603.7,584.2 L604.2,584.2 L604.7,584.2 L605.2,584.2 L605.7,584.2 L606.2,584.2 L606.7,584.2 L607.2,584.2 L607.7,584.2 L608.2,584.2 L608.7,584.2 L609.2,584.2 L609.7,584.2 L610.2,584.2 L610.7,584.2 L611.2,584.2 L611.7,584.2 L612.2,584.2 L612.7,584.2 L613.2,584.2 L613.7,584.2 L614.2,584.2 L614.7,584.2 L615.2,584.2 L615.7,584.2 L616.2,584.2 L616.7,584.2 L617.2,584.2 L617.7,584.2 L618.2,584.2 L618.7,584.2 L619.2,584.19 L619.7,584.19 L620.2,584.19 L620.7,584.19 L621.2,584.19 L621.7,584.19 L622.2,584.19 L622.7,584.18 L623.2,584.18 L623.7,584.18 L624.2,584.17 L624.7,584.17 L625.2,584.16 L625.7,584.15 L626.2,584.13 L626.7,584.11 L627.2,584.08 L627.7,584.05 L628.2,584 L628.7,583.94 L629.2,583.86 L629.7,583.78 L630.2,583.69 L630.7,583.6 L631.2,583.52 L631.7,583.45 L632.2,583.41 L632.7,583.4 L633.2,583.42 L633.7,583.48 L634.2,583.56 L634.7,583.64 L635.2,583.73 L635.7,583.81 L636.2,583.88 L636.7,583.94 L637.2,583.99 L637.7,584.02 L638.2,584.04 L638.7,584.05 L639.2,584.05 L639.7,584.04 L640.2,584.03 L640.7,584 L641.2,583.97 L641.7,583.92 L642.2,583.87 L642.7,583.8 L643.2,583.72 L643.7,583.61 L644.2,583.47 L644.7,583.29 L645.2,583.04 L645.7,582.66 L646.2,582.06 L646.7,581.08 L647.2,579.47 L647.7,576.91 L648.2,573.09 L648.7,567.83 L649.2,561.22 L649.7,553.79 L650.2,546.64 L650.7,541.45 L651.2,539.96 L651.7,542.78 L652.2,548.81 L652.7,556.21 L653.2,563.46 L653.7,569.67 L654.2,574.46 L654.7,577.84 L655.2,580.06 L655.7,581.44 L656.2,582.27 L656.7,582.78 L657.2,583.1 L657.7,583.32 L658.2,583.47 L658.7,583.58 L659.2,583.66 L659.7,583.71 L660.2,583.72 L660.7,583.67 L661.2,583.52 L661.7,583.21 L662.2,582.67 L662.7,581.88 L663.2,580.88 L663.7,579.88 L664.2,579.23 L664.7,579.27 L665.2,579.99 L665.7,581.03 L666.2,582.04 L666.7,582.84 L667.2,583.39 L667.7,583.73 L668.2,583.91 L668.7,584.01 L669.2,584.07 L669.7,584.1 L670.2,584.13 L670.7,584.14 L671.2,584.16 L671.7,584.17 L672.2,584.17 L672.7,584.18 L673.2,584.18 L673.7,584.19 L674.2,584.19 L674.7,584.19 L675.2,584.19 L675.7,584.2 L676.2,584.2 L676.7,584.2 L677.2,584.2 L677.7,584.2 L678.2,584.2 L678.7,584.2 L679.2,584.2 L679.7,584.2 L680.2,584.2 L680.7,584.2 L681.2,584.19 L681.7,584.19 L682.2,584.19 L682.7,584.19 L683.2,584.19 L683.7,584.18 L684.2,584.18 L684.7,584.17 L685.2,584.17 L685.7,584.16 L686.2,584.15 L686.7,584.14 L687.2,584.13 L687.7,584.11 L688.2,584.09 L688.7,584.05 L689.2,584.01 L689.7,583.94 L690.2,583.83 L690.7,583.65 L691.2,583.33 L691.7,582.83 L692.2,582.1 L692.7,581.11 L693.2,579.92 L693.7,578.69 L694.2,577.67 L694.7,577.2 L695.2,577.49 L695.7,578.41 L696.2,579.62 L696.7,580.84 L697.2,581.88 L697.7,582.67 L698.2,583.22 L698.7,583.57 L699.2,583.78 L699.7,583.89 L700.2,583.96 L700.7,584 L701.2,584.02 L701.7,584.03 L702.2,584.02 L702.7,584.01 L703.2,583.98 L703.7,583.93 L704.2,583.83 L704.7,583.65 L705.2,583.31 L705.7,582.69 L706.2,581.69 L706.7,580.26 L707.2,578.51 L707.7,576.81 L708.2,575.78 L708.7,575.97 L709.2,577.27 L709.7,579.04 L710.2,580.72 L710.7,582.04 L711.2,582.92 L711.7,583.45 L712.2,583.75 L712.7,583.9 L713.2,583.99 L713.7,584.04 L714.2,584.08 L714.7,584.11 L715.2,584.13 L715.7,584.15 L716.2,584.16 L716.7,584.17 L717.2,584.17 L717.7,584.18 L718.2,584.18 L718.7,584.19 L719.2,584.19 L719.7,584.19 L720.2,584.19 L720.7,584.2 L721.2,584.2 L721.7,584.2 L722.2,584.2 L722.7,584.2 L723.2,584.2 L723.7,584.2 L724.2,584.2 L724.7,584.2 L725.2,584.2 L725.7,584.2 L726.2,584.2 L726.7,584.2 L727.2,584.2 L727.7,584.2 L728.2,584.19 L728.7,584.19 L729.2,584.19 L729.7,584.19 L730.2,584.19 L730.7,584.19 L731.2,584.19 L731.7,584.19 L732.2,584.18 L732.7,584.18 L733.2,584.17 L733.7,584.17 L734.2,584.16 L734.7,584.15 L735.2,584.13 L735.7,584.1 L736.2,584.07 L736.7,584.03 L737.2,583.98 L737.7,583.93 L738.2,583.86 L738.7,583.79 L739.2,583.73 L739.7,583.67 L740.2,583.62 L740.7,583.6 L741.2,583.61 L741.7,583.64 L742.2,583.68 L742.7,583.75 L743.2,583.81 L743.7,583.88 L744.2,583.94 L744.7,584 L745.2,584.05 L745.7,584.08 L746.2,584.11 L746.7,584.13 L747.2,584.15 L747.7,584.16 L748.2,584.17 L748.7,584.18 L749.2,584.18 L749.7,584.18 L750.2,584.19 L750.7,584.19 L751.2,584.19 L751.7,584.19 L752.2,584.19 L752.7,584.19 L753.2,584.19 L753.7,584.19 L754.2,584.2 L754.7,584.2 L755.2,584.2 L755.7,584.2 L756.2,584.2 L756.7,584.2 L757.2,584.2 L757.7,584.2 L758.2,584.2 L758.7,584.2 L759.2,584.2 L759.7,584.2 L760.2,584.2 L760.7,584.19 L761.2,584.19 L761.7,584.19 L762.2,584.19 L762.7,584.19 L763.2,584.19 L763.7,584.18 L764.2,584.18 L764.7,584.18 L765.2,584.17 L765.7,584.16 L766.2,584.15 L766.7,584.13 L767.2,584.1 L767.7,584.06 L768.2,583.98 L768.7,583.86 L769.2,583.69 L769.7,583.47 L770.2,583.21 L770.7,582.94 L771.2,582.72 L771.7,582.61 L772.2,582.64 L772.7,582.82 L773.2,583.08 L773.7,583.35 L774.2,583.59 L774.7,583.78 L775.2,583.93 L775.7,584.02 L776.2,584.08 L776.7,584.12 L777.2,584.14 L777.7,584.16 L778.2,584.17 L778.7,584.17 L779.2,584.18 L779.7,584.18 L780.2,584.19 L780.7,584.19 L781.2,584.19 L781.7,584.19 L782.2,584.19 L782.7,584.19 L783.2,584.2 L783.7,584.2 L784.2,584.2 L784.7,584.2 L785.2,584.2 L785.7,584.2 L786.2,584.2 L786.7,584.2 L787.2,584.2 L787.7,584.2 L788.2,584.2 L788.7,584.2 L789.2,584.2 L789.7,584.2 L790.2,584.2 L790.7,584.2 L791.2,584.2 L791.7,584.2 L792.2,584.2 L792.7,584.2 L793.2,584.2 L793.7,584.2 L794.2,584.2 L794.7,584.2 L795.2,584.2 L795.7,584.2 L796.2,584.2 L796.7,584.2 L797.2,584.2 L797.7,584.2 L798.2,584.2 L798.7,584.2 L799.2,584.2 L799.7,584.2 L800.2,584.2 L800.7,584.2 L801.2,584.2 L801.7,584.2 L802.2,584.2 L802.7,584.2 L803.2,584.2 L803.7,584.2 L804.2,584.2 L804.7,584.2 L805.2,584.2 L805.7,584.2 L806.2,584.2 L806.7,584.2 L807.2,584.2 L807.7,584.2 L808.2,584.2 L808.7,584.2 L809.2,584.2 L809.7,584.2 L810.2,584.2 L810.7,584.2 L811.2,584.2 L811.7,584.2 L812.2,584.2 L812.7,584.2 L813.2,584.2 L813.7,584.2 L814.2,584.2 L814.7,584.2 L815.2,584.2 L815.7,584.2 L816.2,584.2 L816.7,584.2 L817.2,584.2 L817.7,584.2 L818.2,584.2 L818.7,584.2 L819.2,584.2 L819.7,584.2 L820.2,584.2 L820.7,584.2 L821.2,584.2 L821.7,584.2 L822.2,584.2 L822.7,584.2 L823.2,584.2 L823.7,584.2 L824.2,584.2 L824.7,584.2 L825.2,584.2 L825.7,584.2 L826.2,584.2 L826.7,584.2 L827.2,584.2 L827.7,584.2 L828.2,584.2 L828.7,584.2 L829.2,584.2 L829.7,584.2 L830.2,584.2 L830.7,584.2 L831.2,584.2 L831.7,584.2 L832.2,584.2 L832.7,584.2 L833.2,584.2 L833.7,584.2 L834.2,584.2 L834.7,584.2 L835.2,584.2 L835.7,584.2 L836.2,584.2 L836.7,584.2 L837.2,584.2 L837.7,584.2 L838.2,584.2 L838.7,584.2 L839.2,584.2 L839.7,584.2 L840.2,584.2 L840.7,584.2 L841.2,584.2 L841.7,584.2 L842.2,584.2 L842.7,584.2 L843.2,584.2 L843.7,584.2 L844.2,584.2 L844.7,584.2 L845.2,584.2 L845.7,584.2 L846.2,584.2 L846.7,584.2 L847.2,584.2 L847.7,584.2 L848.2,584.2 L848.7,584.2 L849.2,584.2 L849.7,584.2 L850.2,584.2 L850.7,584.2 L851.2,584.2 L851.7,584.2 L852.2,584.2 L852.7,584.2 L853.2,584.2 L853.7,584.2 L854.2,584.2 L854.7,584.2 L855.2,584.2 L855.7,584.2 L856.2,584.2 L856.7,584.2 L857.2,584.2 L857.7,584.2 L858.2,584.2 L858.7,584.2 L859.2,584.2 L859.7,584.2 L860.2,584.2 L860.7,584.2 L861.2,584.2 L861.7,584.2 L862.2,584.2 L862.7,584.2 L863.2,584.2 L863.7,584.2 L864.2,584.2 L864.7,584.2 L865.2,584.2 L865.7,584.2 L866.2,584.19 L866.7,584.19 L867.2,584.19 L867.7,584.19 L868.2,584.19 L868.7,584.19 L869.2,584.18 L869.7,584.18 L870.2,584.18 L870.7,584.17 L871.2,584.16 L871.7,584.16 L872.2,584.15 L872.7,584.14 L873.2,584.12 L873.7,584.11 L874.2,584.09 L874.7,584.06 L875.2,584.03 L875.7,583.98 L876.2,583.9 L876.7,583.78 L877.2,583.59 L877.7,583.3 L878.2,582.88 L878.7,582.29 L879.2,581.52 L879.7,580.59 L880.2,579.59 L880.7,578.64 L881.2,577.93 L881.7,577.67 L882.2,577.92 L882.7,578.62 L883.2,579.55 L883.7,580.53 L884.2,581.42 L884.7,582.14 L885.2,582.65 L885.7,582.94 L886.2,583.02 L886.7,582.91 L887.2,582.64 L887.7,582.24 L888.2,581.78 L888.7,581.37 L889.2,581.12 L889.7,581.15 L890.2,581.45 L890.7,581.92 L891.2,582.44 L891.7,582.92 L892.2,583.31 L892.7,583.61 L893.2,583.81 L893.7,583.94 L894.2,584.02 L894.7,584.07 L895.2,584.1 L895.7,584.12 L896.2,584.14 L896.7,584.15 L897.2,584.16 L897.7,584.17 L898.2,584.17 L898.7,584.18 L899.2,584.18 L899.7,584.19 L900.2,584.19 L900.7,584.19 L901.2,584.19 L901.7,584.19 L902.2,584.2 L902.7,584.2 L903.2,584.2 L903.7,584.2 L904.2,584.2 L904.7,584.2 L905.2,584.2 L905.7,584.2 L906.2,584.2 L906.7,584.2 L907.2,584.2 L907.7,584.2 L908.2,584.2 L908.7,584.2 L909.2,584.2 L909.7,584.2 L910.2,584.2 L910.7,584.2 L911.2,584.2 L911.7,584.2 L912.2,584.2 L912.7,584.2 L913.2,584.2 L913.7,584.2 L914.2,584.2 L914.7,584.2 L915.2,584.2 L915.7,584.2 L916.2,584.2 L916.7,584.2 L917.2,584.2 L917.7,584.2 L918.2,584.2 L918.7,584.2 L919.2,584.2 L919.7,584.2 L920.2,584.2 L920.7,584.2 L921.2,584.2 L921.7,584.2 L922.2,584.2 L922.7,584.2 L923.2,584.2 L923.7,584.2 L924.2,584.2 L924.7,584.2 L925.2,584.2 L925.7,584.2 L926.2,584.2 L926.7,584.2 L927.2,584.2 L927.7,584.2 L928.2,584.2 L928.7,584.2 L929.2,584.2 L929.7,584.2 L930.2,584.2 L930.7,584.2 L931.2,584.2 L931.7,584.2 L932.2,584.2 L932.7,584.2 L933.2,584.2 L933.7,584.2 L934.2,584.2 L934.7,584.2 L935.2,584.2 L935.7,584.2 L936.2,584.2 L936.7,584.2 L937.2,584.2 L937.7,584.2 L938.2,584.2 L938.7,584.2 L939.2,584.2 L939.7,584.2 L940.2,584.2 L940.7,584.2 L941.2,584.2 L941.7,584.2 L942.2,584.2 L942.7,584.2 L943.2,584.2 L943.7,584.2 L944.2,584.2 L944.7,584.2 L945.2,584.2 L945.7,584.2 L946.2,584.2 L946.7,584.2 L947.2,584.2 L947.7,584.2 L948.2,584.2 L948.7,584.2 L949.2,584.2 L949.7,584.2 L950.2,584.2 L950.7,584.2 L951.2,584.2 L951.7,584.2 L952.2,584.2 L952.7,584.2 L953.2,584.2 L953.7,584.2 L954.2,584.2 L954.7,584.2 L955.2,584.2 L955.7,584.2 L956.2,584.2 L956.7,584.2 L957.2,584.2 L957.7,584.2 L958.2,584.2 L958.7,584.2 L959.2,584.2 L959.7,584.2 L960.2,584.2 L960.7,584.2 L961.2,584.2 L961.7,584.2 L962.2,584.2 L962.7,584.2 L963.2,584.2 L963.7,584.2 L964.2,584.2 L964.7,584.2 L965.2,584.2 L965.7,584.2 L966.2,584.2 L966.7,584.2 L967.2,584.2 L967.7,584.2 L968.2,584.2 L968.7,584.2 L969.2,584.2 L969.7,584.2 L970.2,584.2 L970.7,584.2 L971.2,584.2 L971.7,584.2 L972.2,584.2 L972.7,584.2 L973.2,584.2 L973.7,584.2 L974.2,584.2 L974.7,584.2 L975.2,584.2 L975.7,584.2 L976.2,584.2 L976.7,584.2 L977.2,584.2 L977.7,584.2 L978.2,584.2 L978.7,584.2 L979.2,584.2 L979.7,584.2 L980.2,584.2 L980.7,584.2 L981.2,584.2 L981.7,584.2 L982.2,584.2 L982.7,584.2 L983.2,584.2 L983.7,584.2 L984.2,584.2 L984.7,584.2 L985.2,584.2 L985.7,584.2 L986.2,584.2 L986.7,584.2 L987.2,584.2 L987.7,584.2 L988.2,584.2 L988.7,584.2 L989.2,584.2 L989.7,584.2 L990.2,584.2 L990.7,584.2 L991.2,584.2 L991.7,584.2 L992.2,584.2 L992.7,584.2 L993.2,584.2 L993.7,584.2 L994.2,584.2 L994.7,584.2 L995.2,584.2 L995.7,584.2 L996.2,584.2 L996.7,584.2 L997.2,584.2 L997.7,584.2 L998.2,584.2 L998.7,584.2 L999.2,584.2 L999.7,584.2 L1000.2,584.2 L1000.7,584.2 L1001.2,584.2 L1001.7,584.2 L1002.2,584.2 L1002.7,584.2 L1003.2,584.2 L1003.7,584.2 L1004.2,584.2 L1004.7,584.2 L1005.2,584.2 L1005.7,584.2 L1006.2,584.2 L1006.7,584.2 L1007.2,584.2 L1007.7,584.2 L1008.2,584.2 L1008.7,584.2 L1009.2,584.2 L1009.7,584.2 L1010.2,584.2 L1010.7,584.2 L1011.2,584.2 L1011.7,584.2 L1012.2,584.2 L1012.7,584.2 L1013.2,584.2 L1013.7,584.2 L1014.2,584.2 L1014.7,584.2 L1015.2,584.2 L1015.7,584.2 L1016.2,584.2 L1016.7,584.2 L1017.2,584.2 L1017.7,584.2 L1018.2,584.2 L1018.7,584.2 L1019.2,584.2 L1019.7,584.2 L1020.2,584.2 L1020.7,584.2 L1021.2,584.2 L1021.7,584.2 L1022.2,584.2 L1022.7,584.2 L1023.2,584.2 L1023.7,584.2 L1024.2,584.2 L1024.7,584.2 L1025.2,584.2 L1025.7,584.2 L1026.2,584.2 L1026.7,584.2 L1027.2,584.2 L1027.7,584.2 L1028.2,584.2 L1028.7,584.2 L1029.2,584.2 L1029.7,584.2 L1030.2,584.2 L1030.7,584.2 L1031.2,584.2 L1031.7,584.2 L1032.2,584.2 L1032.7,584.2 L1033.2,584.2 L1033.7,584.2 L1034.2,584.2 L1034.7,584.2 L1035.2,584.2 L1035.7,584.2 L1036.2,584.2 L1036.7,584.2 L1037.2,584.2 L1037.7,584.2 L1038.2,584.2 L1038.7,584.2 L1039.2,584.2 L1039.7,584.2 L1040.2,584.2 L1040.7,584.2 L1041.2,584.2 L1041.7,584.2 L1042.2,584.2 L1042.7,584.2 L1043.2,584.2 L1043.7,584.2 L1044.2,584.2 L1044.7,584.2 L1045.2,584.2 L1045.7,584.2 L1046.2,584.2 L1046.7,584.2 L1047.2,584.2 L1047.7,584.2 L1048.2,584.2 L1048.7,584.2 L1049.2,584.2 L1049.7,584.2 L1050.2,584.2 L1050.7,584.2 L1051.2,584.2 L1051.7,584.2 L1052.2,584.2 L1052.7,584.2 L1053.2,584.2 L1053.7,584.2 L1054.2,584.2 L1054.7,584.2 L1055.2,584.2 L1055.7,584.2 L1056.2,584.2 L1056.7,584.2 L1057.2,584.2 L1057.7,584.2 L1058.2,584.2 L1058.7,584.2 L1059.2,584.2 L1059.7,584.2 L1060.2,584.2 L1060.7,584.2 L1061.2,584.2 L1061.7,584.2 L1062.2,584.2 L1062.7,584.2 L1063.2,584.2 L1063.7,584.2 L1064.2,584.2 L1064.7,584.2 L1065.2,584.2 L1065.7,584.2 L1066.2,584.2 L1066.7,584.2 L1067.2,584.2 L1067.7,584.2 L1068.2,584.2 L1068.7,584.2 L1069.2,584.2 L1069.7,584.2 L1070.2,584.2 L1070.7,584.2 L1071.2,584.2 L1071.7,584.2 L1072.2,584.2 L1072.7,584.2 L1073.2,584.2 L1073.7,584.2 L1074.2,584.2 L1074.7,584.2 L1075.2,584.2 L1075.7,584.2 L1076.2,584.2 L1076.7,584.2 L1077.2,584.2 L1077.7,584.2 L1078.2,584.2 L1078.7,584.2 L1079.2,584.2 L1079.7,584.2 L1080.2,584.2 L1080.7,584.2 L1081.2,584.2 L1081.7,584.2 L1082.2,584.2 L1082.7,584.2 L1083.2,584.2 L1083.7,584.2 L1084.2,584.2 L1084.7,584.2 L1085.2,584.2 L1085.7,584.2 L1086.2,584.2 L1086.7,584.2 L1087.2,584.2 L1087.7,584.2 L1088.2,584.2 L1088.7,584.2 L1089.2,584.2 L1089.7,584.2 L1090.2,584.2 L1090.7,584.2 L1091.2,584.2 L1091.7,584.2 L1092.2,584.2 L1092.7,584.2 L1093.2,584.2 L1093.7,584.2 L1094.2,584.2 L1094.7,584.2 L1095.2,584.2 L1095.7,584.2 L1096.2,584.2 L1096.7,584.2 L1097.2,584.2 L1097.7,584.2 L1098.2,584.2 L1098.7,584.2 L1099.2,584.2 L1099.7,584.2 L1100.2,584.2 L1100.7,584.2 L1101.2,584.2 L1101.7,584.2 L1102.2,584.2 L1102.7,584.2 L1103.2,584.2 L1103.7,584.2 L1104.2,584.2 L1104.7,584.2 L1105.2,584.2 L1105.7,584.2 L1106.2,584.2 L1106.7,584.2 L1107.2,584.2 L1107.7,584.2 L1108.2,584.2 L1108.7,584.2 L1109.2,584.2 L1109.7,584.2 L1110.2,584.2 L1110.7,584.2 L1111.2,584.2 L1111.7,584.2 L1112.2,584.2 L1112.7,584.2 L1113.2,584.2 L1113.7,584.2 L1114.2,584.2 L1114.7,584.2 L1115.2,584.2 L1115.7,584.2 L1116.2,584.2 L1116.7,584.2 L1117.2,584.2 L1117.7,584.2 L1118.2,584.2 L1118.7,584.2 L1119.2,584.2 L1119.7,584.2 L1120.2,584.2 L1120.7,584.2 L1121.2,584.2 L1121.7,584.2 L1122.2,584.2 L1122.7,584.2 L1123.2,584.2 L1123.7,584.2 L1124.2,584.2 L1124.7,584.2 L1125.2,584.2 L1125.7,584.2 L1126.2,584.2 L1126.7,584.2 L1127.2,584.2 L1127.7,584.2 L1128.2,584.2 L1128.7,584.2 L1129.2,584.2 L1129.7,584.2 L1130.2,584.2 L1130.7,584.2 L1131.2,584.2 L1131.7,584.2 L1132.2,584.2 L1132.7,584.2 L1133.2,584.2 L1133.7,584.2 L1134.2,584.2 L1134.7,584.2 L1135.2,584.2 L1135.7,584.2 L1136.2,584.2 L1136.7,584.2 L1137.2,584.2 L1137.7,584.2 L1138.2,584.2 L1138.7,584.2 L1139.2,584.2 L1139.7,584.2 L1140.2,584.2 L1140.7,584.2 L1141.2,584.2 L1141.7,584.2 L1142.2,584.2 L1142.7,584.2 L1143.2,584.2 L1143.7,584.2 L1144.2,584.2 L1144.7,584.2 L1145.2,584.2 L1145.7,584.2 L1146.2,584.2 L1146.7,584.2 L1147.2,584.2 L1147.7,584.2 L1148.2,584.2 L1148.7,584.2 L1149.2,584.2 L1149.7,584.2 L1150.2,584.2 L1150.7,584.2" fill="none" stroke="#111" stroke-width="1.25" stroke-linejoin="round"/>
<path d="M645.2,583.04 L645.7,582.66 L646.2,582.06 L646.7,581.08 L647.2,579.47 L647.7,576.91 L648.2,573.09 L648.7,567.83 L649.2,561.22 L649.7,553.79 L650.2,546.64 L650.7,541.45 L651.2,539.96 L651.7,542.78 L652.2,548.81 L652.7,556.21 L653.2,563.46 L653.7,569.67 L654.2,574.46 L654.7,577.84 L655.2,580.06 L655.7,581.44 L656.2,582.27 L656.7,582.78 L657.2,583.1" fill="none" stroke="#a020b0" stroke-width="1.4" stroke-linejoin="round"/>
<path d="M689.2,584.01 L689.7,583.94 L690.2,583.83 L690.7,583.65 L691.2,583.33 L691.7,582.83 L692.2,582.1 L692.7,581.11 L693.2,579.92 L693.7,578.69 L694.2,577.67 L694.7,577.2 L695.2,577.49 L695.7,578.41 L696.2,579.62 L696.7,580.84 L697.2,581.88 L697.7,582.67 L698.2,583.22 L698.7,583.57 L699.2,583.78 L699.7,583.89 L700.2,583.96" fill="none" stroke="#4a74a8" stroke-width="1.4" stroke-linejoin="round"/>
<path d="M586.2,651.7 L586.7,651.7 L587.2,651.7 L587.7,651.7 L588.2,651.7 L588.7,651.7 L589.2,651.7 L589.7,651.7 L590.2,651.7 L590.7,651.7 L591.2,651.7 L591.7,651.7 L592.2,651.7 L592.7,651.7 L593.2,651.7 L593.7,651.7 L594.2,651.7 L594.7,651.7 L595.2,651.7 L595.7,651.7 L596.2,651.7 L596.7,651.7 L597.2,651.7 L597.7,651.7 L598.2,651.7 L598.7,651.7 L599.2,651.7 L599.7,651.7 L600.2,651.7 L600.7,651.7 L601.2,651.7 L601.7,651.7 L602.2,651.7 L602.7,651.7 L603.2,651.7 L603.7,651.7 L604.2,651.7 L604.7,651.7 L605.2,651.7 L605.7,651.7 L606.2,651.7 L606.7,651.7 L607.2,651.7 L607.7,651.7 L608.2,651.7 L608.7,651.7 L609.2,651.7 L609.7,651.7 L610.2,651.7 L610.7,651.7 L611.2,651.7 L611.7,651.7 L612.2,651.7 L612.7,651.7 L613.2,651.7 L613.7,651.7 L614.2,651.7 L614.7,651.7 L615.2,651.7 L615.7,651.7 L616.2,651.7 L616.7,651.7 L617.2,651.7 L617.7,651.7 L618.2,651.7 L618.7,651.7 L619.2,651.69 L619.7,651.69 L620.2,651.69 L620.7,651.69 L621.2,651.69 L621.7,651.69 L622.2,651.69 L622.7,651.68 L623.2,651.68 L623.7,651.68 L624.2,651.67 L624.7,651.67 L625.2,651.66 L625.7,651.65 L626.2,651.63 L626.7,651.61 L627.2,651.58 L627.7,651.55 L628.2,651.5 L628.7,651.44 L629.2,651.36 L629.7,651.28 L630.2,651.19 L630.7,651.1 L631.2,651.02 L631.7,650.95 L632.2,650.91 L632.7,650.9 L633.2,650.93 L633.7,650.99 L634.2,651.07 L634.7,651.15 L635.2,651.24 L635.7,651.33 L636.2,651.41 L636.7,651.47 L637.2,651.53 L637.7,651.57 L638.2,651.6 L638.7,651.63 L639.2,651.64 L639.7,651.66 L640.2,651.67 L640.7,651.67 L641.2,651.68 L641.7,651.68 L642.2,651.68 L642.7,651.69 L643.2,651.69 L643.7,651.69 L644.2,651.69 L644.7,651.69 L645.2,651.69 L645.7,651.69 L646.2,651.69 L646.7,651.69 L647.2,651.69 L647.7,651.69 L648.2,651.69 L648.7,651.69 L649.2,651.69 L649.7,651.69 L650.2,651.69 L650.7,651.69 L651.2,651.69 L651.7,651.68 L652.2,651.68 L652.7,651.67 L653.2,651.66 L653.7,651.64 L654.2,651.6 L654.7,651.52 L655.2,651.4 L655.7,651.22 L656.2,650.99 L656.7,650.77 L657.2,650.64 L657.7,650.67 L658.2,650.83 L658.7,651.02 L659.2,651.17 L659.7,651.24 L660.2,651.22 L660.7,651.06 L661.2,650.71 L661.7,650.1 L662.2,649.14 L662.7,647.83 L663.2,646.27 L663.7,644.77 L664.2,643.81 L664.7,643.86 L665.2,644.89 L665.7,646.41 L666.2,647.96 L666.7,649.26 L667.2,650.19 L667.7,650.79 L668.2,651.14 L668.7,651.34 L669.2,651.45 L669.7,651.52 L670.2,651.56 L670.7,651.59 L671.2,651.62 L671.7,651.63 L672.2,651.65 L672.7,651.66 L673.2,651.67 L673.7,651.67 L674.2,651.68 L674.7,651.68 L675.2,651.69 L675.7,651.69 L676.2,651.69 L676.7,651.69 L677.2,651.7 L677.7,651.7 L678.2,651.7 L678.7,651.7 L679.2,651.7 L679.7,651.7 L680.2,651.7 L680.7,651.7 L681.2,651.7 L681.7,651.7 L682.2,651.7 L682.7,651.7 L683.2,651.7 L683.7,651.7 L684.2,651.7 L684.7,651.7 L685.2,651.7 L685.7,651.7 L686.2,651.7 L686.7,651.7 L687.2,651.7 L687.7,651.7 L688.2,651.7 L688.7,651.7 L689.2,651.7 L689.7,651.7 L690.2,651.7 L690.7,651.7 L691.2,651.7 L691.7,651.7 L692.2,651.7 L692.7,651.7 L693.2,651.7 L693.7,651.7 L694.2,651.7 L694.7,651.7 L695.2,651.7 L695.7,651.7 L696.2,651.7 L696.7,651.7 L697.2,651.69 L697.7,651.69 L698.2,651.69 L698.7,651.69 L699.2,651.68 L699.7,651.68 L700.2,651.67 L700.7,651.66 L701.2,651.65 L701.7,651.64 L702.2,651.62 L702.7,651.6 L703.2,651.57 L703.7,651.52 L704.2,651.45 L704.7,651.3 L705.2,651.04 L705.7,650.56 L706.2,649.79 L706.7,648.69 L707.2,647.35 L707.7,646.05 L708.2,645.26 L708.7,645.41 L709.2,646.4 L709.7,647.75 L710.2,649.04 L710.7,650.05 L711.2,650.73 L711.7,651.13 L712.2,651.35 L712.7,651.47 L713.2,651.54 L713.7,651.58 L714.2,651.61 L714.7,651.63 L715.2,651.65 L715.7,651.66 L716.2,651.67 L716.7,651.67 L717.2,651.68 L717.7,651.68 L718.2,651.69 L718.7,651.69 L719.2,651.69 L719.7,651.69 L720.2,651.7 L720.7,651.7 L721.2,651.7 L721.7,651.7 L722.2,651.7 L722.7,651.7 L723.2,651.7 L723.7,651.7 L724.2,651.7 L724.7,651.7 L725.2,651.7 L725.7,651.7 L726.2,651.7 L726.7,651.7 L727.2,651.7 L727.7,651.7 L728.2,651.69 L728.7,651.69 L729.2,651.69 L729.7,651.69 L730.2,651.69 L730.7,651.69 L731.2,651.69 L731.7,651.69 L732.2,651.68 L732.7,651.68 L733.2,651.67 L733.7,651.67 L734.2,651.66 L734.7,651.65 L735.2,651.63 L735.7,651.6 L736.2,651.57 L736.7,651.53 L737.2,651.48 L737.7,651.43 L738.2,651.36 L738.7,651.29 L739.2,651.23 L739.7,651.17 L740.2,651.12 L740.7,651.1 L741.2,651.11 L741.7,651.14 L742.2,651.18 L742.7,651.25 L743.2,651.31 L743.7,651.38 L744.2,651.44 L744.7,651.5 L745.2,651.55 L745.7,651.58 L746.2,651.61 L746.7,651.63 L747.2,651.65 L747.7,651.66 L748.2,651.67 L748.7,651.68 L749.2,651.68 L749.7,651.68 L750.2,651.69 L750.7,651.69 L751.2,651.69 L751.7,651.69 L752.2,651.69 L752.7,651.69 L753.2,651.69 L753.7,651.69 L754.2,651.7 L754.7,651.7 L755.2,651.7 L755.7,651.7 L756.2,651.7 L756.7,651.7 L757.2,651.7 L757.7,651.7 L758.2,651.7 L758.7,651.7 L759.2,651.7 L759.7,651.7 L760.2,651.7 L760.7,651.7 L761.2,651.7 L761.7,651.7 L762.2,651.7 L762.7,651.7 L763.2,651.69 L763.7,651.69 L764.2,651.69 L764.7,651.69 L765.2,651.69 L765.7,651.69 L766.2,651.68 L766.7,651.67 L767.2,651.66 L767.7,651.65 L768.2,651.62 L768.7,651.57 L769.2,651.51 L769.7,651.43 L770.2,651.33 L770.7,651.23 L771.2,651.14 L771.7,651.1 L772.2,651.12 L772.7,651.18 L773.2,651.28 L773.7,651.38 L774.2,651.47 L774.7,651.54 L775.2,651.6 L775.7,651.63 L776.2,651.66 L776.7,651.67 L777.2,651.68 L777.7,651.68 L778.2,651.69 L778.7,651.69 L779.2,651.69 L779.7,651.69 L780.2,651.69 L780.7,651.7 L781.2,651.7 L781.7,651.7 L782.2,651.7 L782.7,651.7 L783.2,651.7 L783.7,651.7 L784.2,651.7 L784.7,651.7 L785.2,651.7 L785.7,651.7 L786.2,651.7 L786.7,651.7 L787.2,651.7 L787.7,651.7 L788.2,651.7 L788.7,651.7 L789.2,651.7 L789.7,651.7 L790.2,651.7 L790.7,651.7 L791.2,651.7 L791.7,651.7 L792.2,651.7 L792.7,651.7 L793.2,651.7 L793.7,651.7 L794.2,651.7 L794.7,651.7 L795.2,651.7 L795.7,651.7 L796.2,651.7 L796.7,651.7 L797.2,651.7 L797.7,651.7 L798.2,651.7 L798.7,651.7 L799.2,651.7 L799.7,651.7 L800.2,651.7 L800.7,651.7 L801.2,651.7 L801.7,651.7 L802.2,651.7 L802.7,651.7 L803.2,651.7 L803.7,651.7 L804.2,651.7 L804.7,651.7 L805.2,651.7 L805.7,651.7 L806.2,651.7 L806.7,651.7 L807.2,651.7 L807.7,651.7 L808.2,651.7 L808.7,651.7 L809.2,651.7 L809.7,651.7 L810.2,651.7 L810.7,651.7 L811.2,651.7 L811.7,651.7 L812.2,651.7 L812.7,651.7 L813.2,651.7 L813.7,651.7 L814.2,651.7 L814.7,651.7 L815.2,651.7 L815.7,651.7 L816.2,651.7 L816.7,651.7 L817.2,651.7 L817.7,651.7 L818.2,651.7 L818.7,651.7 L819.2,651.7 L819.7,651.7 L820.2,651.7 L820.7,651.7 L821.2,651.7 L821.7,651.7 L822.2,651.7 L822.7,651.7 L823.2,651.7 L823.7,651.7 L824.2,651.7 L824.7,651.7 L825.2,651.7 L825.7,651.7 L826.2,651.7 L826.7,651.7 L827.2,651.7 L827.7,651.7 L828.2,651.7 L828.7,651.7 L829.2,651.7 L829.7,651.7 L830.2,651.7 L830.7,651.7 L831.2,651.7 L831.7,651.7 L832.2,651.7 L832.7,651.7 L833.2,651.7 L833.7,651.7 L834.2,651.7 L834.7,651.7 L835.2,651.7 L835.7,651.7 L836.2,651.7 L836.7,651.7 L837.2,651.7 L837.7,651.7 L838.2,651.7 L838.7,651.7 L839.2,651.7 L839.7,651.7 L840.2,651.7 L840.7,651.7 L841.2,651.7 L841.7,651.7 L842.2,651.7 L842.7,651.7 L843.2,651.7 L843.7,651.7 L844.2,651.7 L844.7,651.7 L845.2,651.7 L845.7,651.7 L846.2,651.7 L846.7,651.7 L847.2,651.7 L847.7,651.7 L848.2,651.7 L848.7,651.7 L849.2,651.7 L849.7,651.7 L850.2,651.7 L850.7,651.7 L851.2,651.7 L851.7,651.7 L852.2,651.7 L852.7,651.7 L853.2,651.7 L853.7,651.7 L854.2,651.7 L854.7,651.7 L855.2,651.7 L855.7,651.7 L856.2,651.7 L856.7,651.7 L857.2,651.7 L857.7,651.7 L858.2,651.7 L858.7,651.7 L859.2,651.7 L859.7,651.7 L860.2,651.7 L860.7,651.7 L861.2,651.7 L861.7,651.7 L862.2,651.7 L862.7,651.7 L863.2,651.7 L863.7,651.7 L864.2,651.7 L864.7,651.7 L865.2,651.7 L865.7,651.7 L866.2,651.7 L866.7,651.7 L867.2,651.7 L867.7,651.7 L868.2,651.7 L868.7,651.7 L869.2,651.7 L869.7,651.7 L870.2,651.7 L870.7,651.7 L871.2,651.7 L871.7,651.69 L872.2,651.69 L872.7,651.69 L873.2,651.69 L873.7,651.69 L874.2,651.69 L874.7,651.68 L875.2,651.68 L875.7,651.67 L876.2,651.67 L876.7,651.66 L877.2,651.65 L877.7,651.65 L878.2,651.63 L878.7,651.62 L879.2,651.6 L879.7,651.58 L880.2,651.54 L880.7,651.49 L881.2,651.41 L881.7,651.29 L882.2,651.09 L882.7,650.8 L883.2,650.38 L883.7,649.83 L884.2,649.15 L884.7,648.39 L885.2,647.64 L885.7,647.03 L886.2,646.72 L886.7,646.81 L887.2,647.27 L887.7,647.96 L888.2,648.73 L888.7,649.46 L889.2,650.09 L889.7,650.58 L890.2,650.94 L890.7,651.19 L891.2,651.35 L891.7,651.45 L892.2,651.52 L892.7,651.56 L893.2,651.59 L893.7,651.61 L894.2,651.63 L894.7,651.64 L895.2,651.65 L895.7,651.66 L896.2,651.67 L896.7,651.67 L897.2,651.68 L897.7,651.68 L898.2,651.68 L898.7,651.69 L899.2,651.69 L899.7,651.69 L900.2,651.69 L900.7,651.69 L901.2,651.69 L901.7,651.7 L902.2,651.7 L902.7,651.7 L903.2,651.7 L903.7,651.7 L904.2,651.7 L904.7,651.7 L905.2,651.7 L905.7,651.7 L906.2,651.7 L906.7,651.7 L907.2,651.7 L907.7,651.7 L908.2,651.7 L908.7,651.7 L909.2,651.7 L909.7,651.7 L910.2,651.7 L910.7,651.7 L911.2,651.7 L911.7,651.7 L912.2,651.7 L912.7,651.7 L913.2,651.7 L913.7,651.7 L914.2,651.7 L914.7,651.7 L915.2,651.7 L915.7,651.7 L916.2,651.7 L916.7,651.7 L917.2,651.7 L917.7,651.7 L918.2,651.7 L918.7,651.7 L919.2,651.7 L919.7,651.7 L920.2,651.7 L920.7,651.7 L921.2,651.7 L921.7,651.7 L922.2,651.7 L922.7,651.7 L923.2,651.7 L923.7,651.7 L924.2,651.7 L924.7,651.7 L925.2,651.7 L925.7,651.7 L926.2,651.7 L926.7,651.7 L927.2,651.7 L927.7,651.7 L928.2,651.7 L928.7,651.7 L929.2,651.7 L929.7,651.7 L930.2,651.7 L930.7,651.7 L931.2,651.7 L931.7,651.7 L932.2,651.7 L932.7,651.7 L933.2,651.7 L933.7,651.7 L934.2,651.7 L934.7,651.7 L935.2,651.7 L935.7,651.7 L936.2,651.7 L936.7,651.7 L937.2,651.7 L937.7,651.7 L938.2,651.7 L938.7,651.7 L939.2,651.7 L939.7,651.7 L940.2,651.7 L940.7,651.7 L941.2,651.7 L941.7,651.7 L942.2,651.7 L942.7,651.7 L943.2,651.7 L943.7,651.7 L944.2,651.7 L944.7,651.7 L945.2,651.7 L945.7,651.7 L946.2,651.7 L946.7,651.7 L947.2,651.7 L947.7,651.7 L948.2,651.7 L948.7,651.7 L949.2,651.7 L949.7,651.7 L950.2,651.7 L950.7,651.7 L951.2,651.7 L951.7,651.7 L952.2,651.7 L952.7,651.7 L953.2,651.7 L953.7,651.7 L954.2,651.7 L954.7,651.7 L955.2,651.7 L955.7,651.7 L956.2,651.7 L956.7,651.7 L957.2,651.7 L957.7,651.7 L958.2,651.7 L958.7,651.7 L959.2,651.7 L959.7,651.7 L960.2,651.7 L960.7,651.7 L961.2,651.7 L961.7,651.7 L962.2,651.7 L962.7,651.7 L963.2,651.7 L963.7,651.7 L964.2,651.7 L964.7,651.7 L965.2,651.7 L965.7,651.7 L966.2,651.7 L966.7,651.7 L967.2,651.7 L967.7,651.7 L968.2,651.7 L968.7,651.7 L969.2,651.7 L969.7,651.7 L970.2,651.7 L970.7,651.7 L971.2,651.7 L971.7,651.7 L972.2,651.7 L972.7,651.7 L973.2,651.7 L973.7,651.7 L974.2,651.7 L974.7,651.7 L975.2,651.7 L975.7,651.7 L976.2,651.7 L976.7,651.7 L977.2,651.7 L977.7,651.7 L978.2,651.7 L978.7,651.7 L979.2,651.7 L979.7,651.7 L980.2,651.7 L980.7,651.7 L981.2,651.7 L981.7,651.7 L982.2,651.7 L982.7,651.7 L983.2,651.7 L983.7,651.7 L984.2,651.7 L984.7,651.7 L985.2,651.7 L985.7,651.7 L986.2,651.7 L986.7,651.7 L987.2,651.7 L987.7,651.7 L988.2,651.7 L988.7,651.7 L989.2,651.7 L989.7,651.7 L990.2,651.7 L990.7,651.7 L991.2,651.7 L991.7,651.7 L992.2,651.7 L992.7,651.7 L993.2,651.7 L993.7,651.7 L994.2,651.7 L994.7,651.7 L995.2,651.7 L995.7,651.7 L996.2,651.7 L996.7,651.7 L997.2,651.7 L997.7,651.7 L998.2,651.7 L998.7,651.7 L999.2,651.7 L999.7,651.7 L1000.2,651.7 L1000.7,651.7 L1001.2,651.7 L1001.7,651.7 L1002.2,651.7 L1002.7,651.7 L1003.2,651.7 L1003.7,651.7 L1004.2,651.7 L1004.7,651.7 L1005.2,651.7 L1005.7,651.7 L1006.2,651.7 L1006.7,651.7 L1007.2,651.7 L1007.7,651.7 L1008.2,651.7 L1008.7,651.7 L1009.2,651.7 L1009.7,651.7 L1010.2,651.7 L1010.7,651.7 L1011.2,651.7 L1011.7,651.7 L1012.2,651.7 L1012.7,651.7 L1013.2,651.7 L1013.7,651.7 L1014.2,651.7 L1014.7,651.7 L1015.2,651.7 L1015.7,651.7 L1016.2,651.7 L1016.7,651.7 L1017.2,651.7 L1017.7,651.7 L1018.2,651.7 L1018.7,651.7 L1019.2,651.7 L1019.7,651.7 L1020.2,651.7 L1020.7,651.7 L1021.2,651.7 L1021.7,651.7 L1022.2,651.7 L1022.7,651.7 L1023.2,651.7 L1023.7,651.7 L1024.2,651.7 L1024.7,651.7 L1025.2,651.7 L1025.7,651.7 L1026.2,651.7 L1026.7,651.7 L1027.2,651.7 L1027.7,651.7 L1028.2,651.7 L1028.7,651.7 L1029.2,651.7 L1029.7,651.7 L1030.2,651.7 L1030.7,651.7 L1031.2,651.7 L1031.7,651.7 L1032.2,651.7 L1032.7,651.7 L1033.2,651.7 L1033.7,651.7 L1034.2,651.7 L1034.7,651.7 L1035.2,651.7 L1035.7,651.7 L1036.2,651.7 L1036.7,651.7 L1037.2,651.7 L1037.7,651.7 L1038.2,651.7 L1038.7,651.7 L1039.2,651.7 L1039.7,651.7 L1040.2,651.7 L1040.7,651.7 L1041.2,651.7 L1041.7,651.7 L1042.2,651.7 L1042.7,651.7 L1043.2,651.7 L1043.7,651.7 L1044.2,651.7 L1044.7,651.7 L1045.2,651.7 L1045.7,651.7 L1046.2,651.7 L1046.7,651.7 L1047.2,651.7 L1047.7,651.7 L1048.2,651.7 L1048.7,651.7 L1049.2,651.7 L1049.7,651.7 L1050.2,651.7 L1050.7,651.7 L1051.2,651.7 L1051.7,651.7 L1052.2,651.7 L1052.7,651.7 L1053.2,651.7 L1053.7,651.7 L1054.2,651.7 L1054.7,651.7 L1055.2,651.7 L1055.7,651.7 L1056.2,651.7 L1056.7,651.7 L1057.2,651.7 L1057.7,651.7 L1058.2,651.7 L1058.7,651.7 L1059.2,651.7 L1059.7,651.7 L1060.2,651.7 L1060.7,651.7 L1061.2,651.7 L1061.7,651.7 L1062.2,651.7 L1062.7,651.7 L1063.2,651.7 L1063.7,651.7 L1064.2,651.7 L1064.7,651.7 L1065.2,651.7 L1065.7,651.7 L1066.2,651.7 L1066.7,651.7 L1067.2,651.7 L1067.7,651.7 L1068.2,651.7 L1068.7,651.7 L1069.2,651.7 L1069.7,651.7 L1070.2,651.7 L1070.7,651.7 L1071.2,651.7 L1071.7,651.7 L1072.2,651.7 L1072.7,651.7 L1073.2,651.7 L1073.7,651.7 L1074.2,651.7 L1074.7,651.7 L1075.2,651.7 L1075.7,651.7 L1076.2,651.7 L1076.7,651.7 L1077.2,651.7 L1077.7,651.7 L1078.2,651.7 L1078.7,651.7 L1079.2,651.7 L1079.7,651.7 L1080.2,651.7 L1080.7,651.7 L1081.2,651.7 L1081.7,651.7 L1082.2,651.7 L1082.7,651.7 L1083.2,651.7 L1083.7,651.7 L1084.2,651.7 L1084.7,651.7 L1085.2,651.7 L1085.7,651.7 L1086.2,651.7 L1086.7,651.7 L1087.2,651.7 L1087.7,651.7 L1088.2,651.7 L1088.7,651.7 L1089.2,651.7 L1089.7,651.7 L1090.2,651.7 L1090.7,651.7 L1091.2,651.7 L1091.7,651.7 L1092.2,651.7 L1092.7,651.7 L1093.2,651.7 L1093.7,651.7 L1094.2,651.7 L1094.7,651.7 L1095.2,651.7 L1095.7,651.7 L1096.2,651.7 L1096.7,651.7 L1097.2,651.7 L1097.7,651.7 L1098.2,651.7 L1098.7,651.7 L1099.2,651.7 L1099.7,651.7 L1100.2,651.7 L1100.7,651.7 L1101.2,651.7 L1101.7,651.7 L1102.2,651.7 L1102.7,651.7 L1103.2,651.7 L1103.7,651.7 L1104.2,651.7 L1104.7,651.7 L1105.2,651.7 L1105.7,651.7 L1106.2,651.7 L1106.7,651.7 L1107.2,651.7 L1107.7,651.7 L1108.2,651.7 L1108.7,651.7 L1109.2,651.7 L1109.7,651.7 L1110.2,651.7 L1110.7,651.7 L1111.2,651.7 L1111.7,651.7 L1112.2,651.7 L1112.7,651.7 L1113.2,651.7 L1113.7,651.7 L1114.2,651.7 L1114.7,651.7 L1115.2,651.7 L1115.7,651.7 L1116.2,651.7 L1116.7,651.7 L1117.2,651.7 L1117.7,651.7 L1118.2,651.7 L1118.7,651.7 L1119.2,651.7 L1119.7,651.7 L1120.2,651.7 L1120.7,651.7 L1121.2,651.7 L1121.7,651.7 L1122.2,651.7 L1122.7,651.7 L1123.2,651.7 L1123.7,651.7 L1124.2,651.7 L1124.7,651.7 L1125.2,651.7 L1125.7,651.7 L1126.2,651.7 L1126.7,651.7 L1127.2,651.7 L1127.7,651.7 L1128.2,651.7 L1128.7,651.7 L1129.2,651.7 L1129.7,651.7 L1130.2,651.7 L1130.7,651.7 L1131.2,651.7 L1131.7,651.7 L1132.2,651.7 L1132.7,651.7 L1133.2,651.7 L1133.7,651.7 L1134.2,651.7 L1134.7,651.7 L1135.2,651.7 L1135.7,651.7 L1136.2,651.7 L1136.7,651.7 L1137.2,651.7 L1137.7,651.7 L1138.2,651.7 L1138.7,651.7 L1139.2,651.7 L1139.7,651.7 L1140.2,651.7 L1140.7,651.7 L1141.2,651.7 L1141.7,651.7 L1142.2,651.7 L1142.7,651.7 L1143.2,651.7 L1143.7,651.7 L1144.2,651.7 L1144.7,651.7 L1145.2,651.7 L1145.7,651.7 L1146.2,651.7 L1146.7,651.7 L1147.2,651.7 L1147.7,651.7 L1148.2,651.7 L1148.7,651.7 L1149.2,651.7 L1149.7,651.7 L1150.2,651.7 L1150.7,651.7" fill="none" stroke="#111" stroke-width="1.25" stroke-linejoin="round"/>
<path d="M586.2,718.8 L586.7,718.8 L587.2,718.8 L587.7,718.8 L588.2,718.8 L588.7,718.8 L589.2,718.8 L589.7,718.8 L590.2,718.8 L590.7,718.8 L591.2,718.8 L591.7,718.8 L592.2,718.8 L592.7,718.8 L593.2,718.8 L593.7,718.8 L594.2,718.8 L594.7,718.8 L595.2,718.8 L595.7,718.8 L596.2,718.8 L596.7,718.8 L597.2,718.8 L597.7,718.8 L598.2,718.8 L598.7,718.8 L599.2,718.8 L599.7,718.8 L600.2,718.8 L600.7,718.8 L601.2,718.8 L601.7,718.8 L602.2,718.8 L602.7,718.8 L603.2,718.8 L603.7,718.8 L604.2,718.8 L604.7,718.8 L605.2,718.8 L605.7,718.8 L606.2,718.8 L606.7,718.8 L607.2,718.8 L607.7,718.8 L608.2,718.8 L608.7,718.8 L609.2,718.8 L609.7,718.8 L610.2,718.8 L610.7,718.8 L611.2,718.8 L611.7,718.8 L612.2,718.8 L612.7,718.8 L613.2,718.8 L613.7,718.8 L614.2,718.8 L614.7,718.8 L615.2,718.8 L615.7,718.8 L616.2,718.8 L616.7,718.8 L617.2,718.8 L617.7,718.8 L618.2,718.8 L618.7,718.8 L619.2,718.79 L619.7,718.79 L620.2,718.79 L620.7,718.79 L621.2,718.79 L621.7,718.79 L622.2,718.79 L622.7,718.78 L623.2,718.78 L623.7,718.78 L624.2,718.77 L624.7,718.77 L625.2,718.76 L625.7,718.75 L626.2,718.73 L626.7,718.71 L627.2,718.68 L627.7,718.65 L628.2,718.6 L628.7,718.54 L629.2,718.46 L629.7,718.38 L630.2,718.29 L630.7,718.2 L631.2,718.12 L631.7,718.05 L632.2,718.01 L632.7,718 L633.2,718.02 L633.7,718.08 L634.2,718.16 L634.7,718.24 L635.2,718.33 L635.7,718.41 L636.2,718.48 L636.7,718.54 L637.2,718.59 L637.7,718.62 L638.2,718.64 L638.7,718.65 L639.2,718.66 L639.7,718.65 L640.2,718.63 L640.7,718.61 L641.2,718.57 L641.7,718.53 L642.2,718.48 L642.7,718.41 L643.2,718.33 L643.7,718.22 L644.2,718.09 L644.7,717.91 L645.2,717.67 L645.7,717.3 L646.2,716.72 L646.7,715.76 L647.2,714.18 L647.7,711.69 L648.2,707.97 L648.7,702.84 L649.2,696.39 L649.7,689.15 L650.2,682.18 L650.7,677.11 L651.2,675.65 L651.7,678.41 L652.2,684.29 L652.7,691.5 L653.2,698.58 L653.7,704.63 L654.2,709.3 L654.7,712.6 L655.2,714.76 L655.7,716.11 L656.2,716.92 L656.7,717.42 L657.2,717.73 L657.7,717.94 L658.2,718.09 L658.7,718.2 L659.2,718.27 L659.7,718.32 L660.2,718.32 L660.7,718.27 L661.2,718.13 L661.7,717.81 L662.2,717.28 L662.7,716.48 L663.2,715.48 L663.7,714.48 L664.2,713.83 L664.7,713.87 L665.2,714.59 L665.7,715.63 L666.2,716.64 L666.7,717.44 L667.2,717.99 L667.7,718.33 L668.2,718.51 L668.7,718.61 L669.2,718.67 L669.7,718.7 L670.2,718.73 L670.7,718.74 L671.2,718.76 L671.7,718.77 L672.2,718.77 L672.7,718.78 L673.2,718.78 L673.7,718.79 L674.2,718.79 L674.7,718.79 L675.2,718.79 L675.7,718.8 L676.2,718.8 L676.7,718.8 L677.2,718.8 L677.7,718.8 L678.2,718.8 L678.7,718.8 L679.2,718.8 L679.7,718.8 L680.2,718.8 L680.7,718.79 L681.2,718.79 L681.7,718.79 L682.2,718.79 L682.7,718.79 L683.2,718.78 L683.7,718.78 L684.2,718.77 L684.7,718.77 L685.2,718.76 L685.7,718.75 L686.2,718.74 L686.7,718.72 L687.2,718.71 L687.7,718.68 L688.2,718.65 L688.7,718.61 L689.2,718.56 L689.7,718.47 L690.2,718.33 L690.7,718.09 L691.2,717.68 L691.7,717.04 L692.2,716.1 L692.7,714.83 L693.2,713.3 L693.7,711.71 L694.2,710.4 L694.7,709.81 L695.2,710.18 L695.7,711.36 L696.2,712.91 L696.7,714.48 L697.2,715.82 L697.7,716.84 L698.2,717.54 L698.7,717.99 L699.2,718.26 L699.7,718.41 L700.2,718.5 L700.7,718.55 L701.2,718.57 L701.7,718.58 L702.2,718.58 L702.7,718.56 L703.2,718.52 L703.7,718.46 L704.2,718.35 L704.7,718.13 L705.2,717.71 L705.7,716.9 L706.2,715.48 L706.7,713.31 L707.2,710.53 L707.7,707.71 L708.2,705.94 L708.7,706.27 L709.2,708.48 L709.7,711.39 L710.2,714.03 L710.7,715.98 L711.2,717.21 L711.7,717.89 L712.2,718.25 L712.7,718.43 L713.2,718.54 L713.7,718.6 L714.2,718.65 L714.7,718.69 L715.2,718.71 L715.7,718.73 L716.2,718.75 L716.7,718.76 L717.2,718.77 L717.7,718.78 L718.2,718.78 L718.7,718.79 L719.2,718.79 L719.7,718.79 L720.2,718.79 L720.7,718.8 L721.2,718.8 L721.7,718.8 L722.2,718.8 L722.7,718.8 L723.2,718.8 L723.7,718.8 L724.2,718.8 L724.7,718.8 L725.2,718.8 L725.7,718.8 L726.2,718.8 L726.7,718.8 L727.2,718.8 L727.7,718.8 L728.2,718.79 L728.7,718.79 L729.2,718.79 L729.7,718.79 L730.2,718.79 L730.7,718.79 L731.2,718.79 L731.7,718.79 L732.2,718.78 L732.7,718.78 L733.2,718.77 L733.7,718.77 L734.2,718.76 L734.7,718.75 L735.2,718.73 L735.7,718.7 L736.2,718.67 L736.7,718.63 L737.2,718.58 L737.7,718.53 L738.2,718.46 L738.7,718.39 L739.2,718.33 L739.7,718.27 L740.2,718.22 L740.7,718.2 L741.2,718.21 L741.7,718.24 L742.2,718.28 L742.7,718.35 L743.2,718.41 L743.7,718.48 L744.2,718.54 L744.7,718.6 L745.2,718.65 L745.7,718.68 L746.2,718.71 L746.7,718.73 L747.2,718.75 L747.7,718.76 L748.2,718.77 L748.7,718.78 L749.2,718.78 L749.7,718.78 L750.2,718.79 L750.7,718.79 L751.2,718.79 L751.7,718.79 L752.2,718.79 L752.7,718.79 L753.2,718.79 L753.7,718.79 L754.2,718.8 L754.7,718.8 L755.2,718.8 L755.7,718.8 L756.2,718.8 L756.7,718.8 L757.2,718.8 L757.7,718.8 L758.2,718.8 L758.7,718.8 L759.2,718.8 L759.7,718.8 L760.2,718.8 L760.7,718.79 L761.2,718.79 L761.7,718.79 L762.2,718.79 L762.7,718.79 L763.2,718.79 L763.7,718.78 L764.2,718.78 L764.7,718.78 L765.2,718.77 L765.7,718.76 L766.2,718.75 L766.7,718.73 L767.2,718.7 L767.7,718.66 L768.2,718.58 L768.7,718.46 L769.2,718.29 L769.7,718.07 L770.2,717.81 L770.7,717.54 L771.2,717.32 L771.7,717.21 L772.2,717.24 L772.7,717.42 L773.2,717.68 L773.7,717.95 L774.2,718.19 L774.7,718.38 L775.2,718.53 L775.7,718.62 L776.2,718.68 L776.7,718.72 L777.2,718.74 L777.7,718.76 L778.2,718.77 L778.7,718.77 L779.2,718.78 L779.7,718.78 L780.2,718.79 L780.7,718.79 L781.2,718.79 L781.7,718.79 L782.2,718.79 L782.7,718.79 L783.2,718.8 L783.7,718.8 L784.2,718.8 L784.7,718.8 L785.2,718.8 L785.7,718.8 L786.2,718.8 L786.7,718.8 L787.2,718.8 L787.7,718.8 L788.2,718.8 L788.7,718.8 L789.2,718.8 L789.7,718.8 L790.2,718.8 L790.7,718.8 L791.2,718.8 L791.7,718.8 L792.2,718.8 L792.7,718.8 L793.2,718.8 L793.7,718.8 L794.2,718.8 L794.7,718.8 L795.2,718.8 L795.7,718.8 L796.2,718.8 L796.7,718.8 L797.2,718.8 L797.7,718.8 L798.2,718.8 L798.7,718.8 L799.2,718.8 L799.7,718.8 L800.2,718.8 L800.7,718.8 L801.2,718.8 L801.7,718.8 L802.2,718.8 L802.7,718.8 L803.2,718.8 L803.7,718.8 L804.2,718.8 L804.7,718.8 L805.2,718.8 L805.7,718.8 L806.2,718.8 L806.7,718.8 L807.2,718.8 L807.7,718.8 L808.2,718.8 L808.7,718.8 L809.2,718.8 L809.7,718.8 L810.2,718.8 L810.7,718.8 L811.2,718.8 L811.7,718.8 L812.2,718.8 L812.7,718.8 L813.2,718.8 L813.7,718.8 L814.2,718.8 L814.7,718.8 L815.2,718.8 L815.7,718.8 L816.2,718.8 L816.7,718.8 L817.2,718.8 L817.7,718.8 L818.2,718.8 L818.7,718.8 L819.2,718.8 L819.7,718.8 L820.2,718.8 L820.7,718.8 L821.2,718.8 L821.7,718.8 L822.2,718.8 L822.7,718.8 L823.2,718.8 L823.7,718.8 L824.2,718.8 L824.7,718.8 L825.2,718.8 L825.7,718.8 L826.2,718.8 L826.7,718.8 L827.2,718.8 L827.7,718.8 L828.2,718.8 L828.7,718.8 L829.2,718.8 L829.7,718.8 L830.2,718.8 L830.7,718.8 L831.2,718.8 L831.7,718.8 L832.2,718.8 L832.7,718.8 L833.2,718.8 L833.7,718.8 L834.2,718.8 L834.7,718.8 L835.2,718.8 L835.7,718.8 L836.2,718.8 L836.7,718.8 L837.2,718.8 L837.7,718.8 L838.2,718.8 L838.7,718.8 L839.2,718.8 L839.7,718.8 L840.2,718.8 L840.7,718.8 L841.2,718.8 L841.7,718.8 L842.2,718.8 L842.7,718.8 L843.2,718.8 L843.7,718.8 L844.2,718.8 L844.7,718.8 L845.2,718.8 L845.7,718.8 L846.2,718.8 L846.7,718.8 L847.2,718.8 L847.7,718.8 L848.2,718.8 L848.7,718.8 L849.2,718.8 L849.7,718.8 L850.2,718.8 L850.7,718.8 L851.2,718.8 L851.7,718.8 L852.2,718.8 L852.7,718.8 L853.2,718.8 L853.7,718.8 L854.2,718.8 L854.7,718.8 L855.2,718.8 L855.7,718.8 L856.2,718.8 L856.7,718.8 L857.2,718.8 L857.7,718.8 L858.2,718.8 L858.7,718.8 L859.2,718.8 L859.7,718.8 L860.2,718.8 L860.7,718.8 L861.2,718.8 L861.7,718.8 L862.2,718.8 L862.7,718.8 L863.2,718.8 L863.7,718.8 L864.2,718.8 L864.7,718.8 L865.2,718.8 L865.7,718.8 L866.2,718.8 L866.7,718.79 L867.2,718.79 L867.7,718.79 L868.2,718.79 L868.7,718.79 L869.2,718.78 L869.7,718.78 L870.2,718.78 L870.7,718.77 L871.2,718.77 L871.7,718.76 L872.2,718.75 L872.7,718.74 L873.2,718.73 L873.7,718.71 L874.2,718.7 L874.7,718.67 L875.2,718.64 L875.7,718.59 L876.2,718.52 L876.7,718.41 L877.2,718.24 L877.7,717.97 L878.2,717.58 L878.7,717.03 L879.2,716.32 L879.7,715.47 L880.2,714.54 L880.7,713.67 L881.2,713.01 L881.7,712.77 L882.2,713 L882.7,713.65 L883.2,714.51 L883.7,715.41 L884.2,716.22 L884.7,716.88 L885.2,717.35 L885.7,717.61 L886.2,717.67 L886.7,717.55 L887.2,717.26 L887.7,716.86 L888.2,716.4 L888.7,715.98 L889.2,715.73 L889.7,715.76 L890.2,716.06 L890.7,716.53 L891.2,717.04 L891.7,717.52 L892.2,717.92 L892.7,718.21 L893.2,718.41 L893.7,718.54 L894.2,718.62 L894.7,718.67 L895.2,718.7 L895.7,718.73 L896.2,718.74 L896.7,718.75 L897.2,718.76 L897.7,718.77 L898.2,718.77 L898.7,718.78 L899.2,718.78 L899.7,718.79 L900.2,718.79 L900.7,718.79 L901.2,718.79 L901.7,718.79 L902.2,718.8 L902.7,718.8 L903.2,718.8 L903.7,718.8 L904.2,718.8 L904.7,718.8 L905.2,718.8 L905.7,718.8 L906.2,718.8 L906.7,718.8 L907.2,718.8 L907.7,718.8 L908.2,718.8 L908.7,718.8 L909.2,718.8 L909.7,718.8 L910.2,718.8 L910.7,718.8 L911.2,718.8 L911.7,718.8 L912.2,718.8 L912.7,718.8 L913.2,718.8 L913.7,718.8 L914.2,718.8 L914.7,718.8 L915.2,718.8 L915.7,718.8 L916.2,718.8 L916.7,718.8 L917.2,718.8 L917.7,718.8 L918.2,718.8 L918.7,718.8 L919.2,718.8 L919.7,718.8 L920.2,718.8 L920.7,718.8 L921.2,718.8 L921.7,718.8 L922.2,718.8 L922.7,718.8 L923.2,718.8 L923.7,718.8 L924.2,718.8 L924.7,718.8 L925.2,718.8 L925.7,718.8 L926.2,718.8 L926.7,718.8 L927.2,718.8 L927.7,718.8 L928.2,718.8 L928.7,718.8 L929.2,718.8 L929.7,718.8 L930.2,718.8 L930.7,718.8 L931.2,718.8 L931.7,718.8 L932.2,718.8 L932.7,718.8 L933.2,718.8 L933.7,718.8 L934.2,718.8 L934.7,718.8 L935.2,718.8 L935.7,718.8 L936.2,718.8 L936.7,718.8 L937.2,718.8 L937.7,718.8 L938.2,718.8 L938.7,718.8 L939.2,718.8 L939.7,718.8 L940.2,718.8 L940.7,718.8 L941.2,718.8 L941.7,718.8 L942.2,718.8 L942.7,718.8 L943.2,718.8 L943.7,718.8 L944.2,718.8 L944.7,718.8 L945.2,718.8 L945.7,718.8 L946.2,718.8 L946.7,718.8 L947.2,718.8 L947.7,718.8 L948.2,718.8 L948.7,718.8 L949.2,718.8 L949.7,718.8 L950.2,718.8 L950.7,718.8 L951.2,718.8 L951.7,718.8 L952.2,718.8 L952.7,718.8 L953.2,718.8 L953.7,718.8 L954.2,718.8 L954.7,718.8 L955.2,718.8 L955.7,718.8 L956.2,718.8 L956.7,718.8 L957.2,718.8 L957.7,718.8 L958.2,718.8 L958.7,718.8 L959.2,718.8 L959.7,718.8 L960.2,718.8 L960.7,718.8 L961.2,718.8 L961.7,718.8 L962.2,718.8 L962.7,718.8 L963.2,718.8 L963.7,718.8 L964.2,718.8 L964.7,718.8 L965.2,718.8 L965.7,718.8 L966.2,718.8 L966.7,718.8 L967.2,718.8 L967.7,718.8 L968.2,718.8 L968.7,718.8 L969.2,718.8 L969.7,718.8 L970.2,718.8 L970.7,718.8 L971.2,718.8 L971.7,718.8 L972.2,718.8 L972.7,718.8 L973.2,718.8 L973.7,718.8 L974.2,718.8 L974.7,718.8 L975.2,718.8 L975.7,718.8 L976.2,718.8 L976.7,718.8 L977.2,718.8 L977.7,718.8 L978.2,718.8 L978.7,718.8 L979.2,718.8 L979.7,718.8 L980.2,718.8 L980.7,718.8 L981.2,718.8 L981.7,718.8 L982.2,718.8 L982.7,718.8 L983.2,718.8 L983.7,718.8 L984.2,718.8 L984.7,718.8 L985.2,718.8 L985.7,718.8 L986.2,718.8 L986.7,718.8 L987.2,718.8 L987.7,718.8 L988.2,718.8 L988.7,718.8 L989.2,718.8 L989.7,718.8 L990.2,718.8 L990.7,718.8 L991.2,718.8 L991.7,718.8 L992.2,718.8 L992.7,718.8 L993.2,718.8 L993.7,718.8 L994.2,718.8 L994.7,718.8 L995.2,718.8 L995.7,718.8 L996.2,718.8 L996.7,718.8 L997.2,718.8 L997.7,718.8 L998.2,718.8 L998.7,718.8 L999.2,718.8 L999.7,718.8 L1000.2,718.8 L1000.7,718.8 L1001.2,718.8 L1001.7,718.8 L1002.2,718.8 L1002.7,718.8 L1003.2,718.8 L1003.7,718.8 L1004.2,718.8 L1004.7,718.8 L1005.2,718.8 L1005.7,718.8 L1006.2,718.8 L1006.7,718.8 L1007.2,718.8 L1007.7,718.8 L1008.2,718.8 L1008.7,718.8 L1009.2,718.8 L1009.7,718.8 L1010.2,718.8 L1010.7,718.8 L1011.2,718.8 L1011.7,718.8 L1012.2,718.8 L1012.7,718.8 L1013.2,718.8 L1013.7,718.8 L1014.2,718.8 L1014.7,718.8 L1015.2,718.8 L1015.7,718.8 L1016.2,718.8 L1016.7,718.8 L1017.2,718.8 L1017.7,718.8 L1018.2,718.8 L1018.7,718.8 L1019.2,718.8 L1019.7,718.8 L1020.2,718.8 L1020.7,718.8 L1021.2,718.8 L1021.7,718.8 L1022.2,718.8 L1022.7,718.8 L1023.2,718.8 L1023.7,718.8 L1024.2,718.8 L1024.7,718.8 L1025.2,718.8 L1025.7,718.8 L1026.2,718.8 L1026.7,718.8 L1027.2,718.8 L1027.7,718.8 L1028.2,718.8 L1028.7,718.8 L1029.2,718.8 L1029.7,718.8 L1030.2,718.8 L1030.7,718.8 L1031.2,718.8 L1031.7,718.8 L1032.2,718.8 L1032.7,718.8 L1033.2,718.8 L1033.7,718.8 L1034.2,718.8 L1034.7,718.8 L1035.2,718.8 L1035.7,718.8 L1036.2,718.8 L1036.7,718.8 L1037.2,718.8 L1037.7,718.8 L1038.2,718.8 L1038.7,718.8 L1039.2,718.8 L1039.7,718.8 L1040.2,718.8 L1040.7,718.8 L1041.2,718.8 L1041.7,718.8 L1042.2,718.8 L1042.7,718.8 L1043.2,718.8 L1043.7,718.8 L1044.2,718.8 L1044.7,718.8 L1045.2,718.8 L1045.7,718.8 L1046.2,718.8 L1046.7,718.8 L1047.2,718.8 L1047.7,718.8 L1048.2,718.8 L1048.7,718.8 L1049.2,718.8 L1049.7,718.8 L1050.2,718.8 L1050.7,718.8 L1051.2,718.8 L1051.7,718.8 L1052.2,718.8 L1052.7,718.8 L1053.2,718.8 L1053.7,718.8 L1054.2,718.8 L1054.7,718.8 L1055.2,718.8 L1055.7,718.8 L1056.2,718.8 L1056.7,718.8 L1057.2,718.8 L1057.7,718.8 L1058.2,718.8 L1058.7,718.8 L1059.2,718.8 L1059.7,718.8 L1060.2,718.8 L1060.7,718.8 L1061.2,718.8 L1061.7,718.8 L1062.2,718.8 L1062.7,718.8 L1063.2,718.8 L1063.7,718.8 L1064.2,718.8 L1064.7,718.8 L1065.2,718.8 L1065.7,718.8 L1066.2,718.8 L1066.7,718.8 L1067.2,718.8 L1067.7,718.8 L1068.2,718.8 L1068.7,718.8 L1069.2,718.8 L1069.7,718.8 L1070.2,718.8 L1070.7,718.8 L1071.2,718.8 L1071.7,718.8 L1072.2,718.8 L1072.7,718.8 L1073.2,718.8 L1073.7,718.8 L1074.2,718.8 L1074.7,718.8 L1075.2,718.8 L1075.7,718.8 L1076.2,718.8 L1076.7,718.8 L1077.2,718.8 L1077.7,718.8 L1078.2,718.8 L1078.7,718.8 L1079.2,718.8 L1079.7,718.8 L1080.2,718.8 L1080.7,718.8 L1081.2,718.8 L1081.7,718.8 L1082.2,718.8 L1082.7,718.8 L1083.2,718.8 L1083.7,718.8 L1084.2,718.8 L1084.7,718.8 L1085.2,718.8 L1085.7,718.8 L1086.2,718.8 L1086.7,718.8 L1087.2,718.8 L1087.7,718.8 L1088.2,718.8 L1088.7,718.8 L1089.2,718.8 L1089.7,718.8 L1090.2,718.8 L1090.7,718.8 L1091.2,718.8 L1091.7,718.8 L1092.2,718.8 L1092.7,718.8 L1093.2,718.8 L1093.7,718.8 L1094.2,718.8 L1094.7,718.8 L1095.2,718.8 L1095.7,718.8 L1096.2,718.8 L1096.7,718.8 L1097.2,718.8 L1097.7,718.8 L1098.2,718.8 L1098.7,718.8 L1099.2,718.8 L1099.7,718.8 L1100.2,718.8 L1100.7,718.8 L1101.2,718.8 L1101.7,718.8 L1102.2,718.8 L1102.7,718.8 L1103.2,718.8 L1103.7,718.8 L1104.2,718.8 L1104.7,718.8 L1105.2,718.8 L1105.7,718.8 L1106.2,718.8 L1106.7,718.8 L1107.2,718.8 L1107.7,718.8 L1108.2,718.8 L1108.7,718.8 L1109.2,718.8 L1109.7,718.8 L1110.2,718.8 L1110.7,718.8 L1111.2,718.8 L1111.7,718.8 L1112.2,718.8 L1112.7,718.8 L1113.2,718.8 L1113.7,718.8 L1114.2,718.8 L1114.7,718.8 L1115.2,718.8 L1115.7,718.8 L1116.2,718.8 L1116.7,718.8 L1117.2,718.8 L1117.7,718.8 L1118.2,718.8 L1118.7,718.8 L1119.2,718.8 L1119.7,718.8 L1120.2,718.8 L1120.7,718.8 L1121.2,718.8 L1121.7,718.8 L1122.2,718.8 L1122.7,718.8 L1123.2,718.8 L1123.7,718.8 L1124.2,718.8 L1124.7,718.8 L1125.2,718.8 L1125.7,718.8 L1126.2,718.8 L1126.7,718.8 L1127.2,718.8 L1127.7,718.8 L1128.2,718.8 L1128.7,718.8 L1129.2,718.8 L1129.7,718.8 L1130.2,718.8 L1130.7,718.8 L1131.2,718.8 L1131.7,718.8 L1132.2,718.8 L1132.7,718.8 L1133.2,718.8 L1133.7,718.8 L1134.2,718.8 L1134.7,718.8 L1135.2,718.8 L1135.7,718.8 L1136.2,718.8 L1136.7,718.8 L1137.2,718.8 L1137.7,718.8 L1138.2,718.8 L1138.7,718.8 L1139.2,718.8 L1139.7,718.8 L1140.2,718.8 L1140.7,718.8 L1141.2,718.8 L1141.7,718.8 L1142.2,718.8 L1142.7,718.8 L1143.2,718.8 L1143.7,718.8 L1144.2,718.8 L1144.7,718.8 L1145.2,718.8 L1145.7,718.8 L1146.2,718.8 L1146.7,718.8 L1147.2,718.8 L1147.7,718.8 L1148.2,718.8 L1148.7,718.8 L1149.2,718.8 L1149.7,718.8 L1150.2,718.8 L1150.7,718.8" fill="none" stroke="#111" stroke-width="1.25" stroke-linejoin="round"/>
<path d="M645.2,717.67 L645.7,717.3 L646.2,716.72 L646.7,715.76 L647.2,714.18 L647.7,711.69 L648.2,707.97 L648.7,702.84 L649.2,696.39 L649.7,689.15 L650.2,682.18 L650.7,677.11 L651.2,675.65 L651.7,678.41 L652.2,684.29 L652.7,691.5 L653.2,698.58 L653.7,704.63 L654.2,709.3 L654.7,712.6 L655.2,714.76 L655.7,716.11 L656.2,716.92 L656.7,717.42 L657.2,717.73" fill="none" stroke="#a020b0" stroke-width="1.4" stroke-linejoin="round"/>
<path d="M689.2,718.56 L689.7,718.47 L690.2,718.33 L690.7,718.09 L691.2,717.68 L691.7,717.04 L692.2,716.1 L692.7,714.83 L693.2,713.3 L693.7,711.71 L694.2,710.4 L694.7,709.81 L695.2,710.18 L695.7,711.36 L696.2,712.91 L696.7,714.48 L697.2,715.82 L697.7,716.84 L698.2,717.54 L698.7,717.99 L699.2,718.26 L699.7,718.41 L700.2,718.5" fill="none" stroke="#4a74a8" stroke-width="1.4" stroke-linejoin="round"/>
<path d="M586.2,786.8 L586.7,786.8 L587.2,786.8 L587.7,786.8 L588.2,786.8 L588.7,786.8 L589.2,786.8 L589.7,786.8 L590.2,786.8 L590.7,786.8 L591.2,786.8 L591.7,786.8 L592.2,786.8 L592.7,786.8 L593.2,786.8 L593.7,786.8 L594.2,786.8 L594.7,786.8 L595.2,786.8 L595.7,786.8 L596.2,786.8 L596.7,786.8 L597.2,786.8 L597.7,786.8 L598.2,786.8 L598.7,786.8 L599.2,786.8 L599.7,786.8 L600.2,786.8 L600.7,786.8 L601.2,786.8 L601.7,786.8 L602.2,786.8 L602.7,786.8 L603.2,786.8 L603.7,786.8 L604.2,786.8 L604.7,786.8 L605.2,786.8 L605.7,786.8 L606.2,786.8 L606.7,786.8 L607.2,786.8 L607.7,786.8 L608.2,786.8 L608.7,786.8 L609.2,786.8 L609.7,786.8 L610.2,786.8 L610.7,786.8 L611.2,786.8 L611.7,786.8 L612.2,786.8 L612.7,786.8 L613.2,786.8 L613.7,786.8 L614.2,786.8 L614.7,786.8 L615.2,786.8 L615.7,786.8 L616.2,786.8 L616.7,786.8 L617.2,786.8 L617.7,786.8 L618.2,786.8 L618.7,786.8 L619.2,786.79 L619.7,786.79 L620.2,786.79 L620.7,786.79 L621.2,786.79 L621.7,786.79 L622.2,786.79 L622.7,786.78 L623.2,786.78 L623.7,786.78 L624.2,786.77 L624.7,786.77 L625.2,786.76 L625.7,786.75 L626.2,786.73 L626.7,786.71 L627.2,786.68 L627.7,786.65 L628.2,786.6 L628.7,786.54 L629.2,786.46 L629.7,786.38 L630.2,786.29 L630.7,786.2 L631.2,786.12 L631.7,786.05 L632.2,786.01 L632.7,786 L633.2,786.03 L633.7,786.09 L634.2,786.17 L634.7,786.25 L635.2,786.34 L635.7,786.43 L636.2,786.51 L636.7,786.57 L637.2,786.63 L637.7,786.67 L638.2,786.7 L638.7,786.73 L639.2,786.74 L639.7,786.76 L640.2,786.77 L640.7,786.77 L641.2,786.78 L641.7,786.78 L642.2,786.78 L642.7,786.79 L643.2,786.79 L643.7,786.79 L644.2,786.79 L644.7,786.79 L645.2,786.79 L645.7,786.79 L646.2,786.79 L646.7,786.79 L647.2,786.79 L647.7,786.79 L648.2,786.79 L648.7,786.79 L649.2,786.79 L649.7,786.79 L650.2,786.79 L650.7,786.78 L651.2,786.78 L651.7,786.78 L652.2,786.77 L652.7,786.76 L653.2,786.74 L653.7,786.71 L654.2,786.65 L654.7,786.55 L655.2,786.36 L655.7,786.1 L656.2,785.76 L656.7,785.43 L657.2,785.24 L657.7,785.29 L658.2,785.54 L658.7,785.85 L659.2,786.1 L659.7,786.24 L660.2,786.26 L660.7,786.12 L661.2,785.79 L661.7,785.18 L662.2,784.23 L662.7,782.92 L663.2,781.36 L663.7,779.86 L664.2,778.91 L664.7,778.96 L665.2,779.98 L665.7,781.51 L666.2,783.06 L666.7,784.36 L667.2,785.29 L667.7,785.89 L668.2,786.24 L668.7,786.44 L669.2,786.55 L669.7,786.62 L670.2,786.66 L670.7,786.69 L671.2,786.72 L671.7,786.73 L672.2,786.75 L672.7,786.76 L673.2,786.77 L673.7,786.77 L674.2,786.78 L674.7,786.78 L675.2,786.79 L675.7,786.79 L676.2,786.79 L676.7,786.79 L677.2,786.8 L677.7,786.8 L678.2,786.8 L678.7,786.8 L679.2,786.8 L679.7,786.8 L680.2,786.8 L680.7,786.8 L681.2,786.8 L681.7,786.8 L682.2,786.8 L682.7,786.8 L683.2,786.8 L683.7,786.8 L684.2,786.8 L684.7,786.8 L685.2,786.8 L685.7,786.8 L686.2,786.8 L686.7,786.8 L687.2,786.8 L687.7,786.8 L688.2,786.8 L688.7,786.8 L689.2,786.8 L689.7,786.8 L690.2,786.8 L690.7,786.8 L691.2,786.8 L691.7,786.8 L692.2,786.8 L692.7,786.8 L693.2,786.8 L693.7,786.8 L694.2,786.8 L694.7,786.8 L695.2,786.8 L695.7,786.8 L696.2,786.8 L696.7,786.8 L697.2,786.79 L697.7,786.79 L698.2,786.79 L698.7,786.79 L699.2,786.79 L699.7,786.78 L700.2,786.77 L700.7,786.77 L701.2,786.76 L701.7,786.75 L702.2,786.73 L702.7,786.71 L703.2,786.68 L703.7,786.64 L704.2,786.56 L704.7,786.43 L705.2,786.19 L705.7,785.75 L706.2,785.04 L706.7,784.02 L707.2,782.79 L707.7,781.59 L708.2,780.86 L708.7,780.99 L709.2,781.91 L709.7,783.16 L710.2,784.35 L710.7,785.28 L711.2,785.9 L711.7,786.27 L712.2,786.48 L712.7,786.59 L713.2,786.65 L713.7,786.69 L714.2,786.72 L714.7,786.74 L715.2,786.75 L715.7,786.76 L716.2,786.77 L716.7,786.78 L717.2,786.78 L717.7,786.79 L718.2,786.79 L718.7,786.79 L719.2,786.79 L719.7,786.79 L720.2,786.8 L720.7,786.8 L721.2,786.8 L721.7,786.8 L722.2,786.8 L722.7,786.8 L723.2,786.8 L723.7,786.8 L724.2,786.8 L724.7,786.8 L725.2,786.8 L725.7,786.8 L726.2,786.8 L726.7,786.8 L727.2,786.8 L727.7,786.8 L728.2,786.79 L728.7,786.79 L729.2,786.79 L729.7,786.79 L730.2,786.79 L730.7,786.79 L731.2,786.79 L731.7,786.79 L732.2,786.78 L732.7,786.78 L733.2,786.77 L733.7,786.77 L734.2,786.76 L734.7,786.75 L735.2,786.73 L735.7,786.7 L736.2,786.67 L736.7,786.63 L737.2,786.58 L737.7,786.53 L738.2,786.46 L738.7,786.39 L739.2,786.33 L739.7,786.27 L740.2,786.22 L740.7,786.2 L741.2,786.21 L741.7,786.24 L742.2,786.28 L742.7,786.35 L743.2,786.41 L743.7,786.48 L744.2,786.54 L744.7,786.6 L745.2,786.65 L745.7,786.68 L746.2,786.71 L746.7,786.73 L747.2,786.75 L747.7,786.76 L748.2,786.77 L748.7,786.78 L749.2,786.78 L749.7,786.78 L750.2,786.79 L750.7,786.79 L751.2,786.79 L751.7,786.79 L752.2,786.79 L752.7,786.79 L753.2,786.79 L753.7,786.79 L754.2,786.8 L754.7,786.8 L755.2,786.8 L755.7,786.8 L756.2,786.8 L756.7,786.8 L757.2,786.8 L757.7,786.8 L758.2,786.8 L758.7,786.8 L759.2,786.8 L759.7,786.8 L760.2,786.8 L760.7,786.8 L761.2,786.8 L761.7,786.8 L762.2,786.8 L762.7,786.8 L763.2,786.79 L763.7,786.79 L764.2,786.79 L764.7,786.79 L765.2,786.79 L765.7,786.79 L766.2,786.78 L766.7,786.77 L767.2,786.76 L767.7,786.75 L768.2,786.72 L768.7,786.67 L769.2,786.61 L769.7,786.53 L770.2,786.43 L770.7,786.33 L771.2,786.24 L771.7,786.2 L772.2,786.22 L772.7,786.28 L773.2,786.38 L773.7,786.48 L774.2,786.57 L774.7,786.64 L775.2,786.7 L775.7,786.73 L776.2,786.76 L776.7,786.77 L777.2,786.78 L777.7,786.78 L778.2,786.79 L778.7,786.79 L779.2,786.79 L779.7,786.79 L780.2,786.79 L780.7,786.8 L781.2,786.8 L781.7,786.8 L782.2,786.8 L782.7,786.8 L783.2,786.8 L783.7,786.8 L784.2,786.8 L784.7,786.8 L785.2,786.8 L785.7,786.8 L786.2,786.8 L786.7,786.8 L787.2,786.8 L787.7,786.8 L788.2,786.8 L788.7,786.8 L789.2,786.8 L789.7,786.8 L790.2,786.8 L790.7,786.8 L791.2,786.8 L791.7,786.8 L792.2,786.8 L792.7,786.8 L793.2,786.8 L793.7,786.8 L794.2,786.8 L794.7,786.8 L795.2,786.8 L795.7,786.8 L796.2,786.8 L796.7,786.8 L797.2,786.8 L797.7,786.8 L798.2,786.8 L798.7,786.8 L799.2,786.8 L799.7,786.8 L800.2,786.8 L800.7,786.8 L801.2,786.8 L801.7,786.8 L802.2,786.8 L802.7,786.8 L803.2,786.8 L803.7,786.8 L804.2,786.8 L804.7,786.8 L805.2,786.8 L805.7,786.8 L806.2,786.8 L806.7,786.8 L807.2,786.8 L807.7,786.8 L808.2,786.8 L808.7,786.8 L809.2,786.8 L809.7,786.8 L810.2,786.8 L810.7,786.8 L811.2,786.8 L811.7,786.8 L812.2,786.8 L812.7,786.8 L813.2,786.8 L813.7,786.8 L814.2,786.8 L814.7,786.8 L815.2,786.8 L815.7,786.8 L816.2,786.8 L816.7,786.8 L817.2,786.8 L817.7,786.8 L818.2,786.8 L818.7,786.8 L819.2,786.8 L819.7,786.8 L820.2,786.8 L820.7,786.8 L821.2,786.8 L821.7,786.8 L822.2,786.8 L822.7,786.8 L823.2,786.8 L823.7,786.8 L824.2,786.8 L824.7,786.8 L825.2,786.8 L825.7,786.8 L826.2,786.8 L826.7,786.8 L827.2,786.8 L827.7,786.8 L828.2,786.8 L828.7,786.8 L829.2,786.8 L829.7,786.8 L830.2,786.8 L830.7,786.8 L831.2,786.8 L831.7,786.8 L832.2,786.8 L832.7,786.8 L833.2,786.8 L833.7,786.8 L834.2,786.8 L834.7,786.8 L835.2,786.8 L835.7,786.8 L836.2,786.8 L836.7,786.8 L837.2,786.8 L837.7,786.8 L838.2,786.8 L838.7,786.8 L839.2,786.8 L839.7,786.8 L840.2,786.8 L840.7,786.8 L841.2,786.8 L841.7,786.8 L842.2,786.8 L842.7,786.8 L843.2,786.8 L843.7,786.8 L844.2,786.8 L844.7,786.8 L845.2,786.8 L845.7,786.8 L846.2,786.8 L846.7,786.8 L847.2,786.8 L847.7,786.8 L848.2,786.8 L848.7,786.8 L849.2,786.8 L849.7,786.8 L850.2,786.8 L850.7,786.8 L851.2,786.8 L851.7,786.8 L852.2,786.8 L852.7,786.8 L853.2,786.8 L853.7,786.8 L854.2,786.8 L854.7,786.8 L855.2,786.8 L855.7,786.8 L856.2,786.8 L856.7,786.8 L857.2,786.8 L857.7,786.8 L858.2,786.8 L858.7,786.8 L859.2,786.8 L859.7,786.8 L860.2,786.8 L860.7,786.8 L861.2,786.8 L861.7,786.8 L862.2,786.8 L862.7,786.8 L863.2,786.8 L863.7,786.8 L864.2,786.8 L864.7,786.8 L865.2,786.8 L865.7,786.8 L866.2,786.8 L866.7,786.8 L867.2,786.8 L867.7,786.8 L868.2,786.8 L868.7,786.8 L869.2,786.8 L869.7,786.8 L870.2,786.8 L870.7,786.8 L871.2,786.8 L871.7,786.8 L872.2,786.8 L872.7,786.8 L873.2,786.8 L873.7,786.8 L874.2,786.8 L874.7,786.8 L875.2,786.8 L875.7,786.79 L876.2,786.79 L876.7,786.79 L877.2,786.79 L877.7,786.79 L878.2,786.78 L878.7,786.78 L879.2,786.78 L879.7,786.77 L880.2,786.76 L880.7,786.76 L881.2,786.75 L881.7,786.73 L882.2,786.71 L882.7,786.68 L883.2,786.63 L883.7,786.54 L884.2,786.41 L884.7,786.2 L885.2,785.89 L885.7,785.49 L886.2,785.01 L886.7,784.51 L887.2,784.07 L887.7,783.82 L888.2,783.86 L888.7,784.17 L889.2,784.63 L889.7,785.14 L890.2,785.6 L890.7,785.98 L891.2,786.26 L891.7,786.45 L892.2,786.57 L892.7,786.64 L893.2,786.69 L893.7,786.72 L894.2,786.74 L894.7,786.75 L895.2,786.76 L895.7,786.77 L896.2,786.77 L896.7,786.78 L897.2,786.78 L897.7,786.79 L898.2,786.79 L898.7,786.79 L899.2,786.79 L899.7,786.79 L900.2,786.79 L900.7,786.8 L901.2,786.8 L901.7,786.8 L902.2,786.8 L902.7,786.8 L903.2,786.8 L903.7,786.8 L904.2,786.8 L904.7,786.8 L905.2,786.8 L905.7,786.8 L906.2,786.8 L906.7,786.8 L907.2,786.8 L907.7,786.8 L908.2,786.8 L908.7,786.8 L909.2,786.8 L909.7,786.8 L910.2,786.8 L910.7,786.8 L911.2,786.8 L911.7,786.8 L912.2,786.8 L912.7,786.8 L913.2,786.8 L913.7,786.8 L914.2,786.8 L914.7,786.8 L915.2,786.8 L915.7,786.8 L916.2,786.8 L916.7,786.8 L917.2,786.8 L917.7,786.8 L918.2,786.8 L918.7,786.8 L919.2,786.8 L919.7,786.8 L920.2,786.8 L920.7,786.8 L921.2,786.8 L921.7,786.8 L922.2,786.8 L922.7,786.8 L923.2,786.8 L923.7,786.8 L924.2,786.8 L924.7,786.8 L925.2,786.8 L925.7,786.8 L926.2,786.8 L926.7,786.8 L927.2,786.8 L927.7,786.8 L928.2,786.8 L928.7,786.8 L929.2,786.8 L929.7,786.8 L930.2,786.8 L930.7,786.8 L931.2,786.8 L931.7,786.8 L932.2,786.8 L932.7,786.8 L933.2,786.8 L933.7,786.8 L934.2,786.8 L934.7,786.8 L935.2,786.8 L935.7,786.8 L936.2,786.8 L936.7,786.8 L937.2,786.8 L937.7,786.8 L938.2,786.8 L938.7,786.8 L939.2,786.8 L939.7,786.8 L940.2,786.8 L940.7,786.8 L941.2,786.8 L941.7,786.8 L942.2,786.8 L942.7,786.8 L943.2,786.8 L943.7,786.8 L944.2,786.8 L944.7,786.8 L945.2,786.8 L945.7,786.8 L946.2,786.8 L946.7,786.8 L947.2,786.8 L947.7,786.8 L948.2,786.8 L948.7,786.8 L949.2,786.8 L949.7,786.8 L950.2,786.8 L950.7,786.8 L951.2,786.8 L951.7,786.8 L952.2,786.8 L952.7,786.8 L953.2,786.8 L953.7,786.8 L954.2,786.8 L954.7,786.8 L955.2,786.8 L955.7,786.8 L956.2,786.8 L956.7,786.8 L957.2,786.8 L957.7,786.8 L958.2,786.8 L958.7,786.8 L959.2,786.8 L959.7,786.8 L960.2,786.8 L960.7,786.8 L961.2,786.8 L961.7,786.8 L962.2,786.8 L962.7,786.8 L963.2,786.8 L963.7,786.8 L964.2,786.8 L964.7,786.8 L965.2,786.8 L965.7,786.8 L966.2,786.8 L966.7,786.8 L967.2,786.8 L967.7,786.8 L968.2,786.8 L968.7,786.8 L969.2,786.8 L969.7,786.8 L970.2,786.8 L970.7,786.8 L971.2,786.8 L971.7,786.8 L972.2,786.8 L972.7,786.8 L973.2,786.8 L973.7,786.8 L974.2,786.8 L974.7,786.8 L975.2,786.8 L975.7,786.8 L976.2,786.8 L976.7,786.8 L977.2,786.8 L977.7,786.8 L978.2,786.8 L978.7,786.8 L979.2,786.8 L979.7,786.8 L980.2,786.8 L980.7,786.8 L981.2,786.8 L981.7,786.8 L982.2,786.8 L982.7,786.8 L983.2,786.8 L983.7,786.8 L984.2,786.8 L984.7,786.8 L985.2,786.8 L985.7,786.8 L986.2,786.8 L986.7,786.8 L987.2,786.8 L987.7,786.8 L988.2,786.8 L988.7,786.8 L989.2,786.8 L989.7,786.8 L990.2,786.8 L990.7,786.8 L991.2,786.8 L991.7,786.8 L992.2,786.8 L992.7,786.8 L993.2,786.8 L993.7,786.8 L994.2,786.8 L994.7,786.8 L995.2,786.8 L995.7,786.8 L996.2,786.8 L996.7,786.8 L997.2,786.8 L997.7,786.8 L998.2,786.8 L998.7,786.8 L999.2,786.8 L999.7,786.8 L1000.2,786.8 L1000.7,786.8 L1001.2,786.8 L1001.7,786.8 L1002.2,786.8 L1002.7,786.8 L1003.2,786.8 L1003.7,786.8 L1004.2,786.8 L1004.7,786.8 L1005.2,786.8 L1005.7,786.8 L1006.2,786.8 L1006.7,786.8 L1007.2,786.8 L1007.7,786.8 L1008.2,786.8 L1008.7,786.8 L1009.2,786.8 L1009.7,786.8 L1010.2,786.8 L1010.7,786.8 L1011.2,786.8 L1011.7,786.8 L1012.2,786.8 L1012.7,786.8 L1013.2,786.8 L1013.7,786.8 L1014.2,786.8 L1014.7,786.8 L1015.2,786.8 L1015.7,786.8 L1016.2,786.8 L1016.7,786.8 L1017.2,786.8 L1017.7,786.8 L1018.2,786.8 L1018.7,786.8 L1019.2,786.8 L1019.7,786.8 L1020.2,786.8 L1020.7,786.8 L1021.2,786.8 L1021.7,786.8 L1022.2,786.8 L1022.7,786.8 L1023.2,786.8 L1023.7,786.8 L1024.2,786.8 L1024.7,786.8 L1025.2,786.8 L1025.7,786.8 L1026.2,786.8 L1026.7,786.8 L1027.2,786.8 L1027.7,786.8 L1028.2,786.8 L1028.7,786.8 L1029.2,786.8 L1029.7,786.8 L1030.2,786.8 L1030.7,786.8 L1031.2,786.8 L1031.7,786.8 L1032.2,786.8 L1032.7,786.8 L1033.2,786.8 L1033.7,786.8 L1034.2,786.8 L1034.7,786.8 L1035.2,786.8 L1035.7,786.8 L1036.2,786.8 L1036.7,786.8 L1037.2,786.8 L1037.7,786.8 L1038.2,786.8 L1038.7,786.8 L1039.2,786.8 L1039.7,786.8 L1040.2,786.8 L1040.7,786.8 L1041.2,786.8 L1041.7,786.8 L1042.2,786.8 L1042.7,786.8 L1043.2,786.8 L1043.7,786.8 L1044.2,786.8 L1044.7,786.8 L1045.2,786.8 L1045.7,786.8 L1046.2,786.8 L1046.7,786.8 L1047.2,786.8 L1047.7,786.8 L1048.2,786.8 L1048.7,786.8 L1049.2,786.8 L1049.7,786.8 L1050.2,786.8 L1050.7,786.8 L1051.2,786.8 L1051.7,786.8 L1052.2,786.8 L1052.7,786.8 L1053.2,786.8 L1053.7,786.8 L1054.2,786.8 L1054.7,786.8 L1055.2,786.8 L1055.7,786.8 L1056.2,786.8 L1056.7,786.8 L1057.2,786.8 L1057.7,786.8 L1058.2,786.8 L1058.7,786.8 L1059.2,786.8 L1059.7,786.8 L1060.2,786.8 L1060.7,786.8 L1061.2,786.8 L1061.7,786.8 L1062.2,786.8 L1062.7,786.8 L1063.2,786.8 L1063.7,786.8 L1064.2,786.8 L1064.7,786.8 L1065.2,786.8 L1065.7,786.8 L1066.2,786.8 L1066.7,786.8 L1067.2,786.8 L1067.7,786.8 L1068.2,786.8 L1068.7,786.8 L1069.2,786.8 L1069.7,786.8 L1070.2,786.8 L1070.7,786.8 L1071.2,786.8 L1071.7,786.8 L1072.2,786.8 L1072.7,786.8 L1073.2,786.8 L1073.7,786.8 L1074.2,786.8 L1074.7,786.8 L1075.2,786.8 L1075.7,786.8 L1076.2,786.8 L1076.7,786.8 L1077.2,786.8 L1077.7,786.8 L1078.2,786.8 L1078.7,786.8 L1079.2,786.8 L1079.7,786.8 L1080.2,786.8 L1080.7,786.8 L1081.2,786.8 L1081.7,786.8 L1082.2,786.8 L1082.7,786.8 L1083.2,786.8 L1083.7,786.8 L1084.2,786.8 L1084.7,786.8 L1085.2,786.8 L1085.7,786.8 L1086.2,786.8 L1086.7,786.8 L1087.2,786.8 L1087.7,786.8 L1088.2,786.8 L1088.7,786.8 L1089.2,786.8 L1089.7,786.8 L1090.2,786.8 L1090.7,786.8 L1091.2,786.8 L1091.7,786.8 L1092.2,786.8 L1092.7,786.8 L1093.2,786.8 L1093.7,786.8 L1094.2,786.8 L1094.7,786.8 L1095.2,786.8 L1095.7,786.8 L1096.2,786.8 L1096.7,786.8 L1097.2,786.8 L1097.7,786.8 L1098.2,786.8 L1098.7,786.8 L1099.2,786.8 L1099.7,786.8 L1100.2,786.8 L1100.7,786.8 L1101.2,786.8 L1101.7,786.8 L1102.2,786.8 L1102.7,786.8 L1103.2,786.8 L1103.7,786.8 L1104.2,786.8 L1104.7,786.8 L1105.2,786.8 L1105.7,786.8 L1106.2,786.8 L1106.7,786.8 L1107.2,786.8 L1107.7,786.8 L1108.2,786.8 L1108.7,786.8 L1109.2,786.8 L1109.7,786.8 L1110.2,786.8 L1110.7,786.8 L1111.2,786.8 L1111.7,786.8 L1112.2,786.8 L1112.7,786.8 L1113.2,786.8 L1113.7,786.8 L1114.2,786.8 L1114.7,786.8 L1115.2,786.8 L1115.7,786.8 L1116.2,786.8 L1116.7,786.8 L1117.2,786.8 L1117.7,786.8 L1118.2,786.8 L1118.7,786.8 L1119.2,786.8 L1119.7,786.8 L1120.2,786.8 L1120.7,786.8 L1121.2,786.8 L1121.7,786.8 L1122.2,786.8 L1122.7,786.8 L1123.2,786.8 L1123.7,786.8 L1124.2,786.8 L1124.7,786.8 L1125.2,786.8 L1125.7,786.8 L1126.2,786.8 L1126.7,786.8 L1127.2,786.8 L1127.7,786.8 L1128.2,786.8 L1128.7,786.8 L1129.2,786.8 L1129.7,786.8 L1130.2,786.8 L1130.7,786.8 L1131.2,786.8 L1131.7,786.8 L1132.2,786.8 L1132.7,786.8 L1133.2,786.8 L1133.7,786.8 L1134.2,786.8 L1134.7,786.8 L1135.2,786.8 L1135.7,786.8 L1136.2,786.8 L1136.7,786.8 L1137.2,786.8 L1137.7,786.8 L1138.2,786.8 L1138.7,786.8 L1139.2,786.8 L1139.7,786.8 L1140.2,786.8 L1140.7,786.8 L1141.2,786.8 L1141.7,786.8 L1142.2,786.8 L1142.7,786.8 L1143.2,786.8 L1143.7,786.8 L1144.2,786.8 L1144.7,786.8 L1145.2,786.8 L1145.7,786.8 L1146.2,786.8 L1146.7,786.8 L1147.2,786.8 L1147.7,786.8 L1148.2,786.8 L1148.7,786.8 L1149.2,786.8 L1149.7,786.8 L1150.2,786.8 L1150.7,786.8" fill="none" stroke="#111" stroke-width="1.25" stroke-linejoin="round"/>
<path d="M586.2,854.6 L586.7,854.6 L587.2,854.6 L587.7,854.6 L588.2,854.6 L588.7,854.6 L589.2,854.6 L589.7,854.6 L590.2,854.6 L590.7,854.6 L591.2,854.6 L591.7,854.6 L592.2,854.6 L592.7,854.6 L593.2,854.6 L593.7,854.6 L594.2,854.6 L594.7,854.6 L595.2,854.6 L595.7,854.6 L596.2,854.6 L596.7,854.6 L597.2,854.6 L597.7,854.6 L598.2,854.6 L598.7,854.6 L599.2,854.6 L599.7,854.6 L600.2,854.6 L600.7,854.6 L601.2,854.6 L601.7,854.6 L602.2,854.6 L602.7,854.6 L603.2,854.6 L603.7,854.6 L604.2,854.6 L604.7,854.6 L605.2,854.6 L605.7,854.6 L606.2,854.6 L606.7,854.6 L607.2,854.6 L607.7,854.6 L608.2,854.6 L608.7,854.6 L609.2,854.6 L609.7,854.6 L610.2,854.6 L610.7,854.6 L611.2,854.6 L611.7,854.6 L612.2,854.6 L612.7,854.6 L613.2,854.6 L613.7,854.6 L614.2,854.6 L614.7,854.6 L615.2,854.6 L615.7,854.6 L616.2,854.6 L616.7,854.6 L617.2,854.6 L617.7,854.6 L618.2,854.6 L618.7,854.6 L619.2,854.59 L619.7,854.59 L620.2,854.59 L620.7,854.59 L621.2,854.59 L621.7,854.59 L622.2,854.59 L622.7,854.58 L623.2,854.58 L623.7,854.58 L624.2,854.57 L624.7,854.57 L625.2,854.56 L625.7,854.55 L626.2,854.53 L626.7,854.51 L627.2,854.48 L627.7,854.45 L628.2,854.4 L628.7,854.34 L629.2,854.26 L629.7,854.18 L630.2,854.09 L630.7,854 L631.2,853.92 L631.7,853.85 L632.2,853.81 L632.7,853.8 L633.2,853.83 L633.7,853.89 L634.2,853.97 L634.7,854.05 L635.2,854.14 L635.7,854.23 L636.2,854.31 L636.7,854.37 L637.2,854.43 L637.7,854.47 L638.2,854.5 L638.7,854.53 L639.2,854.54 L639.7,854.56 L640.2,854.57 L640.7,854.57 L641.2,854.58 L641.7,854.58 L642.2,854.58 L642.7,854.59 L643.2,854.59 L643.7,854.59 L644.2,854.59 L644.7,854.59 L645.2,854.59 L645.7,854.59 L646.2,854.59 L646.7,854.6 L647.2,854.6 L647.7,854.6 L648.2,854.6 L648.7,854.6 L649.2,854.6 L649.7,854.6 L650.2,854.6 L650.7,854.6 L651.2,854.6 L651.7,854.6 L652.2,854.6 L652.7,854.6 L653.2,854.6 L653.7,854.6 L654.2,854.6 L654.7,854.6 L655.2,854.6 L655.7,854.6 L656.2,854.6 L656.7,854.6 L657.2,854.6 L657.7,854.6 L658.2,854.6 L658.7,854.6 L659.2,854.6 L659.7,854.6 L660.2,854.6 L660.7,854.6 L661.2,854.6 L661.7,854.6 L662.2,854.6 L662.7,854.6 L663.2,854.6 L663.7,854.6 L664.2,854.6 L664.7,854.6 L665.2,854.6 L665.7,854.6 L666.2,854.6 L666.7,854.6 L667.2,854.6 L667.7,854.6 L668.2,854.6 L668.7,854.6 L669.2,854.6 L669.7,854.6 L670.2,854.6 L670.7,854.6 L671.2,854.6 L671.7,854.6 L672.2,854.6 L672.7,854.6 L673.2,854.6 L673.7,854.6 L674.2,854.6 L674.7,854.6 L675.2,854.6 L675.7,854.6 L676.2,854.6 L676.7,854.6 L677.2,854.6 L677.7,854.6 L678.2,854.6 L678.7,854.6 L679.2,854.6 L679.7,854.6 L680.2,854.6 L680.7,854.6 L681.2,854.6 L681.7,854.6 L682.2,854.6 L682.7,854.6 L683.2,854.6 L683.7,854.6 L684.2,854.6 L684.7,854.6 L685.2,854.6 L685.7,854.6 L686.2,854.6 L686.7,854.6 L687.2,854.6 L687.7,854.6 L688.2,854.6 L688.7,854.6 L689.2,854.6 L689.7,854.6 L690.2,854.6 L690.7,854.6 L691.2,854.6 L691.7,854.6 L692.2,854.6 L692.7,854.6 L693.2,854.6 L693.7,854.6 L694.2,854.6 L694.7,854.6 L695.2,854.6 L695.7,854.6 L696.2,854.6 L696.7,854.6 L697.2,854.6 L697.7,854.6 L698.2,854.6 L698.7,854.6 L699.2,854.6 L699.7,854.6 L700.2,854.6 L700.7,854.6 L701.2,854.6 L701.7,854.6 L702.2,854.6 L702.7,854.6 L703.2,854.6 L703.7,854.6 L704.2,854.6 L704.7,854.6 L705.2,854.6 L705.7,854.6 L706.2,854.6 L706.7,854.6 L707.2,854.6 L707.7,854.6 L708.2,854.6 L708.7,854.6 L709.2,854.6 L709.7,854.6 L710.2,854.6 L710.7,854.6 L711.2,854.6 L711.7,854.6 L712.2,854.6 L712.7,854.6 L713.2,854.6 L713.7,854.6 L714.2,854.6 L714.7,854.6 L715.2,854.6 L715.7,854.6 L716.2,854.6 L716.7,854.6 L717.2,854.6 L717.7,854.6 L718.2,854.6 L718.7,854.6 L719.2,854.6 L719.7,854.6 L720.2,854.6 L720.7,854.6 L721.2,854.6 L721.7,854.6 L722.2,854.6 L722.7,854.6 L723.2,854.6 L723.7,854.6 L724.2,854.6 L724.7,854.6 L725.2,854.6 L725.7,854.6 L726.2,854.6 L726.7,854.59 L727.2,854.59 L727.7,854.59 L728.2,854.59 L728.7,854.59 L729.2,854.59 L729.7,854.59 L730.2,854.58 L730.7,854.58 L731.2,854.58 L731.7,854.57 L732.2,854.56 L732.7,854.55 L733.2,854.54 L733.7,854.51 L734.2,854.47 L734.7,854.41 L735.2,854.33 L735.7,854.22 L736.2,854.09 L736.7,853.95 L737.2,853.82 L737.7,853.73 L738.2,853.68 L738.7,853.69 L739.2,853.72 L739.7,853.76 L740.2,853.8 L740.7,853.85 L741.2,853.91 L741.7,853.97 L742.2,854.04 L742.7,854.12 L743.2,854.19 L743.7,854.27 L744.2,854.33 L744.7,854.39 L745.2,854.44 L745.7,854.48 L746.2,854.51 L746.7,854.53 L747.2,854.55 L747.7,854.56 L748.2,854.57 L748.7,854.57 L749.2,854.58 L749.7,854.58 L750.2,854.59 L750.7,854.59 L751.2,854.59 L751.7,854.59 L752.2,854.59 L752.7,854.59 L753.2,854.59 L753.7,854.59 L754.2,854.6 L754.7,854.6 L755.2,854.6 L755.7,854.6 L756.2,854.6 L756.7,854.6 L757.2,854.6 L757.7,854.6 L758.2,854.6 L758.7,854.6 L759.2,854.6 L759.7,854.6 L760.2,854.6 L760.7,854.6 L761.2,854.6 L761.7,854.6 L762.2,854.6 L762.7,854.6 L763.2,854.59 L763.7,854.59 L764.2,854.59 L764.7,854.59 L765.2,854.59 L765.7,854.59 L766.2,854.58 L766.7,854.57 L767.2,854.56 L767.7,854.55 L768.2,854.52 L768.7,854.47 L769.2,854.41 L769.7,854.33 L770.2,854.23 L770.7,854.13 L771.2,854.04 L771.7,854 L772.2,854.02 L772.7,854.08 L773.2,854.18 L773.7,854.28 L774.2,854.37 L774.7,854.44 L775.2,854.5 L775.7,854.53 L776.2,854.56 L776.7,854.57 L777.2,854.58 L777.7,854.58 L778.2,854.59 L778.7,854.59 L779.2,854.59 L779.7,854.59 L780.2,854.59 L780.7,854.6 L781.2,854.6 L781.7,854.6 L782.2,854.6 L782.7,854.6 L783.2,854.6 L783.7,854.6 L784.2,854.6 L784.7,854.6 L785.2,854.6 L785.7,854.6 L786.2,854.6 L786.7,854.6 L787.2,854.6 L787.7,854.6 L788.2,854.6 L788.7,854.6 L789.2,854.6 L789.7,854.6 L790.2,854.6 L790.7,854.6 L791.2,854.6 L791.7,854.6 L792.2,854.6 L792.7,854.6 L793.2,854.6 L793.7,854.6 L794.2,854.6 L794.7,854.6 L795.2,854.6 L795.7,854.6 L796.2,854.6 L796.7,854.6 L797.2,854.6 L797.7,854.6 L798.2,854.6 L798.7,854.6 L799.2,854.6 L799.7,854.6 L800.2,854.6 L800.7,854.6 L801.2,854.6 L801.7,854.6 L802.2,854.6 L802.7,854.6 L803.2,854.6 L803.7,854.6 L804.2,854.6 L804.7,854.6 L805.2,854.6 L805.7,854.6 L806.2,854.6 L806.7,854.6 L807.2,854.6 L807.7,854.6 L808.2,854.6 L808.7,854.6 L809.2,854.6 L809.7,854.6 L810.2,854.6 L810.7,854.6 L811.2,854.6 L811.7,854.6 L812.2,854.6 L812.7,854.6 L813.2,854.6 L813.7,854.6 L814.2,854.6 L814.7,854.6 L815.2,854.6 L815.7,854.6 L816.2,854.6 L816.7,854.6 L817.2,854.6 L817.7,854.6 L818.2,854.6 L818.7,854.6 L819.2,854.6 L819.7,854.6 L820.2,854.6 L820.7,854.6 L821.2,854.6 L821.7,854.6 L822.2,854.6 L822.7,854.6 L823.2,854.6 L823.7,854.6 L824.2,854.6 L824.7,854.6 L825.2,854.6 L825.7,854.6 L826.2,854.6 L826.7,854.6 L827.2,854.6 L827.7,854.6 L828.2,854.6 L828.7,854.6 L829.2,854.6 L829.7,854.6 L830.2,854.6 L830.7,854.6 L831.2,854.6 L831.7,854.6 L832.2,854.6 L832.7,854.6 L833.2,854.6 L833.7,854.6 L834.2,854.6 L834.7,854.6 L835.2,854.6 L835.7,854.6 L836.2,854.6 L836.7,854.6 L837.2,854.6 L837.7,854.6 L838.2,854.6 L838.7,854.6 L839.2,854.6 L839.7,854.6 L840.2,854.6 L840.7,854.6 L841.2,854.6 L841.7,854.6 L842.2,854.6 L842.7,854.6 L843.2,854.6 L843.7,854.6 L844.2,854.6 L844.7,854.6 L845.2,854.6 L845.7,854.6 L846.2,854.6 L846.7,854.6 L847.2,854.6 L847.7,854.6 L848.2,854.6 L848.7,854.6 L849.2,854.6 L849.7,854.6 L850.2,854.6 L850.7,854.6 L851.2,854.6 L851.7,854.6 L852.2,854.6 L852.7,854.6 L853.2,854.6 L853.7,854.6 L854.2,854.6 L854.7,854.6 L855.2,854.6 L855.7,854.6 L856.2,854.6 L856.7,854.6 L857.2,854.6 L857.7,854.6 L858.2,854.6 L858.7,854.6 L859.2,854.6 L859.7,854.6 L860.2,854.6 L860.7,854.6 L861.2,854.6 L861.7,854.6 L862.2,854.6 L862.7,854.6 L863.2,854.59 L863.7,854.59 L864.2,854.59 L864.7,854.59 L865.2,854.59 L865.7,854.59 L866.2,854.58 L866.7,854.58 L867.2,854.57 L867.7,854.57 L868.2,854.56 L868.7,854.54 L869.2,854.52 L869.7,854.48 L870.2,854.42 L870.7,854.32 L871.2,854.17 L871.7,853.98 L872.2,853.74 L872.7,853.49 L873.2,853.26 L873.7,853.12 L874.2,853.12 L874.7,853.25 L875.2,853.48 L875.7,853.73 L876.2,853.97 L876.7,854.17 L877.2,854.31 L877.7,854.41 L878.2,854.48 L878.7,854.52 L879.2,854.54 L879.7,854.56 L880.2,854.57 L880.7,854.57 L881.2,854.58 L881.7,854.58 L882.2,854.59 L882.7,854.59 L883.2,854.59 L883.7,854.59 L884.2,854.59 L884.7,854.59 L885.2,854.59 L885.7,854.59 L886.2,854.59 L886.7,854.59 L887.2,854.58 L887.7,854.58 L888.2,854.58 L888.7,854.57 L889.2,854.56 L889.7,854.55 L890.2,854.54 L890.7,854.53 L891.2,854.51 L891.7,854.49 L892.2,854.46 L892.7,854.43 L893.2,854.38 L893.7,854.33 L894.2,854.27 L894.7,854.19 L895.2,854.09 L895.7,853.96 L896.2,853.78 L896.7,853.52 L897.2,853.11 L897.7,852.44 L898.2,851.3 L898.7,849.41 L899.2,846.46 L899.7,842.21 L900.2,836.66 L900.7,830.21 L901.2,823.82 L901.7,819.06 L902.2,817.65 L902.7,820.21 L903.2,825.66 L903.7,832.21 L904.2,838.46 L904.7,843.64 L905.2,847.48 L905.7,850.08 L906.2,851.71 L906.7,852.68 L907.2,853.26 L907.7,853.61 L908.2,853.84 L908.7,854 L909.2,854.12 L909.7,854.21 L910.2,854.28 L910.7,854.34 L911.2,854.39 L911.7,854.42 L912.2,854.45 L912.7,854.46 L913.2,854.47 L913.7,854.46 L914.2,854.42 L914.7,854.33 L915.2,854.18 L915.7,853.98 L916.2,853.77 L916.7,853.61 L917.2,853.6 L917.7,853.75 L918.2,853.98 L918.7,854.19 L919.2,854.35 L919.7,854.46 L920.2,854.52 L920.7,854.55 L921.2,854.56 L921.7,854.57 L922.2,854.58 L922.7,854.58 L923.2,854.58 L923.7,854.58 L924.2,854.58 L924.7,854.58 L925.2,854.57 L925.7,854.56 L926.2,854.55 L926.7,854.54 L927.2,854.53 L927.7,854.51 L928.2,854.48 L928.7,854.45 L929.2,854.41 L929.7,854.36 L930.2,854.29 L930.7,854.18 L931.2,853.99 L931.7,853.67 L932.2,853.08 L932.7,852.07 L933.2,850.48 L933.7,848.24 L934.2,845.48 L934.7,842.66 L935.2,840.59 L935.7,840.19 L936.2,841.68 L936.7,844.32 L937.2,847.18 L937.7,849.66 L938.2,851.51 L938.7,852.74 L939.2,853.47 L939.7,853.88 L940.2,854.11 L940.7,854.25 L941.2,854.33 L941.7,854.39 L942.2,854.44 L942.7,854.47 L943.2,854.5 L943.7,854.52 L944.2,854.54 L944.7,854.55 L945.2,854.56 L945.7,854.57 L946.2,854.58 L946.7,854.58 L947.2,854.59 L947.7,854.59 L948.2,854.59 L948.7,854.59 L949.2,854.6 L949.7,854.6 L950.2,854.6 L950.7,854.6 L951.2,854.6 L951.7,854.6 L952.2,854.6 L952.7,854.6 L953.2,854.6 L953.7,854.6 L954.2,854.6 L954.7,854.6 L955.2,854.6 L955.7,854.6 L956.2,854.6 L956.7,854.6 L957.2,854.6 L957.7,854.6 L958.2,854.6 L958.7,854.6 L959.2,854.6 L959.7,854.6 L960.2,854.6 L960.7,854.6 L961.2,854.6 L961.7,854.6 L962.2,854.6 L962.7,854.6 L963.2,854.6 L963.7,854.6 L964.2,854.6 L964.7,854.6 L965.2,854.6 L965.7,854.6 L966.2,854.6 L966.7,854.6 L967.2,854.6 L967.7,854.6 L968.2,854.6 L968.7,854.6 L969.2,854.6 L969.7,854.6 L970.2,854.6 L970.7,854.6 L971.2,854.6 L971.7,854.6 L972.2,854.6 L972.7,854.6 L973.2,854.6 L973.7,854.6 L974.2,854.6 L974.7,854.6 L975.2,854.6 L975.7,854.6 L976.2,854.6 L976.7,854.6 L977.2,854.6 L977.7,854.6 L978.2,854.6 L978.7,854.6 L979.2,854.6 L979.7,854.6 L980.2,854.6 L980.7,854.6 L981.2,854.6 L981.7,854.6 L982.2,854.6 L982.7,854.6 L983.2,854.6 L983.7,854.6 L984.2,854.6 L984.7,854.6 L985.2,854.6 L985.7,854.6 L986.2,854.6 L986.7,854.6 L987.2,854.6 L987.7,854.6 L988.2,854.6 L988.7,854.6 L989.2,854.6 L989.7,854.6 L990.2,854.59 L990.7,854.59 L991.2,854.59 L991.7,854.59 L992.2,854.59 L992.7,854.58 L993.2,854.58 L993.7,854.57 L994.2,854.56 L994.7,854.56 L995.2,854.54 L995.7,854.53 L996.2,854.52 L996.7,854.5 L997.2,854.47 L997.7,854.44 L998.2,854.41 L998.7,854.36 L999.2,854.31 L999.7,854.24 L1000.2,854.16 L1000.7,854.06 L1001.2,853.92 L1001.7,853.73 L1002.2,853.46 L1002.7,853.01 L1003.2,852.29 L1003.7,851.1 L1004.2,849.21 L1004.7,846.38 L1005.2,842.44 L1005.7,837.45 L1006.2,831.77 L1006.7,826.22 L1007.2,822.04 L1007.7,820.61 L1008.2,822.5 L1008.7,826.97 L1009.2,832.61 L1009.7,838.22 L1010.2,843.07 L1010.7,846.85 L1011.2,849.53 L1011.7,851.3 L1012.2,852.41 L1012.7,853.08 L1013.2,853.48 L1013.7,853.74 L1014.2,853.91 L1014.7,854.03 L1015.2,854.12 L1015.7,854.19 L1016.2,854.24 L1016.7,854.27 L1017.2,854.29 L1017.7,854.3 L1018.2,854.29 L1018.7,854.28 L1019.2,854.25 L1019.7,854.2 L1020.2,854.14 L1020.7,854.05 L1021.2,853.95 L1021.7,853.8 L1022.2,853.6 L1022.7,853.32 L1023.2,852.88 L1023.7,852.16 L1024.2,850.97 L1024.7,849.04 L1025.2,846.06 L1025.7,841.75 L1026.2,836.04 L1026.7,829.18 L1027.2,821.92 L1027.7,815.59 L1028.2,811.95 L1028.7,812.37 L1029.2,816.68 L1029.7,823.33 L1030.2,830.6 L1030.7,837.27 L1031.2,842.72 L1031.7,846.74 L1032.2,849.49 L1032.7,851.25 L1033.2,852.33 L1033.7,852.98 L1034.2,853.38 L1034.7,853.64 L1035.2,853.82 L1035.7,853.95 L1036.2,854.04 L1036.7,854.1 L1037.2,854.11 L1037.7,854.08 L1038.2,854 L1038.7,853.86 L1039.2,853.67 L1039.7,853.44 L1040.2,853.22 L1040.7,853.07 L1041.2,853.04 L1041.7,853.16 L1042.2,853.37 L1042.7,853.63 L1043.2,853.88 L1043.7,854.09 L1044.2,854.26 L1044.7,854.37 L1045.2,854.44 L1045.7,854.49 L1046.2,854.51 L1046.7,854.53 L1047.2,854.53 L1047.7,854.54 L1048.2,854.53 L1048.7,854.52 L1049.2,854.49 L1049.7,854.44 L1050.2,854.37 L1050.7,854.25 L1051.2,854.1 L1051.7,853.91 L1052.2,853.71 L1052.7,853.53 L1053.2,853.41 L1053.7,853.41 L1054.2,853.52 L1054.7,853.7 L1055.2,853.9 L1055.7,854.09 L1056.2,854.25 L1056.7,854.37 L1057.2,854.45 L1057.7,854.5 L1058.2,854.53 L1058.7,854.55 L1059.2,854.57 L1059.7,854.57 L1060.2,854.58 L1060.7,854.58 L1061.2,854.59 L1061.7,854.59 L1062.2,854.59 L1062.7,854.59 L1063.2,854.59 L1063.7,854.6 L1064.2,854.6 L1064.7,854.6 L1065.2,854.6 L1065.7,854.6 L1066.2,854.6 L1066.7,854.6 L1067.2,854.6 L1067.7,854.6 L1068.2,854.6 L1068.7,854.6 L1069.2,854.6 L1069.7,854.6 L1070.2,854.6 L1070.7,854.6 L1071.2,854.6 L1071.7,854.6 L1072.2,854.6 L1072.7,854.6 L1073.2,854.6 L1073.7,854.6 L1074.2,854.6 L1074.7,854.6 L1075.2,854.6 L1075.7,854.6 L1076.2,854.6 L1076.7,854.6 L1077.2,854.6 L1077.7,854.6 L1078.2,854.6 L1078.7,854.6 L1079.2,854.6 L1079.7,854.6 L1080.2,854.6 L1080.7,854.6 L1081.2,854.6 L1081.7,854.6 L1082.2,854.6 L1082.7,854.6 L1083.2,854.6 L1083.7,854.6 L1084.2,854.6 L1084.7,854.6 L1085.2,854.6 L1085.7,854.6 L1086.2,854.6 L1086.7,854.6 L1087.2,854.6 L1087.7,854.6 L1088.2,854.6 L1088.7,854.6 L1089.2,854.6 L1089.7,854.6 L1090.2,854.6 L1090.7,854.6 L1091.2,854.6 L1091.7,854.6 L1092.2,854.6 L1092.7,854.6 L1093.2,854.6 L1093.7,854.6 L1094.2,854.6 L1094.7,854.6 L1095.2,854.6 L1095.7,854.6 L1096.2,854.6 L1096.7,854.6 L1097.2,854.6 L1097.7,854.6 L1098.2,854.6 L1098.7,854.6 L1099.2,854.6 L1099.7,854.6 L1100.2,854.6 L1100.7,854.6 L1101.2,854.6 L1101.7,854.6 L1102.2,854.6 L1102.7,854.6 L1103.2,854.6 L1103.7,854.6 L1104.2,854.6 L1104.7,854.6 L1105.2,854.6 L1105.7,854.6 L1106.2,854.6 L1106.7,854.6 L1107.2,854.6 L1107.7,854.6 L1108.2,854.6 L1108.7,854.6 L1109.2,854.6 L1109.7,854.6 L1110.2,854.6 L1110.7,854.6 L1111.2,854.6 L1111.7,854.6 L1112.2,854.6 L1112.7,854.6 L1113.2,854.6 L1113.7,854.6 L1114.2,854.6 L1114.7,854.6 L1115.2,854.6 L1115.7,854.6 L1116.2,854.6 L1116.7,854.6 L1117.2,854.6 L1117.7,854.6 L1118.2,854.6 L1118.7,854.6 L1119.2,854.6 L1119.7,854.6 L1120.2,854.6 L1120.7,854.6 L1121.2,854.6 L1121.7,854.6 L1122.2,854.6 L1122.7,854.6 L1123.2,854.6 L1123.7,854.6 L1124.2,854.6 L1124.7,854.6 L1125.2,854.6 L1125.7,854.6 L1126.2,854.6 L1126.7,854.6 L1127.2,854.6 L1127.7,854.6 L1128.2,854.6 L1128.7,854.6 L1129.2,854.6 L1129.7,854.6 L1130.2,854.6 L1130.7,854.6 L1131.2,854.6 L1131.7,854.6 L1132.2,854.6 L1132.7,854.6 L1133.2,854.6 L1133.7,854.6 L1134.2,854.6 L1134.7,854.6 L1135.2,854.6 L1135.7,854.6 L1136.2,854.6 L1136.7,854.6 L1137.2,854.6 L1137.7,854.6 L1138.2,854.6 L1138.7,854.6 L1139.2,854.6 L1139.7,854.6 L1140.2,854.6 L1140.7,854.6 L1141.2,854.6 L1141.7,854.6 L1142.2,854.6 L1142.7,854.6 L1143.2,854.6 L1143.7,854.6 L1144.2,854.6 L1144.7,854.6 L1145.2,854.6 L1145.7,854.6 L1146.2,854.6 L1146.7,854.6 L1147.2,854.6 L1147.7,854.6 L1148.2,854.6 L1148.7,854.6 L1149.2,854.6 L1149.7,854.6 L1150.2,854.6 L1150.7,854.6" fill="none" stroke="#111" stroke-width="1.25" stroke-linejoin="round"/>
<path d="M896.7,853.52 L897.2,853.11 L897.7,852.44 L898.2,851.3 L898.7,849.41 L899.2,846.46 L899.7,842.21 L900.2,836.66 L900.7,830.21 L901.2,823.82 L901.7,819.06 L902.2,817.65 L902.7,820.21 L903.2,825.66 L903.7,832.21 L904.2,838.46 L904.7,843.64 L905.2,847.48 L905.7,850.08 L906.2,851.71 L906.7,852.68 L907.2,853.26 L907.7,853.61" fill="none" stroke="#90205a" stroke-width="1.4" stroke-linejoin="round"/>
<path d="M930.7,854.18 L931.2,853.99 L931.7,853.67 L932.2,853.08 L932.7,852.07 L933.2,850.48 L933.7,848.24 L934.2,845.48 L934.7,842.66 L935.2,840.59 L935.7,840.19 L936.2,841.68 L936.7,844.32 L937.2,847.18 L937.7,849.66 L938.2,851.51 L938.7,852.74 L939.2,853.47 L939.7,853.88 L940.2,854.11 L940.7,854.25" fill="none" stroke="#90205a" stroke-width="1.4" stroke-linejoin="round"/>
<path d="M1001.7,853.73 L1002.2,853.46 L1002.7,853.01 L1003.2,852.29 L1003.7,851.1 L1004.2,849.21 L1004.7,846.38 L1005.2,842.44 L1005.7,837.45 L1006.2,831.77 L1006.7,826.22 L1007.2,822.04 L1007.7,820.61 L1008.2,822.5 L1008.7,826.97 L1009.2,832.61 L1009.7,838.22 L1010.2,843.07 L1010.7,846.85 L1011.2,849.53 L1011.7,851.3 L1012.2,852.41 L1012.7,853.08 L1013.2,853.48 L1013.7,853.74" fill="none" stroke="#90205a" stroke-width="1.4" stroke-linejoin="round"/>
<path d="M1022.7,853.32 L1023.2,852.88 L1023.7,852.16 L1024.2,850.97 L1024.7,849.04 L1025.2,846.06 L1025.7,841.75 L1026.2,836.04 L1026.7,829.18 L1027.2,821.92 L1027.7,815.59 L1028.2,811.95 L1028.7,812.37 L1029.2,816.68 L1029.7,823.33 L1030.2,830.6 L1030.7,837.27 L1031.2,842.72 L1031.7,846.74 L1032.2,849.49 L1032.7,851.25 L1033.2,852.33 L1033.7,852.98 L1034.2,853.38" fill="none" stroke="#90205a" stroke-width="1.4" stroke-linejoin="round"/>
<text x="1061.7" y="305.5" font-size="17.4" font-weight="normal" font-style="normal" text-anchor="start" fill="#111" stroke="#111">i SC-BTG5-T318A<tspan font-weight="bold">+10+21</tspan></text>
<text x="1064" y="373.5" font-size="17.4" font-weight="normal" font-style="normal" text-anchor="start" fill="#111" stroke="#111">ii SC-BTG5-T318A+<tspan font-weight="bold">10</tspan></text>
<text x="1064" y="440.7" font-size="17.4" font-weight="normal" font-style="normal" text-anchor="start" fill="#111" stroke="#111">iii SC-BTG5-T318A<tspan font-weight="bold">+21</tspan></text>
<text x="1063.2" y="509.5" font-size="17.4" font-weight="normal" font-style="normal" text-anchor="start" fill="#111" stroke="#111">iv SC-BTG5-T318A</text>
<text x="1063.2" y="576" font-size="17.4" font-weight="normal" font-style="normal" text-anchor="start" fill="#111" stroke="#111">v SC-BTG5<tspan font-weight="bold">+10+21</tspan></text>
<text x="1063.2" y="644.3" font-size="17.4" font-weight="normal" font-style="normal" text-anchor="start" fill="#111" stroke="#111">vi SC-BTG5</text>
<text x="1063.2" y="711.8" font-size="17.4" font-weight="normal" font-style="normal" text-anchor="start" fill="#111" stroke="#111">vii SC<tspan font-weight="bold">+10+21</tspan></text>
<text x="1063.2" y="779.2" font-size="17.4" font-weight="normal" font-style="normal" text-anchor="start" fill="#111" stroke="#111">viii SC</text>
<text x="1063.2" y="846.6" font-size="17.4" font-weight="normal" font-style="normal" text-anchor="start" fill="#111" stroke="#111">ix Std. <tspan font-weight="bold">23a-d</tspan></text>
<line x1="586.1" y1="862.5" x2="1150.5" y2="862.5" stroke="#111" stroke-width="2.2"/>
<line x1="725.4" y1="862.5" x2="725.4" y2="859.5" stroke="#111" stroke-width="1.2"/>
<text x="725.4" y="877.2" font-size="16" font-weight="normal" font-style="normal" text-anchor="middle" fill="#111" stroke="#111">35</text>
<line x1="880.15" y1="862.5" x2="880.15" y2="859.5" stroke="#111" stroke-width="1.2"/>
<text x="880.15" y="877.2" font-size="16" font-weight="normal" font-style="normal" text-anchor="middle" fill="#111" stroke="#111">40</text>
<line x1="1034.9" y1="862.5" x2="1034.9" y2="859.5" stroke="#111" stroke-width="1.2"/>
<text x="1034.9" y="877.2" font-size="16" font-weight="normal" font-style="normal" text-anchor="middle" fill="#111" stroke="#111">45</text>
<line x1="648.02" y1="862.5" x2="648.02" y2="861" stroke="#111" stroke-width="1.0"/>
<line x1="802.77" y1="862.5" x2="802.77" y2="861" stroke="#111" stroke-width="1.0"/>
<line x1="957.52" y1="862.5" x2="957.52" y2="861" stroke="#111" stroke-width="1.0"/>
<line x1="1112.28" y1="862.5" x2="1112.28" y2="861" stroke="#111" stroke-width="1.0"/>
<text x="804" y="895.4" font-size="17.3" font-weight="normal" font-style="normal" text-anchor="start" fill="#111" stroke="#111">Retention time (min)</text>
<line x1="94.4" y1="472.35" x2="111.7" y2="480.82" stroke="#111" stroke-width="1.15" stroke-linecap="round"/>
<line x1="111.7" y1="480.82" x2="111.7" y2="497.78" stroke="#111" stroke-width="1.15" stroke-linecap="round"/>
<line x1="111.7" y1="497.78" x2="94.4" y2="506.25" stroke="#111" stroke-width="1.15" stroke-linecap="round"/>
<line x1="94.4" y1="506.25" x2="77.1" y2="497.78" stroke="#111" stroke-width="1.15" stroke-linecap="round"/>
<line x1="77.1" y1="497.78" x2="77.1" y2="480.82" stroke="#111" stroke-width="1.15" stroke-linecap="round"/>
<line x1="77.1" y1="480.82" x2="94.4" y2="472.35" stroke="#111" stroke-width="1.15" stroke-linecap="round"/>
<line x1="129" y1="472.35" x2="146.3" y2="480.82" stroke="#111" stroke-width="1.15" stroke-linecap="round"/>
<line x1="146.3" y1="480.82" x2="146.3" y2="497.78" stroke="#111" stroke-width="1.15" stroke-linecap="round"/>
<line x1="146.3" y1="497.78" x2="129" y2="506.25" stroke="#111" stroke-width="1.15" stroke-linecap="round"/>
<line x1="129" y1="506.25" x2="111.7" y2="497.78" stroke="#111" stroke-width="1.15" stroke-linecap="round"/>
<line x1="111.7" y1="497.78" x2="111.7" y2="480.82" stroke="#111" stroke-width="1.15" stroke-linecap="round"/>
<line x1="111.7" y1="480.82" x2="129" y2="472.35" stroke="#111" stroke-width="1.15" stroke-linecap="round"/>
<line x1="163.6" y1="472.35" x2="180.9" y2="480.82" stroke="#111" stroke-width="1.15" stroke-linecap="round"/>
<line x1="180.9" y1="480.82" x2="180.9" y2="497.78" stroke="#111" stroke-width="1.15" stroke-linecap="round"/>
<line x1="180.9" y1="497.78" x2="163.6" y2="506.25" stroke="#111" stroke-width="1.15" stroke-linecap="round"/>
<line x1="163.6" y1="506.25" x2="146.3" y2="497.78" stroke="#111" stroke-width="1.15" stroke-linecap="round"/>
<line x1="146.3" y1="497.78" x2="146.3" y2="480.82" stroke="#111" stroke-width="1.15" stroke-linecap="round"/>
<line x1="146.3" y1="480.82" x2="163.6" y2="472.35" stroke="#111" stroke-width="1.15" stroke-linecap="round"/>
<line x1="81.19" y1="482.16" x2="92.95" y2="476.4" stroke="#111" stroke-width="1.15" stroke-linecap="round"/>
<line x1="108.7" y1="483.54" x2="108.7" y2="495.06" stroke="#111" stroke-width="1.15" stroke-linecap="round"/>
<line x1="92.95" y1="502.2" x2="81.19" y2="496.44" stroke="#111" stroke-width="1.15" stroke-linecap="round"/>
<line x1="165.05" y1="476.4" x2="176.81" y2="482.16" stroke="#111" stroke-width="1.15" stroke-linecap="round"/>
<line x1="176.81" y1="496.44" x2="165.05" y2="502.2" stroke="#111" stroke-width="1.15" stroke-linecap="round"/>
<line x1="149.3" y1="495.06" x2="149.3" y2="483.54" stroke="#111" stroke-width="1.15" stroke-linecap="round"/>
<line x1="130.5" y1="472.35" x2="130.5" y2="459.35" stroke="#111" stroke-width="1.15" stroke-linecap="round"/>
<line x1="127.5" y1="472.35" x2="127.5" y2="459.35" stroke="#111" stroke-width="1.15" stroke-linecap="round"/>
<line x1="127.5" y1="506.25" x2="127.5" y2="518.75" stroke="#111" stroke-width="1.15" stroke-linecap="round"/>
<line x1="130.5" y1="506.25" x2="130.5" y2="518.75" stroke="#111" stroke-width="1.15" stroke-linecap="round"/>
<text x="129" y="455.05" font-size="12.4" font-weight="normal" font-style="normal" text-anchor="middle" fill="#111" stroke="none" transform="translate(129,455.05) scale(1.05,1) translate(-129,-455.05)">O</text>
<text x="129" y="529.75" font-size="12.4" font-weight="normal" font-style="normal" text-anchor="middle" fill="#111" stroke="none" transform="translate(129,529.75) scale(1.05,1) translate(-129,-529.75)">O</text>
<line x1="94.4" y1="472.35" x2="94.4" y2="458.85" stroke="#111" stroke-width="1.15" stroke-linecap="round"/>
<line x1="163.6" y1="472.35" x2="163.6" y2="458.85" stroke="#111" stroke-width="1.15" stroke-linecap="round"/>
<text x="89.34" y="455.05" font-size="12.4" font-weight="normal" font-style="normal" text-anchor="start" fill="#111" stroke="none" transform="translate(89.34,455.05) scale(1.05,1) translate(-89.34,-455.05)">OH</text>
<text x="158.54" y="455.05" font-size="12.4" font-weight="normal" font-style="normal" text-anchor="start" fill="#111" stroke="none" transform="translate(158.54,455.05) scale(1.05,1) translate(-158.54,-455.05)">OH</text>
<line x1="180.9" y1="497.78" x2="189.4" y2="502.68" stroke="#111" stroke-width="1.15" stroke-linecap="round"/>
<text x="191.7" y="509.98" font-size="12.4" font-weight="normal" font-style="normal" text-anchor="start" fill="#111" stroke="none" transform="translate(191.7,509.98) scale(1.05,1) translate(-191.7,-509.98)">OH</text>
<circle cx="59.8" cy="505.48" r="12.6" fill="url(#bg)"/>
<line x1="77.1" y1="497.78" x2="59.8" y2="506.28" stroke="#111" stroke-width="1.15" stroke-linecap="round"/>
<line x1="59.8" y1="506.28" x2="46.3" y2="498.28" stroke="#111" stroke-width="1.15" stroke-linecap="round"/>
<text x="47.8" y="500.88" font-size="12.4" font-weight="normal" font-style="normal" text-anchor="end" fill="#111" stroke="none" transform="translate(47.8,500.88) scale(1.05,1) translate(-47.8,-500.88)">HO</text>
<text x="132.5" y="547.5" font-size="16" font-weight="bold" font-style="normal" text-anchor="middle" fill="#111" stroke="#111">19</text>
<line x1="290.7" y1="472.35" x2="308" y2="480.82" stroke="#111" stroke-width="1.15" stroke-linecap="round"/>
<line x1="308" y1="480.82" x2="308" y2="497.78" stroke="#111" stroke-width="1.15" stroke-linecap="round"/>
<line x1="308" y1="497.78" x2="290.7" y2="506.25" stroke="#111" stroke-width="1.15" stroke-linecap="round"/>
<line x1="290.7" y1="506.25" x2="273.4" y2="497.78" stroke="#111" stroke-width="1.15" stroke-linecap="round"/>
<line x1="273.4" y1="497.78" x2="273.4" y2="480.82" stroke="#111" stroke-width="1.15" stroke-linecap="round"/>
<line x1="273.4" y1="480.82" x2="290.7" y2="472.35" stroke="#111" stroke-width="1.15" stroke-linecap="round"/>
<line x1="325.3" y1="472.35" x2="342.6" y2="480.82" stroke="#111" stroke-width="1.15" stroke-linecap="round"/>
<line x1="342.6" y1="480.82" x2="342.6" y2="497.78" stroke="#111" stroke-width="1.15" stroke-linecap="round"/>
<line x1="342.6" y1="497.78" x2="325.3" y2="506.25" stroke="#111" stroke-width="1.15" stroke-linecap="round"/>
<line x1="325.3" y1="506.25" x2="308" y2="497.78" stroke="#111" stroke-width="1.15" stroke-linecap="round"/>
<line x1="308" y1="497.78" x2="308" y2="480.82" stroke="#111" stroke-width="1.15" stroke-linecap="round"/>
<line x1="308" y1="480.82" x2="325.3" y2="472.35" stroke="#111" stroke-width="1.15" stroke-linecap="round"/>
<line x1="359.9" y1="472.35" x2="377.2" y2="480.82" stroke="#111" stroke-width="1.15" stroke-linecap="round"/>
<line x1="377.2" y1="480.82" x2="377.2" y2="497.78" stroke="#111" stroke-width="1.15" stroke-linecap="round"/>
<line x1="377.2" y1="497.78" x2="359.9" y2="506.25" stroke="#111" stroke-width="1.15" stroke-linecap="round"/>
<line x1="359.9" y1="506.25" x2="342.6" y2="497.78" stroke="#111" stroke-width="1.15" stroke-linecap="round"/>
<line x1="342.6" y1="497.78" x2="342.6" y2="480.82" stroke="#111" stroke-width="1.15" stroke-linecap="round"/>
<line x1="342.6" y1="480.82" x2="359.9" y2="472.35" stroke="#111" stroke-width="1.15" stroke-linecap="round"/>
<line x1="277.49" y1="482.16" x2="289.25" y2="476.4" stroke="#111" stroke-width="1.15" stroke-linecap="round"/>
<line x1="305" y1="483.54" x2="305" y2="495.06" stroke="#111" stroke-width="1.15" stroke-linecap="round"/>
<line x1="289.25" y1="502.2" x2="277.49" y2="496.44" stroke="#111" stroke-width="1.15" stroke-linecap="round"/>
<line x1="361.35" y1="476.4" x2="373.11" y2="482.16" stroke="#111" stroke-width="1.15" stroke-linecap="round"/>
<line x1="373.11" y1="496.44" x2="361.35" y2="502.2" stroke="#111" stroke-width="1.15" stroke-linecap="round"/>
<line x1="345.6" y1="495.06" x2="345.6" y2="483.54" stroke="#111" stroke-width="1.15" stroke-linecap="round"/>
<line x1="326.8" y1="472.35" x2="326.8" y2="459.35" stroke="#111" stroke-width="1.15" stroke-linecap="round"/>
<line x1="323.8" y1="472.35" x2="323.8" y2="459.35" stroke="#111" stroke-width="1.15" stroke-linecap="round"/>
<line x1="323.8" y1="506.25" x2="323.8" y2="518.75" stroke="#111" stroke-width="1.15" stroke-linecap="round"/>
<line x1="326.8" y1="506.25" x2="326.8" y2="518.75" stroke="#111" stroke-width="1.15" stroke-linecap="round"/>
<text x="325.3" y="455.05" font-size="12.4" font-weight="normal" font-style="normal" text-anchor="middle" fill="#111" stroke="none" transform="translate(325.3,455.05) scale(1.05,1) translate(-325.3,-455.05)">O</text>
<text x="325.3" y="529.75" font-size="12.4" font-weight="normal" font-style="normal" text-anchor="middle" fill="#111" stroke="none" transform="translate(325.3,529.75) scale(1.05,1) translate(-325.3,-529.75)">O</text>
<line x1="290.7" y1="472.35" x2="290.7" y2="458.85" stroke="#111" stroke-width="1.15" stroke-linecap="round"/>
<line x1="359.9" y1="472.35" x2="359.9" y2="458.85" stroke="#111" stroke-width="1.15" stroke-linecap="round"/>
<text x="285.64" y="455.05" font-size="12.4" font-weight="normal" font-style="normal" text-anchor="start" fill="#111" stroke="none" transform="translate(285.64,455.05) scale(1.05,1) translate(-285.64,-455.05)">OH</text>
<text x="354.84" y="455.05" font-size="12.4" font-weight="normal" font-style="normal" text-anchor="start" fill="#111" stroke="none" transform="translate(354.84,455.05) scale(1.05,1) translate(-354.84,-455.05)">OH</text>
<circle cx="256.1" cy="505.48" r="12.6" fill="url(#bg)"/>
<line x1="273.4" y1="497.78" x2="256.1" y2="506.28" stroke="#111" stroke-width="1.15" stroke-linecap="round"/>
<line x1="256.1" y1="506.28" x2="242.6" y2="498.28" stroke="#111" stroke-width="1.15" stroke-linecap="round"/>
<text x="244.1" y="500.88" font-size="12.4" font-weight="normal" font-style="normal" text-anchor="end" fill="#111" stroke="none" transform="translate(244.1,500.88) scale(1.05,1) translate(-244.1,-500.88)">HO</text>
<text x="323" y="547.5" font-size="16" font-weight="bold" font-style="normal" text-anchor="middle" fill="#111" stroke="#111">20</text>
<line x1="94.15" y1="600.15" x2="111.5" y2="608.75" stroke="#111" stroke-width="1.15" stroke-linecap="round"/>
<line x1="111.5" y1="608.75" x2="111.5" y2="625.95" stroke="#111" stroke-width="1.15" stroke-linecap="round"/>
<line x1="111.5" y1="625.95" x2="94.15" y2="634.55" stroke="#111" stroke-width="1.15" stroke-linecap="round"/>
<line x1="94.15" y1="634.55" x2="76.8" y2="625.95" stroke="#111" stroke-width="1.15" stroke-linecap="round"/>
<line x1="76.8" y1="625.95" x2="76.8" y2="608.75" stroke="#111" stroke-width="1.15" stroke-linecap="round"/>
<line x1="76.8" y1="608.75" x2="94.15" y2="600.15" stroke="#111" stroke-width="1.15" stroke-linecap="round"/>
<line x1="128.85" y1="600.15" x2="146.2" y2="608.75" stroke="#111" stroke-width="1.15" stroke-linecap="round"/>
<line x1="146.2" y1="608.75" x2="146.2" y2="625.95" stroke="#111" stroke-width="1.15" stroke-linecap="round"/>
<line x1="146.2" y1="625.95" x2="128.85" y2="634.55" stroke="#111" stroke-width="1.15" stroke-linecap="round"/>
<line x1="128.85" y1="634.55" x2="111.5" y2="625.95" stroke="#111" stroke-width="1.15" stroke-linecap="round"/>
<line x1="111.5" y1="625.95" x2="111.5" y2="608.75" stroke="#111" stroke-width="1.15" stroke-linecap="round"/>
<line x1="111.5" y1="608.75" x2="128.85" y2="600.15" stroke="#111" stroke-width="1.15" stroke-linecap="round"/>
<line x1="163.55" y1="600.15" x2="180.9" y2="608.75" stroke="#111" stroke-width="1.15" stroke-linecap="round"/>
<line x1="180.9" y1="608.75" x2="180.9" y2="625.95" stroke="#111" stroke-width="1.15" stroke-linecap="round"/>
<line x1="180.9" y1="625.95" x2="163.55" y2="634.55" stroke="#111" stroke-width="1.15" stroke-linecap="round"/>
<line x1="163.55" y1="634.55" x2="146.2" y2="625.95" stroke="#111" stroke-width="1.15" stroke-linecap="round"/>
<line x1="146.2" y1="625.95" x2="146.2" y2="608.75" stroke="#111" stroke-width="1.15" stroke-linecap="round"/>
<line x1="146.2" y1="608.75" x2="163.55" y2="600.15" stroke="#111" stroke-width="1.15" stroke-linecap="round"/>
<line x1="80.91" y1="610.06" x2="92.71" y2="604.21" stroke="#111" stroke-width="1.15" stroke-linecap="round"/>
<line x1="108.5" y1="611.5" x2="108.5" y2="623.2" stroke="#111" stroke-width="1.15" stroke-linecap="round"/>
<line x1="92.71" y1="630.49" x2="80.91" y2="624.64" stroke="#111" stroke-width="1.15" stroke-linecap="round"/>
<line x1="164.99" y1="604.21" x2="176.79" y2="610.06" stroke="#111" stroke-width="1.15" stroke-linecap="round"/>
<line x1="176.79" y1="624.64" x2="164.99" y2="630.49" stroke="#111" stroke-width="1.15" stroke-linecap="round"/>
<line x1="149.2" y1="623.2" x2="149.2" y2="611.5" stroke="#111" stroke-width="1.15" stroke-linecap="round"/>
<line x1="130.35" y1="600.15" x2="130.35" y2="587.15" stroke="#111" stroke-width="1.15" stroke-linecap="round"/>
<line x1="127.35" y1="600.15" x2="127.35" y2="587.15" stroke="#111" stroke-width="1.15" stroke-linecap="round"/>
<line x1="127.35" y1="634.55" x2="127.35" y2="647.05" stroke="#111" stroke-width="1.15" stroke-linecap="round"/>
<line x1="130.35" y1="634.55" x2="130.35" y2="647.05" stroke="#111" stroke-width="1.15" stroke-linecap="round"/>
<text x="128.85" y="582.85" font-size="12.4" font-weight="normal" font-style="normal" text-anchor="middle" fill="#111" stroke="none" transform="translate(128.85,582.85) scale(1.05,1) translate(-128.85,-582.85)">O</text>
<text x="128.85" y="658.05" font-size="12.4" font-weight="normal" font-style="normal" text-anchor="middle" fill="#111" stroke="none" transform="translate(128.85,658.05) scale(1.05,1) translate(-128.85,-658.05)">O</text>
<line x1="94.15" y1="600.15" x2="94.15" y2="586.65" stroke="#111" stroke-width="1.15" stroke-linecap="round"/>
<line x1="163.55" y1="600.15" x2="163.55" y2="586.65" stroke="#111" stroke-width="1.15" stroke-linecap="round"/>
<text x="89.09" y="582.85" font-size="12.4" font-weight="normal" font-style="normal" text-anchor="start" fill="#111" stroke="none" transform="translate(89.09,582.85) scale(1.05,1) translate(-89.09,-582.85)">OH</text>
<text x="158.49" y="582.85" font-size="12.4" font-weight="normal" font-style="normal" text-anchor="start" fill="#111" stroke="none" transform="translate(158.49,582.85) scale(1.05,1) translate(-158.49,-582.85)">OH</text>
<line x1="163.55" y1="634.55" x2="163.55" y2="647.55" stroke="#111" stroke-width="1.15" stroke-linecap="round"/>
<text x="158.49" y="658.05" font-size="12.4" font-weight="normal" font-style="normal" text-anchor="start" fill="#111" stroke="none" transform="translate(158.49,658.05) scale(1.05,1) translate(-158.49,-658.05)">OH</text>
<circle cx="59.5" cy="633.65" r="12.6" fill="url(#bg)"/>
<line x1="76.8" y1="625.95" x2="59.5" y2="634.45" stroke="#111" stroke-width="1.15" stroke-linecap="round"/>
<line x1="59.5" y1="634.45" x2="46" y2="626.45" stroke="#111" stroke-width="1.15" stroke-linecap="round"/>
<text x="47.5" y="629.05" font-size="12.4" font-weight="normal" font-style="normal" text-anchor="end" fill="#111" stroke="none" transform="translate(47.5,629.05) scale(1.05,1) translate(-47.5,-629.05)">HO</text>
<text x="121.9" y="683.3" font-size="16" font-weight="bold" font-style="normal" text-anchor="middle" fill="#111" stroke="#111">21</text>
<line x1="660.4" y1="88.5" x2="677.7" y2="97.23" stroke="#111" stroke-width="1.15" stroke-linecap="round"/>
<line x1="677.7" y1="97.23" x2="677.7" y2="114.67" stroke="#111" stroke-width="1.15" stroke-linecap="round"/>
<line x1="677.7" y1="114.67" x2="660.4" y2="123.4" stroke="#111" stroke-width="1.15" stroke-linecap="round"/>
<line x1="660.4" y1="123.4" x2="643.1" y2="114.67" stroke="#111" stroke-width="1.15" stroke-linecap="round"/>
<line x1="643.1" y1="114.67" x2="643.1" y2="97.23" stroke="#111" stroke-width="1.15" stroke-linecap="round"/>
<line x1="643.1" y1="97.23" x2="660.4" y2="88.5" stroke="#111" stroke-width="1.15" stroke-linecap="round"/>
<line x1="695" y1="88.5" x2="712.3" y2="97.23" stroke="#111" stroke-width="1.15" stroke-linecap="round"/>
<line x1="712.3" y1="97.23" x2="712.3" y2="114.67" stroke="#111" stroke-width="1.15" stroke-linecap="round"/>
<line x1="712.3" y1="114.67" x2="695" y2="123.4" stroke="#111" stroke-width="1.15" stroke-linecap="round"/>
<line x1="695" y1="123.4" x2="677.7" y2="114.67" stroke="#111" stroke-width="1.15" stroke-linecap="round"/>
<line x1="677.7" y1="114.67" x2="677.7" y2="97.23" stroke="#111" stroke-width="1.15" stroke-linecap="round"/>
<line x1="677.7" y1="97.23" x2="695" y2="88.5" stroke="#111" stroke-width="1.15" stroke-linecap="round"/>
<line x1="729.6" y1="88.5" x2="746.9" y2="97.23" stroke="#111" stroke-width="1.15" stroke-linecap="round"/>
<line x1="746.9" y1="97.23" x2="746.9" y2="114.67" stroke="#111" stroke-width="1.15" stroke-linecap="round"/>
<line x1="746.9" y1="114.67" x2="729.6" y2="123.4" stroke="#111" stroke-width="1.15" stroke-linecap="round"/>
<line x1="729.6" y1="123.4" x2="712.3" y2="114.67" stroke="#111" stroke-width="1.15" stroke-linecap="round"/>
<line x1="712.3" y1="114.67" x2="712.3" y2="97.23" stroke="#111" stroke-width="1.15" stroke-linecap="round"/>
<line x1="712.3" y1="97.23" x2="729.6" y2="88.5" stroke="#111" stroke-width="1.15" stroke-linecap="round"/>
<line x1="647.22" y1="98.51" x2="658.98" y2="92.57" stroke="#111" stroke-width="1.15" stroke-linecap="round"/>
<line x1="674.7" y1="100.02" x2="674.7" y2="111.88" stroke="#111" stroke-width="1.15" stroke-linecap="round"/>
<line x1="658.98" y1="119.33" x2="647.22" y2="113.39" stroke="#111" stroke-width="1.15" stroke-linecap="round"/>
<line x1="731.02" y1="92.57" x2="742.78" y2="98.51" stroke="#111" stroke-width="1.15" stroke-linecap="round"/>
<line x1="742.78" y1="113.39" x2="731.02" y2="119.33" stroke="#111" stroke-width="1.15" stroke-linecap="round"/>
<line x1="715.3" y1="111.88" x2="715.3" y2="100.02" stroke="#111" stroke-width="1.15" stroke-linecap="round"/>
<line x1="696.5" y1="88.5" x2="696.5" y2="75.5" stroke="#111" stroke-width="1.15" stroke-linecap="round"/>
<line x1="693.5" y1="88.5" x2="693.5" y2="75.5" stroke="#111" stroke-width="1.15" stroke-linecap="round"/>
<line x1="693.5" y1="123.4" x2="693.5" y2="135.9" stroke="#111" stroke-width="1.15" stroke-linecap="round"/>
<line x1="696.5" y1="123.4" x2="696.5" y2="135.9" stroke="#111" stroke-width="1.15" stroke-linecap="round"/>
<text x="695" y="71.2" font-size="12.4" font-weight="normal" font-style="normal" text-anchor="middle" fill="#111" stroke="none" transform="translate(695,71.2) scale(1.05,1) translate(-695,-71.2)">O</text>
<text x="695" y="146.9" font-size="12.4" font-weight="normal" font-style="normal" text-anchor="middle" fill="#111" stroke="none" transform="translate(695,146.9) scale(1.05,1) translate(-695,-146.9)">O</text>
<line x1="660.4" y1="88.5" x2="660.4" y2="75" stroke="#111" stroke-width="1.15" stroke-linecap="round"/>
<line x1="729.6" y1="88.5" x2="729.6" y2="75" stroke="#111" stroke-width="1.15" stroke-linecap="round"/>
<text x="655.34" y="71.2" font-size="12.4" font-weight="normal" font-style="normal" text-anchor="start" fill="#111" stroke="none" transform="translate(655.34,71.2) scale(1.05,1) translate(-655.34,-71.2)">OH</text>
<text x="724.54" y="71.2" font-size="12.4" font-weight="normal" font-style="normal" text-anchor="start" fill="#111" stroke="none" transform="translate(724.54,71.2) scale(1.05,1) translate(-724.54,-71.2)">OH</text>
<line x1="729.6" y1="123.4" x2="729.6" y2="136.4" stroke="#111" stroke-width="1.15" stroke-linecap="round"/>
<text x="724.54" y="146.9" font-size="12.4" font-weight="normal" font-style="normal" text-anchor="start" fill="#111" stroke="none" transform="translate(724.54,146.9) scale(1.05,1) translate(-724.54,-146.9)">OH</text>
<line x1="643.1" y1="114.67" x2="625.8" y2="123.17" stroke="#111" stroke-width="1.15" stroke-linecap="round"/>
<line x1="625.8" y1="123.17" x2="612.3" y2="115.17" stroke="#111" stroke-width="1.15" stroke-linecap="round"/>
<text x="613.8" y="117.77" font-size="12.4" font-weight="normal" font-style="normal" text-anchor="end" fill="#111" stroke="none" transform="translate(613.8,117.77) scale(1.05,1) translate(-613.8,-117.77)">HO</text>
<text x="684.7" y="169" font-size="16" font-weight="bold" font-style="normal" text-anchor="middle" fill="#111" stroke="#111">21</text>
<rect x="753.2" y="101.7" width="14.8" height="3.2" fill="#111"/><rect x="759.0" y="95.9" width="3.2" height="14.8" fill="#111"/>
<line x1="912.3" y1="121" x2="1000" y2="121" stroke="#231815" stroke-width="2.0"/>
<path d="M1017.9,121 L997.9,112.6 L1001.5,121 L997.9,129.7 Z" fill="#231815"/>
<text x="913.3" y="108.2" font-size="17.2" font-weight="bold" font-style="normal" text-anchor="start" fill="#a8458f" stroke="#a8458f">BTG5-T318A</text>
<line x1="815.9" y1="84.6" x2="833" y2="93.4" stroke="#1f1f8f" stroke-width="1.15" stroke-linecap="round"/>
<line x1="833" y1="93.4" x2="833" y2="112.4" stroke="#1f1f8f" stroke-width="1.15" stroke-linecap="round"/>
<line x1="833" y1="112.4" x2="815.9" y2="120.7" stroke="#1f1f8f" stroke-width="1.15" stroke-linecap="round"/>
<line x1="815.9" y1="120.7" x2="798.7" y2="112.4" stroke="#1f1f8f" stroke-width="1.15" stroke-linecap="round"/>
<line x1="798.7" y1="112.4" x2="798.7" y2="93.4" stroke="#1f1f8f" stroke-width="1.15" stroke-linecap="round"/>
<line x1="798.7" y1="93.4" x2="815.9" y2="84.6" stroke="#1f1f8f" stroke-width="1.15" stroke-linecap="round"/>
<line x1="833" y1="93.4" x2="850.2" y2="84.6" stroke="#1f1f8f" stroke-width="1.15" stroke-linecap="round"/>
<line x1="850.2" y1="84.6" x2="867.9" y2="93.4" stroke="#1f1f8f" stroke-width="1.15" stroke-linecap="round"/>
<line x1="867.9" y1="93.4" x2="867.9" y2="112.4" stroke="#1f1f8f" stroke-width="1.15" stroke-linecap="round"/>
<line x1="867.9" y1="93.4" x2="885.7" y2="84.6" stroke="#1f1f8f" stroke-width="1.15" stroke-linecap="round"/>
<line x1="885.7" y1="84.6" x2="902.8" y2="93.4" stroke="#1f1f8f" stroke-width="1.15" stroke-linecap="round"/>
<line x1="902.8" y1="93.4" x2="902.8" y2="112.4" stroke="#1f1f8f" stroke-width="1.15" stroke-linecap="round"/>
<line x1="902.8" y1="112.4" x2="885.7" y2="120.7" stroke="#1f1f8f" stroke-width="1.15" stroke-linecap="round"/>
<line x1="885.7" y1="120.7" x2="867.9" y2="112.4" stroke="#1f1f8f" stroke-width="1.15" stroke-linecap="round"/>
<line x1="817.26" y1="88.68" x2="828.89" y2="94.66" stroke="#1f1f8f" stroke-width="1.15" stroke-linecap="round"/>
<line x1="828.95" y1="111.03" x2="817.33" y2="116.67" stroke="#1f1f8f" stroke-width="1.15" stroke-linecap="round"/>
<line x1="801.7" y1="109.36" x2="801.7" y2="96.44" stroke="#1f1f8f" stroke-width="1.15" stroke-linecap="round"/>
<line x1="872.08" y1="94.68" x2="884.18" y2="88.7" stroke="#1f1f8f" stroke-width="1.15" stroke-linecap="round"/>
<line x1="851.7" y1="84.6" x2="851.7" y2="73.5" stroke="#1f1f8f" stroke-width="1.15" stroke-linecap="round"/>
<line x1="848.7" y1="84.6" x2="848.7" y2="73.5" stroke="#1f1f8f" stroke-width="1.15" stroke-linecap="round"/>
<line x1="815.9" y1="84.6" x2="815.9" y2="73.9" stroke="#1f1f8f" stroke-width="1.15" stroke-linecap="round"/>
<line x1="885.7" y1="84.6" x2="885.7" y2="73.9" stroke="#1f1f8f" stroke-width="1.15" stroke-linecap="round"/>
<line x1="798.7" y1="93.4" x2="785.1" y2="86.3" stroke="#1f1f8f" stroke-width="1.15" stroke-linecap="round"/>
<line x1="798.7" y1="112.4" x2="781" y2="120.7" stroke="#1f1f8f" stroke-width="1.15" stroke-linecap="round"/>
<line x1="833" y1="112.4" x2="845.4" y2="117.7" stroke="#1f1f8f" stroke-width="1.15" stroke-linecap="round"/>
<line x1="855.5" y1="117.4" x2="867.9" y2="112.4" stroke="#1f1f8f" stroke-width="1.15" stroke-linecap="round"/>
<line x1="867.99" y1="114" x2="867.66" y2="113.98" stroke="#1f1f8f" stroke-width="0.9"/>
<line x1="868.17" y1="117.2" x2="867.18" y2="117.15" stroke="#1f1f8f" stroke-width="0.9"/>
<line x1="868.36" y1="120.4" x2="866.69" y2="120.32" stroke="#1f1f8f" stroke-width="0.9"/>
<line x1="868.54" y1="123.6" x2="866.21" y2="123.49" stroke="#1f1f8f" stroke-width="0.9"/>
<line x1="868.72" y1="126.8" x2="865.73" y2="126.65" stroke="#1f1f8f" stroke-width="0.9"/>
<line x1="868.91" y1="129.99" x2="865.24" y2="129.82" stroke="#1f1f8f" stroke-width="0.9"/>
<line x1="885.88" y1="121.98" x2="885.53" y2="121.98" stroke="#1f1f8f" stroke-width="0.9"/>
<line x1="886.23" y1="124.54" x2="885.18" y2="124.54" stroke="#1f1f8f" stroke-width="0.9"/>
<line x1="886.58" y1="127.1" x2="884.83" y2="127.1" stroke="#1f1f8f" stroke-width="0.9"/>
<line x1="886.93" y1="129.66" x2="884.48" y2="129.66" stroke="#1f1f8f" stroke-width="0.9"/>
<line x1="887.28" y1="132.22" x2="884.12" y2="132.22" stroke="#1f1f8f" stroke-width="0.9"/>
<text x="811.1" y="69.3" font-size="12.4" font-weight="normal" font-style="normal" text-anchor="start" fill="#1f1f8f" stroke="none" transform="translate(811.1,69.3) scale(1.05,1) translate(-811.1,-69.3)">OH</text>
<text x="850.4" y="69.3" font-size="12.4" font-weight="normal" font-style="normal" text-anchor="middle" fill="#1f1f8f" stroke="none" transform="translate(850.4,69.3) scale(1.05,1) translate(-850.4,-69.3)">O</text>
<text x="880.3" y="69.3" font-size="12.4" font-weight="normal" font-style="normal" text-anchor="start" fill="#1f1f8f" stroke="none" transform="translate(880.3,69.3) scale(1.05,1) translate(-880.3,-69.3)">OH</text>
<text x="770.3" y="87.6" font-size="12.4" font-weight="normal" font-style="normal" text-anchor="start" fill="#1f1f8f" stroke="none" transform="translate(770.3,87.6) scale(1.05,1) translate(-770.3,-87.6)">Cl</text>
<text x="850.2" y="123.6" font-size="12.4" font-weight="normal" font-style="normal" text-anchor="middle" fill="#1f1f8f" stroke="none" transform="translate(850.2,123.6) scale(1.05,1) translate(-850.2,-123.6)">O</text>
<text x="818.8" y="143.1" font-size="12.4" font-weight="normal" font-style="normal" text-anchor="start" fill="#1f1f8f" stroke="none" transform="translate(818.8,143.1) scale(1.091475,1) translate(-818.8,-143.1)">H<tspan dy="2.8" font-size="9">3</tspan><tspan dy="-2.8">CO</tspan><tspan dy="2.8" font-size="9">2</tspan><tspan dy="-2.8">C</tspan></text>
<text x="880.3" y="143.1" font-size="12.4" font-weight="normal" font-style="normal" text-anchor="start" fill="#1f1f8f" stroke="none" transform="translate(880.3,143.1) scale(1.05,1) translate(-880.3,-143.1)">OH</text>
<text x="852.5" y="169" font-size="16" font-weight="bold" font-style="normal" text-anchor="middle" fill="#111" stroke="#111">10</text>
<circle cx="1095.7" cy="100.9" r="8.7" fill="url(#bg)"/>
<circle cx="1090.6" cy="118.9" r="8.5" fill="url(#bg)"/>
<line x1="1095.7" y1="44" x2="1114.4" y2="36.8" stroke="#1f1f8f" stroke-width="1.15" stroke-linecap="round"/>
<line x1="1114.4" y1="36.8" x2="1131.7" y2="46.1" stroke="#1f1f8f" stroke-width="1.15" stroke-linecap="round"/>
<line x1="1131.7" y1="46.1" x2="1131" y2="65.6" stroke="#1f1f8f" stroke-width="1.15" stroke-linecap="round"/>
<line x1="1095.7" y1="44" x2="1094.3" y2="63.4" stroke="#1f1f8f" stroke-width="3.4" stroke-linecap="round"/>
<line x1="1094.3" y1="63.4" x2="1112.3" y2="73.5" stroke="#1f1f8f" stroke-width="3.4" stroke-linecap="round"/>
<line x1="1112.3" y1="73.5" x2="1131" y2="65.6" stroke="#1f1f8f" stroke-width="3.4" stroke-linecap="round"/>
<line x1="1099.77" y1="45.65" x2="1112.49" y2="40.75" stroke="#1f1f8f" stroke-width="1.15" stroke-linecap="round"/>
<line x1="1128.59" y1="49.11" x2="1128.11" y2="62.37" stroke="#1f1f8f" stroke-width="1.15" stroke-linecap="round"/>
<line x1="1110.89" y1="69.27" x2="1098.65" y2="62.4" stroke="#1f1f8f" stroke-width="1.15" stroke-linecap="round"/>
<line x1="1114.4" y1="36.8" x2="1115.2" y2="25.5" stroke="#1f1f8f" stroke-width="1.15" stroke-linecap="round"/>
<line x1="1131.7" y1="46.1" x2="1149.8" y2="36" stroke="#111" stroke-width="1.15" stroke-linecap="round"/>
<line x1="1095.7" y1="44" x2="1084.9" y2="38.2" stroke="#1f1f8f" stroke-width="1.15" stroke-linecap="round"/>
<line x1="1094.3" y1="63.4" x2="1075.5" y2="71.4" stroke="#1f1f8f" stroke-width="1.15" stroke-linecap="round"/>
<line x1="1076.18" y1="70.06" x2="1066.18" y2="64.96" stroke="#1f1f8f" stroke-width="1.15" stroke-linecap="round"/>
<line x1="1074.82" y1="72.74" x2="1064.82" y2="67.64" stroke="#1f1f8f" stroke-width="1.15" stroke-linecap="round"/>
<line x1="1075.5" y1="71.4" x2="1074.1" y2="90.1" stroke="#1f1f8f" stroke-width="1.15" stroke-linecap="round"/>
<line x1="1074.1" y1="90.1" x2="1055.3" y2="98" stroke="#1f1f8f" stroke-width="1.15" stroke-linecap="round"/>
<line x1="1055.3" y1="98" x2="1054.6" y2="115.3" stroke="#1f1f8f" stroke-width="1.15" stroke-linecap="round"/>
<line x1="1054.6" y1="115.3" x2="1071.2" y2="125.4" stroke="#1f1f8f" stroke-width="1.15" stroke-linecap="round"/>
<line x1="1071.2" y1="125.4" x2="1090.6" y2="119.7" stroke="#1f1f8f" stroke-width="1.15" stroke-linecap="round"/>
<line x1="1090.6" y1="119.7" x2="1092.1" y2="99.5" stroke="#1f1f8f" stroke-width="1.15" stroke-linecap="round"/>
<line x1="1092.1" y1="99.5" x2="1074.1" y2="90.1" stroke="#1f1f8f" stroke-width="1.15" stroke-linecap="round"/>
<line x1="1072.25" y1="94.13" x2="1059.47" y2="99.5" stroke="#1f1f8f" stroke-width="1.15" stroke-linecap="round"/>
<line x1="1055.3" y1="98" x2="1044.5" y2="91.6" stroke="#1f1f8f" stroke-width="1.15" stroke-linecap="round"/>
<line x1="1092.1" y1="99.5" x2="1102.9" y2="106" stroke="#1f1f8f" stroke-width="1.15" stroke-linecap="round"/>
<line x1="1112.3" y1="73.5" x2="1112.3" y2="85.1" stroke="#1f1f8f" stroke-width="1.15" stroke-linecap="round"/>
<line x1="1092.1" y1="99.5" x2="1105.5" y2="94.5" stroke="#1f1f8f" stroke-width="1.15" stroke-linecap="round"/>
<line x1="1090.6" y1="119.7" x2="1098.6" y2="124" stroke="#1f1f8f" stroke-width="1.15" stroke-linecap="round"/>
<text x="1123.8" y="20.2" font-size="12.4" font-weight="normal" font-style="normal" text-anchor="end" fill="#1f1f8f" stroke="none" transform="translate(1123.8,20.2) scale(1.05,1) translate(-1123.8,-20.2)">Cl</text>
<text x="1083.4" y="36.8" font-size="12.4" font-weight="normal" font-style="normal" text-anchor="end" fill="#1f1f8f" stroke="none" transform="translate(1083.4,36.8) scale(1.05,1) translate(-1083.4,-36.8)">HO</text>
<text x="1058.2" y="63.4" font-size="12.4" font-weight="normal" font-style="normal" text-anchor="middle" fill="#1f1f8f" stroke="none" transform="translate(1058.2,63.4) scale(1.05,1) translate(-1058.2,-63.4)">O</text>
<text x="1043.1" y="90.1" font-size="12.4" font-weight="normal" font-style="normal" text-anchor="end" fill="#1f1f8f" stroke="none" transform="translate(1043.1,90.1) scale(1.05,1) translate(-1043.1,-90.1)">HO</text>
<text x="1110.1" y="93.7" font-size="12.4" font-weight="normal" font-style="normal" text-anchor="middle" fill="#1f1f8f" stroke="none" transform="translate(1110.1,93.7) scale(1.05,1) translate(-1110.1,-93.7)">O</text>
<text x="1105.1" y="113.2" font-size="12.4" font-weight="normal" font-style="normal" text-anchor="start" fill="#1f1f8f" stroke="none" transform="translate(1105.1,113.2) scale(1.1550000000000002,1) translate(-1105.1,-113.2)">CO<tspan dy="2.8" font-size="9">2</tspan><tspan dy="-2.8">CH</tspan><tspan dy="2.8" font-size="9">3</tspan></text>
<text x="1102.9" y="129.8" font-size="12.4" font-weight="normal" font-style="normal" text-anchor="start" fill="#1f1f8f" stroke="none" transform="translate(1102.9,129.8) scale(1.05,1) translate(-1102.9,-129.8)">OH</text>
<line x1="1206.8" y1="127.8" x2="1185.8" y2="132.1" stroke="#111" stroke-width="1.15" stroke-linecap="round"/>
<line x1="1185.8" y1="132.1" x2="1171.9" y2="118.8" stroke="#111" stroke-width="1.15" stroke-linecap="round"/>
<line x1="1171.9" y1="118.8" x2="1176.9" y2="99.4" stroke="#111" stroke-width="1.15" stroke-linecap="round"/>
<line x1="1206.8" y1="127.8" x2="1221.7" y2="141.7" stroke="#111" stroke-width="1.15" stroke-linecap="round"/>
<line x1="1221.7" y1="141.7" x2="1216.8" y2="159.7" stroke="#111" stroke-width="1.15" stroke-linecap="round"/>
<line x1="1216.8" y1="159.7" x2="1195.8" y2="163.7" stroke="#111" stroke-width="1.15" stroke-linecap="round"/>
<line x1="1195.8" y1="163.7" x2="1180.9" y2="150.7" stroke="#111" stroke-width="1.15" stroke-linecap="round"/>
<line x1="1180.9" y1="150.7" x2="1185.8" y2="132.1" stroke="#111" stroke-width="1.15" stroke-linecap="round"/>
<line x1="1216.8" y1="159.7" x2="1230.7" y2="170.6" stroke="#111" stroke-width="1.15" stroke-linecap="round"/>
<line x1="1230.7" y1="170.6" x2="1226.7" y2="189.6" stroke="#111" stroke-width="1.15" stroke-linecap="round"/>
<line x1="1226.7" y1="189.6" x2="1204.8" y2="194.6" stroke="#111" stroke-width="1.15" stroke-linecap="round"/>
<line x1="1204.8" y1="194.6" x2="1190.8" y2="181.6" stroke="#111" stroke-width="1.15" stroke-linecap="round"/>
<line x1="1190.8" y1="181.6" x2="1195.8" y2="163.7" stroke="#111" stroke-width="1.15" stroke-linecap="round"/>
<line x1="1176.9" y1="99.4" x2="1197.8" y2="94.8" stroke="#111" stroke-width="3.3" stroke-linecap="round"/>
<line x1="1197.8" y1="94.8" x2="1212.8" y2="108.8" stroke="#111" stroke-width="3.3" stroke-linecap="round"/>
<line x1="1212.8" y1="108.8" x2="1206.8" y2="127.8" stroke="#111" stroke-width="3.3" stroke-linecap="round"/>
<line x1="1180.89" y1="101.59" x2="1195.1" y2="98.47" stroke="#111" stroke-width="1.15" stroke-linecap="round"/>
<line x1="1208.98" y1="110.94" x2="1204.9" y2="123.86" stroke="#111" stroke-width="1.15" stroke-linecap="round"/>
<line x1="1185.65" y1="127.8" x2="1176.2" y2="118.76" stroke="#111" stroke-width="1.15" stroke-linecap="round"/>
<line x1="1227.12" y1="173.02" x2="1224.4" y2="185.94" stroke="#111" stroke-width="1.15" stroke-linecap="round"/>
<line x1="1204.6" y1="190.32" x2="1195.08" y2="181.48" stroke="#111" stroke-width="1.15" stroke-linecap="round"/>
<line x1="1214" y1="163.29" x2="1199.72" y2="166.01" stroke="#111" stroke-width="1.15" stroke-linecap="round"/>
<line x1="1197.8" y1="94.8" x2="1202.8" y2="75.9" stroke="#111" stroke-width="1.15" stroke-linecap="round"/>
<line x1="1202.8" y1="75.9" x2="1196.8" y2="66.5" stroke="#111" stroke-width="1.15" stroke-linecap="round"/>
<text x="1197.8" y="62.9" font-size="12.4" font-weight="normal" font-style="normal" text-anchor="end" fill="#111" stroke="none" transform="translate(1197.8,62.9) scale(1.05,1) translate(-1197.8,-62.9)">HO</text>
<line x1="1171.9" y1="118.8" x2="1159.9" y2="121.8" stroke="#111" stroke-width="1.15" stroke-linecap="round"/>
<text x="1157.9" y="125.8" font-size="12.4" font-weight="normal" font-style="normal" text-anchor="end" fill="#111" stroke="none" transform="translate(1157.9,125.8) scale(1.05,1) translate(-1157.9,-125.8)">HO</text>
<line x1="1180.51" y1="149.25" x2="1169.51" y2="152.25" stroke="#111" stroke-width="1.15" stroke-linecap="round"/>
<line x1="1181.29" y1="152.15" x2="1170.29" y2="155.15" stroke="#111" stroke-width="1.15" stroke-linecap="round"/>
<text x="1160.9" y="158.7" font-size="12.4" font-weight="normal" font-style="normal" text-anchor="middle" fill="#111" stroke="none" transform="translate(1160.9,158.7) scale(1.05,1) translate(-1160.9,-158.7)">O</text>
<line x1="1222.14" y1="143.13" x2="1235.14" y2="139.13" stroke="#111" stroke-width="1.15" stroke-linecap="round"/>
<line x1="1221.26" y1="140.27" x2="1234.26" y2="136.27" stroke="#111" stroke-width="1.15" stroke-linecap="round"/>
<text x="1241.7" y="138.7" font-size="12.4" font-weight="normal" font-style="normal" text-anchor="middle" fill="#111" stroke="none" transform="translate(1241.7,138.7) scale(1.05,1) translate(-1241.7,-138.7)">O</text>
<line x1="1230.7" y1="170.6" x2="1244.7" y2="167.6" stroke="#111" stroke-width="1.15" stroke-linecap="round"/>
<text x="1246.7" y="170.6" font-size="12.4" font-weight="normal" font-style="normal" text-anchor="start" fill="#111" stroke="none" transform="translate(1246.7,170.6) scale(1.05,1) translate(-1246.7,-170.6)">OH</text>
<line x1="1190.8" y1="181.6" x2="1176.9" y2="184.6" stroke="#111" stroke-width="1.15" stroke-linecap="round"/>
<text x="1174.9" y="189.6" font-size="12.4" font-weight="normal" font-style="normal" text-anchor="end" fill="#111" stroke="none" transform="translate(1174.9,189.6) scale(1.05,1) translate(-1174.9,-189.6)">HO</text>
<line x1="1131" y1="65.6" x2="1176.9" y2="99.4" stroke="#d83a3a" stroke-width="1.0" stroke-linecap="round"/>
<text x="1170.8" y="211.5" font-size="16.5" font-weight="bold" font-style="normal" text-anchor="middle" fill="#111" stroke="#111">23a-d</text>
<line x1="399.2" y1="548.3" x2="417.9" y2="541" stroke="#111" stroke-width="1.15" stroke-linecap="round"/>
<line x1="417.9" y1="541" x2="434.5" y2="551.1" stroke="#111" stroke-width="1.15" stroke-linecap="round"/>
<line x1="434.5" y1="551.1" x2="433.8" y2="569.9" stroke="#111" stroke-width="1.15" stroke-linecap="round"/>
<line x1="399.2" y1="548.3" x2="397" y2="567.7" stroke="#111" stroke-width="3.4" stroke-linecap="round"/>
<line x1="397" y1="567.7" x2="415" y2="577.1" stroke="#111" stroke-width="3.4" stroke-linecap="round"/>
<line x1="415" y1="577.1" x2="433.8" y2="569.9" stroke="#111" stroke-width="3.4" stroke-linecap="round"/>
<line x1="403.28" y1="549.93" x2="416" y2="544.96" stroke="#111" stroke-width="1.15" stroke-linecap="round"/>
<line x1="431.39" y1="554" x2="430.91" y2="566.78" stroke="#111" stroke-width="1.15" stroke-linecap="round"/>
<line x1="413.51" y1="572.94" x2="401.27" y2="566.54" stroke="#111" stroke-width="1.15" stroke-linecap="round"/>
<line x1="417.9" y1="541" x2="418.6" y2="530.5" stroke="#111" stroke-width="1.15" stroke-linecap="round"/>
<line x1="434.5" y1="551.1" x2="452.5" y2="541" stroke="#111" stroke-width="1.15" stroke-linecap="round"/>
<line x1="399.2" y1="548.3" x2="388.3" y2="542.5" stroke="#111" stroke-width="1.15" stroke-linecap="round"/>
<line x1="397" y1="567.7" x2="379" y2="575.6" stroke="#111" stroke-width="1.15" stroke-linecap="round"/>
<line x1="379.7" y1="574.27" x2="369.5" y2="568.87" stroke="#111" stroke-width="1.15" stroke-linecap="round"/>
<line x1="378.3" y1="576.93" x2="368.1" y2="571.53" stroke="#111" stroke-width="1.15" stroke-linecap="round"/>
<line x1="379" y1="575.6" x2="378.3" y2="593" stroke="#111" stroke-width="1.15" stroke-linecap="round"/>
<line x1="378.3" y1="593" x2="395.6" y2="603" stroke="#111" stroke-width="1.15" stroke-linecap="round"/>
<line x1="382.57" y1="592" x2="394.33" y2="598.8" stroke="#111" stroke-width="1.15" stroke-linecap="round"/>
<line x1="378.3" y1="593" x2="365.3" y2="598.7" stroke="#111" stroke-width="1.15" stroke-linecap="round"/>
<line x1="395.6" y1="603" x2="395.6" y2="618.5" stroke="#111" stroke-width="1.15" stroke-linecap="round"/>
<line x1="395.6" y1="603" x2="407.1" y2="597.3" stroke="#111" stroke-width="1.15" stroke-linecap="round"/>
<line x1="415" y1="577.1" x2="415" y2="588.6" stroke="#111" stroke-width="1.15" stroke-linecap="round"/>
<text x="427.3" y="524.5" font-size="12.4" font-weight="normal" font-style="normal" text-anchor="end" fill="#111" stroke="none" transform="translate(427.3,524.5) scale(1.05,1) translate(-427.3,-524.5)">Cl</text>
<text x="386.9" y="541" font-size="12.4" font-weight="normal" font-style="normal" text-anchor="end" fill="#111" stroke="none" transform="translate(386.9,541) scale(1.05,1) translate(-386.9,-541)">HO</text>
<text x="361.7" y="567.7" font-size="12.4" font-weight="normal" font-style="normal" text-anchor="middle" fill="#111" stroke="none" transform="translate(361.7,567.7) scale(1.05,1) translate(-361.7,-567.7)">O</text>
<text x="363.8" y="603.8" font-size="12.4" font-weight="normal" font-style="normal" text-anchor="end" fill="#111" stroke="none" transform="translate(363.8,603.8) scale(1.05,1) translate(-363.8,-603.8)">HO</text>
<text x="413.6" y="598" font-size="12.4" font-weight="normal" font-style="normal" text-anchor="middle" fill="#111" stroke="none" transform="translate(413.6,598) scale(1.05,1) translate(-413.6,-598)">O</text>
<text x="345.1" y="626.8" font-size="12.4" font-weight="normal" font-style="normal" text-anchor="start" fill="#111" stroke="none" transform="translate(345.1,626.8) scale(1.1550000000000002,1) translate(-345.1,-626.8)">H<tspan dy="2.8" font-size="9">3</tspan><tspan dy="-2.8">CO</tspan><tspan dy="2.8" font-size="9">2</tspan><tspan dy="-2.8">C</tspan></text>
<circle cx="502.2" cy="580.2" r="12.4" fill="url(#bg)"/>
<line x1="509.2" y1="631.4" x2="488.2" y2="635.3" stroke="#111" stroke-width="1.15" stroke-linecap="round"/>
<line x1="488.2" y1="635.3" x2="473.5" y2="622.1" stroke="#111" stroke-width="1.15" stroke-linecap="round"/>
<line x1="473.5" y1="622.1" x2="478.1" y2="602.7" stroke="#111" stroke-width="1.15" stroke-linecap="round"/>
<line x1="509.2" y1="631.4" x2="523.1" y2="644.6" stroke="#111" stroke-width="1.15" stroke-linecap="round"/>
<line x1="523.1" y1="644.6" x2="518.5" y2="662.4" stroke="#111" stroke-width="1.15" stroke-linecap="round"/>
<line x1="518.5" y1="662.4" x2="497.5" y2="666.3" stroke="#111" stroke-width="1.15" stroke-linecap="round"/>
<line x1="497.5" y1="666.3" x2="483.5" y2="652.3" stroke="#111" stroke-width="1.15" stroke-linecap="round"/>
<line x1="483.5" y1="652.3" x2="488.2" y2="635.3" stroke="#111" stroke-width="1.15" stroke-linecap="round"/>
<line x1="518.5" y1="662.4" x2="532.4" y2="674.1" stroke="#111" stroke-width="1.15" stroke-linecap="round"/>
<line x1="532.4" y1="674.1" x2="527.8" y2="692.7" stroke="#111" stroke-width="1.15" stroke-linecap="round"/>
<line x1="527.8" y1="692.7" x2="506.8" y2="697.4" stroke="#111" stroke-width="1.15" stroke-linecap="round"/>
<line x1="506.8" y1="697.4" x2="492.1" y2="684.2" stroke="#111" stroke-width="1.15" stroke-linecap="round"/>
<line x1="492.1" y1="684.2" x2="497.5" y2="666.3" stroke="#111" stroke-width="1.15" stroke-linecap="round"/>
<line x1="478.1" y1="602.7" x2="499.1" y2="598" stroke="#111" stroke-width="3.3" stroke-linecap="round"/>
<line x1="499.1" y1="598" x2="513.8" y2="612" stroke="#111" stroke-width="3.3" stroke-linecap="round"/>
<line x1="513.8" y1="612" x2="509.2" y2="631.4" stroke="#111" stroke-width="3.3" stroke-linecap="round"/>
<line x1="482.12" y1="604.88" x2="496.4" y2="601.68" stroke="#111" stroke-width="1.15" stroke-linecap="round"/>
<line x1="510.14" y1="614.41" x2="507.02" y2="627.6" stroke="#111" stroke-width="1.15" stroke-linecap="round"/>
<line x1="487.85" y1="630.96" x2="477.86" y2="621.98" stroke="#111" stroke-width="1.15" stroke-linecap="round"/>
<line x1="528.75" y1="676.36" x2="525.62" y2="689" stroke="#111" stroke-width="1.15" stroke-linecap="round"/>
<line x1="506.45" y1="693.06" x2="496.46" y2="684.08" stroke="#111" stroke-width="1.15" stroke-linecap="round"/>
<line x1="515.69" y1="665.97" x2="501.41" y2="668.63" stroke="#111" stroke-width="1.15" stroke-linecap="round"/>
<line x1="499.1" y1="598" x2="505.3" y2="580.2" stroke="#111" stroke-width="1.15" stroke-linecap="round"/>
<line x1="505.3" y1="580.2" x2="498.3" y2="570.9" stroke="#111" stroke-width="1.15" stroke-linecap="round"/>
<text x="497" y="567.5" font-size="12.4" font-weight="normal" font-style="normal" text-anchor="end" fill="#111" stroke="none" transform="translate(497,567.5) scale(1.05,1) translate(-497,-567.5)">HO</text>
<line x1="473.5" y1="622.1" x2="460.3" y2="624.4" stroke="#111" stroke-width="1.15" stroke-linecap="round"/>
<text x="459.5" y="628.2" font-size="12.4" font-weight="normal" font-style="normal" text-anchor="end" fill="#111" stroke="none" transform="translate(459.5,628.2) scale(1.05,1) translate(-459.5,-628.2)">HO</text>
<line x1="482.99" y1="650.89" x2="469.89" y2="655.59" stroke="#111" stroke-width="1.15" stroke-linecap="round"/>
<line x1="484.01" y1="653.71" x2="470.91" y2="658.41" stroke="#111" stroke-width="1.15" stroke-linecap="round"/>
<text x="463.4" y="660.5" font-size="12.4" font-weight="normal" font-style="normal" text-anchor="middle" fill="#111" stroke="none" transform="translate(463.4,660.5) scale(1.05,1) translate(-463.4,-660.5)">O</text>
<line x1="523.57" y1="646.03" x2="537.57" y2="641.43" stroke="#111" stroke-width="1.15" stroke-linecap="round"/>
<line x1="522.63" y1="643.17" x2="536.63" y2="638.57" stroke="#111" stroke-width="1.15" stroke-linecap="round"/>
<text x="542.5" y="641" font-size="12.4" font-weight="normal" font-style="normal" text-anchor="middle" fill="#111" stroke="none" transform="translate(542.5,641) scale(1.05,1) translate(-542.5,-641)">O</text>
<line x1="532.4" y1="674.1" x2="546.4" y2="669.4" stroke="#111" stroke-width="1.15" stroke-linecap="round"/>
<text x="548" y="672.8" font-size="12.4" font-weight="normal" font-style="normal" text-anchor="start" fill="#111" stroke="none" transform="translate(548,672.8) scale(1.05,1) translate(-548,-672.8)">OH</text>
<line x1="492.1" y1="684.2" x2="478.1" y2="688" stroke="#111" stroke-width="1.15" stroke-linecap="round"/>
<text x="477" y="691.5" font-size="12.4" font-weight="normal" font-style="normal" text-anchor="end" fill="#111" stroke="none" transform="translate(477,691.5) scale(1.05,1) translate(-477,-691.5)">HO</text>
<line x1="433.8" y1="569.9" x2="478.1" y2="602.7" stroke="#d83a3a" stroke-width="1.0" stroke-linecap="round"/>
<text x="428.5" y="682.9" font-size="16.5" font-weight="bold" font-style="normal" text-anchor="middle" fill="#111" stroke="#111">22</text>
<line x1="75" y1="719.6" x2="93.7" y2="712.4" stroke="#1f1f8f" stroke-width="1.15" stroke-linecap="round"/>
<line x1="93.7" y1="712.4" x2="111" y2="721.8" stroke="#1f1f8f" stroke-width="1.15" stroke-linecap="round"/>
<line x1="111" y1="721.8" x2="110.3" y2="740.6" stroke="#1f1f8f" stroke-width="1.15" stroke-linecap="round"/>
<line x1="75" y1="719.6" x2="73.5" y2="738.4" stroke="#1f1f8f" stroke-width="3.4" stroke-linecap="round"/>
<line x1="73.5" y1="738.4" x2="91.6" y2="748.5" stroke="#1f1f8f" stroke-width="3.4" stroke-linecap="round"/>
<line x1="91.6" y1="748.5" x2="110.3" y2="740.6" stroke="#1f1f8f" stroke-width="3.4" stroke-linecap="round"/>
<line x1="79.07" y1="721.25" x2="91.79" y2="716.35" stroke="#1f1f8f" stroke-width="1.15" stroke-linecap="round"/>
<line x1="107.89" y1="724.7" x2="107.41" y2="737.48" stroke="#1f1f8f" stroke-width="1.15" stroke-linecap="round"/>
<line x1="90.17" y1="744.26" x2="77.86" y2="737.4" stroke="#1f1f8f" stroke-width="1.15" stroke-linecap="round"/>
<line x1="93.7" y1="712.4" x2="94.4" y2="701.2" stroke="#1f1f8f" stroke-width="1.15" stroke-linecap="round"/>
<line x1="111" y1="721.8" x2="129" y2="711.7" stroke="#111" stroke-width="1.15" stroke-linecap="round"/>
<line x1="75" y1="719.6" x2="64.2" y2="713.9" stroke="#1f1f8f" stroke-width="1.15" stroke-linecap="round"/>
<line x1="73.5" y1="738.4" x2="54.1" y2="746.3" stroke="#1f1f8f" stroke-width="1.15" stroke-linecap="round"/>
<line x1="54.86" y1="745.01" x2="44.56" y2="738.91" stroke="#1f1f8f" stroke-width="1.15" stroke-linecap="round"/>
<line x1="53.34" y1="747.59" x2="43.04" y2="741.49" stroke="#1f1f8f" stroke-width="1.15" stroke-linecap="round"/>
<line x1="54.1" y1="746.3" x2="54.1" y2="765.1" stroke="#1f1f8f" stroke-width="1.15" stroke-linecap="round"/>
<line x1="54.1" y1="765.1" x2="33.9" y2="773" stroke="#1f1f8f" stroke-width="1.15" stroke-linecap="round"/>
<line x1="33.9" y1="773" x2="33.2" y2="791" stroke="#1f1f8f" stroke-width="1.15" stroke-linecap="round"/>
<line x1="33.2" y1="791" x2="50.5" y2="801.1" stroke="#1f1f8f" stroke-width="1.15" stroke-linecap="round"/>
<line x1="50.5" y1="801.1" x2="70.6" y2="793.9" stroke="#1f1f8f" stroke-width="1.15" stroke-linecap="round"/>
<line x1="70.6" y1="793.9" x2="71.4" y2="775.2" stroke="#1f1f8f" stroke-width="1.15" stroke-linecap="round"/>
<line x1="71.4" y1="775.2" x2="54.1" y2="765.1" stroke="#1f1f8f" stroke-width="1.15" stroke-linecap="round"/>
<line x1="51.96" y1="769.16" x2="38.22" y2="774.53" stroke="#1f1f8f" stroke-width="1.15" stroke-linecap="round"/>
<line x1="33.9" y1="773" x2="23.8" y2="766.5" stroke="#1f1f8f" stroke-width="1.15" stroke-linecap="round"/>
<line x1="71.4" y1="775.2" x2="82.2" y2="782.4" stroke="#1f1f8f" stroke-width="1.15" stroke-linecap="round"/>
<line x1="91.6" y1="748.5" x2="90.8" y2="759.3" stroke="#1f1f8f" stroke-width="1.15" stroke-linecap="round"/>
<line x1="71.4" y1="775.2" x2="82.9" y2="770.8" stroke="#1f1f8f" stroke-width="1.15" stroke-linecap="round"/>
<line x1="70.6" y1="793.9" x2="80.7" y2="798.2" stroke="#1f1f8f" stroke-width="1.15" stroke-linecap="round"/>
<text x="103.1" y="695.1" font-size="12.4" font-weight="normal" font-style="normal" text-anchor="end" fill="#1f1f8f" stroke="none" transform="translate(103.1,695.1) scale(1.05,1) translate(-103.1,-695.1)">Cl</text>
<text x="62" y="711.7" font-size="12.4" font-weight="normal" font-style="normal" text-anchor="end" fill="#1f1f8f" stroke="none" transform="translate(62,711.7) scale(1.05,1) translate(-62,-711.7)">HO</text>
<text x="36.8" y="739.1" font-size="12.4" font-weight="normal" font-style="normal" text-anchor="middle" fill="#1f1f8f" stroke="none" transform="translate(36.8,739.1) scale(1.05,1) translate(-36.8,-739.1)">O</text>
<text x="21.6" y="765.1" font-size="12.4" font-weight="normal" font-style="normal" text-anchor="end" fill="#1f1f8f" stroke="none" transform="translate(21.6,765.1) scale(1.05,1) translate(-21.6,-765.1)">HO</text>
<text x="89.4" y="768.7" font-size="12.4" font-weight="normal" font-style="normal" text-anchor="middle" fill="#1f1f8f" stroke="none" transform="translate(89.4,768.7) scale(1.05,1) translate(-89.4,-768.7)">O</text>
<text x="83.6" y="788.1" font-size="12.4" font-weight="normal" font-style="normal" text-anchor="start" fill="#1f1f8f" stroke="none" transform="translate(83.6,788.1) scale(1.1550000000000002,1) translate(-83.6,-788.1)">CO<tspan dy="2.8" font-size="9">2</tspan><tspan dy="-2.8">CH</tspan><tspan dy="2.8" font-size="9">3</tspan></text>
<text x="82.2" y="805.4" font-size="12.4" font-weight="normal" font-style="normal" text-anchor="start" fill="#1f1f8f" stroke="none" transform="translate(82.2,805.4) scale(1.05,1) translate(-82.2,-805.4)">OH</text>
<circle cx="181.5" cy="749.1" r="12.5" fill="url(#bg)"/>
<line x1="186.5" y1="802.3" x2="165.7" y2="806.5" stroke="#111" stroke-width="1.15" stroke-linecap="round"/>
<line x1="165.7" y1="806.5" x2="149.9" y2="794" stroke="#111" stroke-width="1.15" stroke-linecap="round"/>
<line x1="149.9" y1="794" x2="154.9" y2="774.1" stroke="#111" stroke-width="1.15" stroke-linecap="round"/>
<line x1="186.5" y1="802.3" x2="200.6" y2="816.5" stroke="#111" stroke-width="1.15" stroke-linecap="round"/>
<line x1="200.6" y1="816.5" x2="195.6" y2="834.8" stroke="#111" stroke-width="1.15" stroke-linecap="round"/>
<line x1="195.6" y1="834.8" x2="174" y2="838.9" stroke="#111" stroke-width="1.15" stroke-linecap="round"/>
<line x1="174" y1="838.9" x2="159.9" y2="825.6" stroke="#111" stroke-width="1.15" stroke-linecap="round"/>
<line x1="159.9" y1="825.6" x2="165.7" y2="806.5" stroke="#111" stroke-width="1.15" stroke-linecap="round"/>
<line x1="195.6" y1="834.8" x2="209.8" y2="848.1" stroke="#111" stroke-width="1.15" stroke-linecap="round"/>
<line x1="209.8" y1="848.1" x2="204.8" y2="866.4" stroke="#111" stroke-width="1.15" stroke-linecap="round"/>
<line x1="204.8" y1="866.4" x2="184" y2="869.7" stroke="#111" stroke-width="1.15" stroke-linecap="round"/>
<line x1="184" y1="869.7" x2="169" y2="857.2" stroke="#111" stroke-width="1.15" stroke-linecap="round"/>
<line x1="169" y1="857.2" x2="174" y2="838.9" stroke="#111" stroke-width="1.15" stroke-linecap="round"/>
<line x1="154.9" y1="774.1" x2="176.5" y2="769.9" stroke="#111" stroke-width="3.3" stroke-linecap="round"/>
<line x1="176.5" y1="769.9" x2="191.5" y2="783.2" stroke="#111" stroke-width="3.3" stroke-linecap="round"/>
<line x1="191.5" y1="783.2" x2="186.5" y2="802.3" stroke="#111" stroke-width="3.3" stroke-linecap="round"/>
<line x1="158.93" y1="776.37" x2="173.62" y2="773.52" stroke="#111" stroke-width="1.15" stroke-linecap="round"/>
<line x1="187.8" y1="785.5" x2="184.4" y2="798.48" stroke="#111" stroke-width="1.15" stroke-linecap="round"/>
<line x1="165.03" y1="802.15" x2="154.29" y2="793.65" stroke="#111" stroke-width="1.15" stroke-linecap="round"/>
<line x1="206.11" y1="850.24" x2="202.71" y2="862.68" stroke="#111" stroke-width="1.15" stroke-linecap="round"/>
<line x1="183.52" y1="865.4" x2="173.32" y2="856.9" stroke="#111" stroke-width="1.15" stroke-linecap="round"/>
<line x1="192.7" y1="838.4" x2="178.02" y2="841.19" stroke="#111" stroke-width="1.15" stroke-linecap="round"/>
<line x1="149.9" y1="794" x2="137.4" y2="796.5" stroke="#111" stroke-width="1.15" stroke-linecap="round"/>
<text x="134.9" y="800.7" font-size="12.4" font-weight="normal" font-style="normal" text-anchor="end" fill="#111" stroke="none" transform="translate(134.9,800.7) scale(1.05,1) translate(-134.9,-800.7)">HO</text>
<line x1="159.42" y1="824.18" x2="146.92" y2="828.38" stroke="#111" stroke-width="1.15" stroke-linecap="round"/>
<line x1="160.38" y1="827.02" x2="147.88" y2="831.22" stroke="#111" stroke-width="1.15" stroke-linecap="round"/>
<text x="139.9" y="833.1" font-size="12.4" font-weight="normal" font-style="normal" text-anchor="middle" fill="#111" stroke="none" transform="translate(139.9,833.1) scale(1.05,1) translate(-139.9,-833.1)">O</text>
<line x1="201.08" y1="817.92" x2="213.58" y2="813.72" stroke="#111" stroke-width="1.15" stroke-linecap="round"/>
<line x1="200.12" y1="815.08" x2="212.62" y2="810.88" stroke="#111" stroke-width="1.15" stroke-linecap="round"/>
<text x="219.8" y="813.2" font-size="12.4" font-weight="normal" font-style="normal" text-anchor="middle" fill="#111" stroke="none" transform="translate(219.8,813.2) scale(1.05,1) translate(-219.8,-813.2)">O</text>
<line x1="209.8" y1="848.1" x2="223.1" y2="844.8" stroke="#111" stroke-width="1.15" stroke-linecap="round"/>
<text x="225.6" y="845.6" font-size="12.4" font-weight="normal" font-style="normal" text-anchor="start" fill="#111" stroke="none" transform="translate(225.6,845.6) scale(1.05,1) translate(-225.6,-845.6)">OH</text>
<line x1="169" y1="857.2" x2="154.9" y2="860.5" stroke="#111" stroke-width="1.15" stroke-linecap="round"/>
<text x="154.1" y="864.7" font-size="12.4" font-weight="normal" font-style="normal" text-anchor="end" fill="#111" stroke="none" transform="translate(154.1,864.7) scale(1.05,1) translate(-154.1,-864.7)">HO</text>
<line x1="176.5" y1="769.9" x2="181.5" y2="751.6" stroke="#111" stroke-width="1.15" stroke-linecap="round"/>
<line x1="181.5" y1="751.6" x2="175.7" y2="742.5" stroke="#111" stroke-width="1.15" stroke-linecap="round"/>
<text x="175.7" y="737.5" font-size="12.4" font-weight="normal" font-style="normal" text-anchor="end" fill="#111" stroke="none" transform="translate(175.7,737.5) scale(1.05,1) translate(-175.7,-737.5)">HO</text>
<line x1="110.3" y1="740.6" x2="154.9" y2="774.1" stroke="#d83a3a" stroke-width="1.0" stroke-linecap="round"/>
<text x="108.6" y="886" font-size="16.5" font-weight="bold" font-style="normal" text-anchor="middle" fill="#111" stroke="#111">23a-d</text>
<line x1="327.7" y1="718.2" x2="346.4" y2="711" stroke="#1f1f8f" stroke-width="1.15" stroke-linecap="round"/>
<line x1="346.4" y1="711" x2="363.7" y2="720.4" stroke="#1f1f8f" stroke-width="1.15" stroke-linecap="round"/>
<line x1="363.7" y1="720.4" x2="363" y2="739.2" stroke="#1f1f8f" stroke-width="1.15" stroke-linecap="round"/>
<line x1="327.7" y1="718.2" x2="326.2" y2="737" stroke="#1f1f8f" stroke-width="3.4" stroke-linecap="round"/>
<line x1="326.2" y1="737" x2="344.3" y2="747.1" stroke="#1f1f8f" stroke-width="3.4" stroke-linecap="round"/>
<line x1="344.3" y1="747.1" x2="363" y2="739.2" stroke="#1f1f8f" stroke-width="3.4" stroke-linecap="round"/>
<line x1="331.77" y1="719.85" x2="344.49" y2="714.95" stroke="#1f1f8f" stroke-width="1.15" stroke-linecap="round"/>
<line x1="360.59" y1="723.3" x2="360.11" y2="736.08" stroke="#1f1f8f" stroke-width="1.15" stroke-linecap="round"/>
<line x1="342.87" y1="742.86" x2="330.56" y2="736" stroke="#1f1f8f" stroke-width="1.15" stroke-linecap="round"/>
<line x1="346.4" y1="711" x2="347.1" y2="699.8" stroke="#1f1f8f" stroke-width="1.15" stroke-linecap="round"/>
<line x1="363.7" y1="720.4" x2="381.7" y2="710.3" stroke="#111" stroke-width="1.15" stroke-linecap="round"/>
<line x1="327.7" y1="718.2" x2="316.9" y2="712.5" stroke="#1f1f8f" stroke-width="1.15" stroke-linecap="round"/>
<line x1="326.2" y1="737" x2="306.8" y2="744.9" stroke="#1f1f8f" stroke-width="1.15" stroke-linecap="round"/>
<line x1="307.56" y1="743.61" x2="297.26" y2="737.51" stroke="#1f1f8f" stroke-width="1.15" stroke-linecap="round"/>
<line x1="306.04" y1="746.19" x2="295.74" y2="740.09" stroke="#1f1f8f" stroke-width="1.15" stroke-linecap="round"/>
<line x1="306.8" y1="744.9" x2="306.8" y2="763.7" stroke="#1f1f8f" stroke-width="1.15" stroke-linecap="round"/>
<line x1="306.8" y1="763.7" x2="286.6" y2="771.6" stroke="#1f1f8f" stroke-width="1.15" stroke-linecap="round"/>
<line x1="286.6" y1="771.6" x2="285.9" y2="789.6" stroke="#1f1f8f" stroke-width="1.15" stroke-linecap="round"/>
<line x1="285.9" y1="789.6" x2="303.2" y2="799.7" stroke="#1f1f8f" stroke-width="1.15" stroke-linecap="round"/>
<line x1="303.2" y1="799.7" x2="323.3" y2="792.5" stroke="#1f1f8f" stroke-width="1.15" stroke-linecap="round"/>
<line x1="323.3" y1="792.5" x2="324.1" y2="773.8" stroke="#1f1f8f" stroke-width="1.15" stroke-linecap="round"/>
<line x1="324.1" y1="773.8" x2="306.8" y2="763.7" stroke="#1f1f8f" stroke-width="1.15" stroke-linecap="round"/>
<line x1="304.66" y1="767.76" x2="290.92" y2="773.13" stroke="#1f1f8f" stroke-width="1.15" stroke-linecap="round"/>
<line x1="286.6" y1="771.6" x2="276.5" y2="765.1" stroke="#1f1f8f" stroke-width="1.15" stroke-linecap="round"/>
<line x1="324.1" y1="773.8" x2="334.9" y2="781" stroke="#1f1f8f" stroke-width="1.15" stroke-linecap="round"/>
<line x1="344.3" y1="747.1" x2="343.5" y2="757.9" stroke="#1f1f8f" stroke-width="1.15" stroke-linecap="round"/>
<line x1="324.1" y1="773.8" x2="335.6" y2="769.4" stroke="#1f1f8f" stroke-width="1.15" stroke-linecap="round"/>
<line x1="323.3" y1="792.5" x2="333.4" y2="796.8" stroke="#1f1f8f" stroke-width="1.15" stroke-linecap="round"/>
<text x="355.8" y="693.7" font-size="12.4" font-weight="normal" font-style="normal" text-anchor="end" fill="#1f1f8f" stroke="none" transform="translate(355.8,693.7) scale(1.05,1) translate(-355.8,-693.7)">Cl</text>
<text x="314.7" y="710.3" font-size="12.4" font-weight="normal" font-style="normal" text-anchor="end" fill="#1f1f8f" stroke="none" transform="translate(314.7,710.3) scale(1.05,1) translate(-314.7,-710.3)">HO</text>
<text x="289.5" y="737.7" font-size="12.4" font-weight="normal" font-style="normal" text-anchor="middle" fill="#1f1f8f" stroke="none" transform="translate(289.5,737.7) scale(1.05,1) translate(-289.5,-737.7)">O</text>
<text x="274.3" y="763.7" font-size="12.4" font-weight="normal" font-style="normal" text-anchor="end" fill="#1f1f8f" stroke="none" transform="translate(274.3,763.7) scale(1.05,1) translate(-274.3,-763.7)">HO</text>
<text x="342.1" y="767.3" font-size="12.4" font-weight="normal" font-style="normal" text-anchor="middle" fill="#1f1f8f" stroke="none" transform="translate(342.1,767.3) scale(1.05,1) translate(-342.1,-767.3)">O</text>
<text x="336.3" y="786.7" font-size="12.4" font-weight="normal" font-style="normal" text-anchor="start" fill="#1f1f8f" stroke="none" transform="translate(336.3,786.7) scale(1.1550000000000002,1) translate(-336.3,-786.7)">CO<tspan dy="2.8" font-size="9">2</tspan><tspan dy="-2.8">CH</tspan><tspan dy="2.8" font-size="9">3</tspan></text>
<text x="334.9" y="804" font-size="12.4" font-weight="normal" font-style="normal" text-anchor="start" fill="#1f1f8f" stroke="none" transform="translate(334.9,804) scale(1.05,1) translate(-334.9,-804)">OH</text>
<circle cx="435.1" cy="749.6" r="12.5" fill="url(#bg)"/>
<line x1="439" y1="801.6" x2="418.2" y2="805.8" stroke="#111" stroke-width="1.15" stroke-linecap="round"/>
<line x1="418.2" y1="805.8" x2="402.4" y2="793.3" stroke="#111" stroke-width="1.15" stroke-linecap="round"/>
<line x1="402.4" y1="793.3" x2="407.4" y2="773.4" stroke="#111" stroke-width="1.15" stroke-linecap="round"/>
<line x1="439" y1="801.6" x2="453.1" y2="815.8" stroke="#111" stroke-width="1.15" stroke-linecap="round"/>
<line x1="453.1" y1="815.8" x2="448.1" y2="834.1" stroke="#111" stroke-width="1.15" stroke-linecap="round"/>
<line x1="448.1" y1="834.1" x2="426.5" y2="838.2" stroke="#111" stroke-width="1.15" stroke-linecap="round"/>
<line x1="426.5" y1="838.2" x2="412.4" y2="824.9" stroke="#111" stroke-width="1.15" stroke-linecap="round"/>
<line x1="412.4" y1="824.9" x2="418.2" y2="805.8" stroke="#111" stroke-width="1.15" stroke-linecap="round"/>
<line x1="448.1" y1="834.1" x2="462.3" y2="847.4" stroke="#111" stroke-width="1.15" stroke-linecap="round"/>
<line x1="462.3" y1="847.4" x2="457.3" y2="865.7" stroke="#111" stroke-width="1.15" stroke-linecap="round"/>
<line x1="457.3" y1="865.7" x2="436.5" y2="869" stroke="#111" stroke-width="1.15" stroke-linecap="round"/>
<line x1="436.5" y1="869" x2="421.5" y2="856.5" stroke="#111" stroke-width="1.15" stroke-linecap="round"/>
<line x1="421.5" y1="856.5" x2="426.5" y2="838.2" stroke="#111" stroke-width="1.15" stroke-linecap="round"/>
<line x1="407.4" y1="773.4" x2="429" y2="769.2" stroke="#111" stroke-width="3.3" stroke-linecap="round"/>
<line x1="429" y1="769.2" x2="444" y2="782.5" stroke="#111" stroke-width="3.3" stroke-linecap="round"/>
<line x1="444" y1="782.5" x2="439" y2="801.6" stroke="#111" stroke-width="3.3" stroke-linecap="round"/>
<line x1="411.43" y1="775.67" x2="426.12" y2="772.82" stroke="#111" stroke-width="1.15" stroke-linecap="round"/>
<line x1="440.3" y1="784.8" x2="436.9" y2="797.78" stroke="#111" stroke-width="1.15" stroke-linecap="round"/>
<line x1="417.53" y1="801.45" x2="406.79" y2="792.95" stroke="#111" stroke-width="1.15" stroke-linecap="round"/>
<line x1="458.61" y1="849.54" x2="455.21" y2="861.98" stroke="#111" stroke-width="1.15" stroke-linecap="round"/>
<line x1="436.02" y1="864.7" x2="425.82" y2="856.2" stroke="#111" stroke-width="1.15" stroke-linecap="round"/>
<line x1="445.2" y1="837.7" x2="430.52" y2="840.49" stroke="#111" stroke-width="1.15" stroke-linecap="round"/>
<line x1="402.4" y1="793.3" x2="389.9" y2="795.8" stroke="#111" stroke-width="1.15" stroke-linecap="round"/>
<text x="387.4" y="800" font-size="12.4" font-weight="normal" font-style="normal" text-anchor="end" fill="#111" stroke="none" transform="translate(387.4,800) scale(1.05,1) translate(-387.4,-800)">HO</text>
<line x1="411.92" y1="823.48" x2="399.42" y2="827.68" stroke="#111" stroke-width="1.15" stroke-linecap="round"/>
<line x1="412.88" y1="826.32" x2="400.38" y2="830.52" stroke="#111" stroke-width="1.15" stroke-linecap="round"/>
<text x="392.4" y="832.4" font-size="12.4" font-weight="normal" font-style="normal" text-anchor="middle" fill="#111" stroke="none" transform="translate(392.4,832.4) scale(1.05,1) translate(-392.4,-832.4)">O</text>
<line x1="453.58" y1="817.22" x2="466.08" y2="813.02" stroke="#111" stroke-width="1.15" stroke-linecap="round"/>
<line x1="452.62" y1="814.38" x2="465.12" y2="810.18" stroke="#111" stroke-width="1.15" stroke-linecap="round"/>
<text x="472.3" y="812.5" font-size="12.4" font-weight="normal" font-style="normal" text-anchor="middle" fill="#111" stroke="none" transform="translate(472.3,812.5) scale(1.05,1) translate(-472.3,-812.5)">O</text>
<line x1="462.3" y1="847.4" x2="475.6" y2="844.1" stroke="#111" stroke-width="1.15" stroke-linecap="round"/>
<text x="478.1" y="844.9" font-size="12.4" font-weight="normal" font-style="normal" text-anchor="start" fill="#111" stroke="none" transform="translate(478.1,844.9) scale(1.05,1) translate(-478.1,-844.9)">OH</text>
<line x1="421.5" y1="856.5" x2="407.4" y2="859.8" stroke="#111" stroke-width="1.15" stroke-linecap="round"/>
<text x="406.6" y="864" font-size="12.4" font-weight="normal" font-style="normal" text-anchor="end" fill="#111" stroke="none" transform="translate(406.6,864) scale(1.05,1) translate(-406.6,-864)">HO</text>
<line x1="429" y1="769.2" x2="434.8" y2="750.4" stroke="#111" stroke-width="1.15" stroke-linecap="round"/>
<line x1="363" y1="739.2" x2="407.4" y2="773.4" stroke="#d83a3a" stroke-width="1.0" stroke-linecap="round"/>
<text x="364.1" y="887.3" font-size="16.5" font-weight="bold" font-style="normal" text-anchor="middle" fill="#111" stroke="#111">24a-d</text>
</svg></body></html>
